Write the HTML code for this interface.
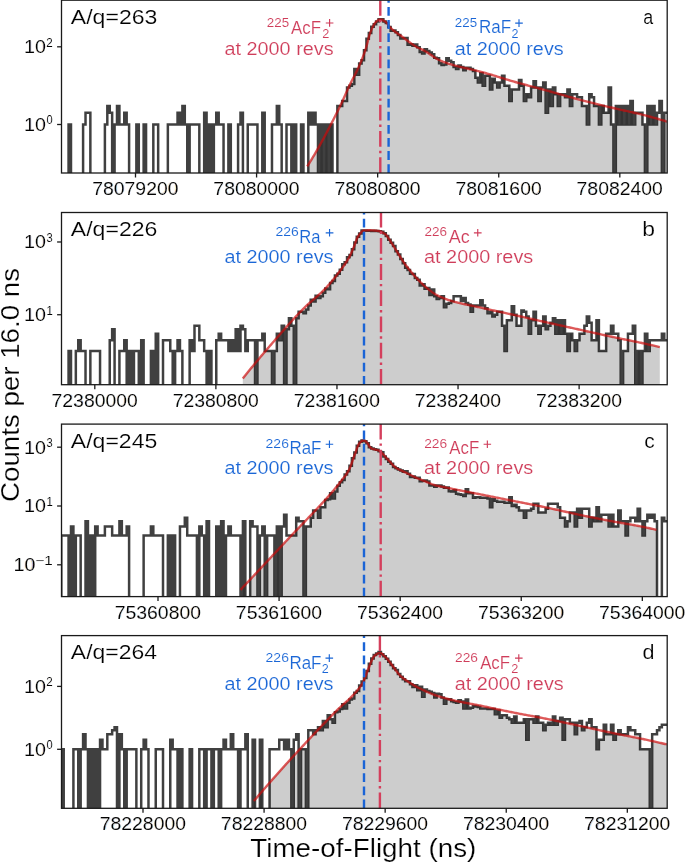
<!DOCTYPE html>
<html><head><meta charset="utf-8"><style>
html,body{margin:0;padding:0;background:#fff;}
svg{display:block;font-family:"Liberation Sans",sans-serif;}
text{font-family:"Liberation Sans",sans-serif;stroke:#fff;}
</style></head><body>
<svg width="685" height="863" viewBox="0 0 685 863">
<rect width="685" height="863" fill="#fff"/>
<clipPath id="clipa"><rect x="61.5" y="0.2" width="605.7" height="172.8"/></clipPath>
<g clip-path="url(#clipa)">
<path d="M307.2,176 L307.2,178 L307.45,178 L307.7,178 L307.95,178 L308.2,178 L308.45,164.45 L308.7,164.05 L308.95,163.66 L309.2,163.26 L309.45,162.86 L309.7,162.46 L309.95,162.06 L310.2,161.66 L310.45,161.26 L310.7,160.85 L310.95,160.44 L311.2,160.04 L311.45,159.63 L311.7,159.22 L311.95,158.81 L312.2,158.39 L312.45,157.98 L312.7,157.56 L312.95,157.15 L313.2,156.73 L313.45,156.31 L313.7,155.89 L313.95,155.47 L314.2,155.04 L314.45,154.62 L314.7,154.2 L314.95,153.77 L315.2,153.34 L315.45,152.91 L315.7,152.48 L315.95,152.05 L316.2,151.62 L316.45,151.19 L316.7,150.75 L316.95,150.32 L317.2,149.88 L317.45,149.44 L317.7,149 L317.95,148.56 L318.2,178 L318.45,178 L318.7,178 L318.95,178 L319.2,178 L319.45,178 L319.7,178 L319.95,178 L320.2,178 L320.45,144.11 L320.7,143.65 L320.95,143.2 L321.2,142.75 L321.45,142.29 L321.7,141.84 L321.95,141.38 L322.2,140.92 L322.45,140.46 L322.7,140.01 L322.95,178 L323.2,178 L323.45,178 L323.7,178 L323.95,178 L324.2,178 L324.45,178 L324.7,178 L324.95,178 L325.2,178 L325.45,134.89 L325.7,134.42 L325.95,133.95 L326.2,133.48 L326.45,133 L326.7,132.53 L326.95,132.05 L327.2,131.58 L327.45,131.1 L327.7,178 L327.95,178 L328.2,178 L328.45,178 L328.7,178 L328.95,178 L329.2,178 L329.45,178 L329.7,178 L329.95,178 L330.2,125.81 L330.45,125.33 L330.7,124.84 L330.95,124.5 L331.2,124.5 L331.45,124.5 L331.7,124.5 L331.95,124.5 L332.2,124.5 L332.45,124.5 L332.7,178 L332.95,178 L333.2,178 L333.45,178 L333.7,178 L333.95,178 L334.2,178 L334.45,178 L334.7,178 L334.95,178 L335.2,178 L335.45,178 L335.7,178 L335.95,178 L336.2,178 L336.45,178 L336.7,178 L336.95,178 L337.2,178 L337.45,111.46 L337.7,110.96 L337.95,110.45 L338.2,109.95 L338.45,109.44 L338.7,108.94 L338.95,108.43 L339.2,107.92 L339.45,107.42 L339.7,106.91 L339.95,106.4 L340.2,105.96 L340.45,105.96 L340.7,105.96 L340.95,105.96 L341.2,105.96 L341.45,105.96 L341.7,105.96 L341.95,105.96 L342.2,105.96 L342.45,101.11 L342.7,101.11 L342.95,101.11 L343.2,101.11 L343.45,101.11 L343.7,101.11 L343.95,101.11 L344.2,101.11 L344.45,101.11 L344.7,101.11 L344.95,101.11 L345.2,101.11 L345.45,101.11 L345.7,101.11 L345.95,101.11 L346.2,101.11 L346.45,101.11 L346.7,101.11 L346.95,101.11 L347.2,90.39 L347.45,89.84 L347.7,89.28 L347.95,88.73 L348.2,88.18 L348.45,87.64 L348.7,87.43 L348.95,87.43 L349.2,87.43 L349.45,87.43 L349.7,85.65 L349.95,85.65 L350.2,85.65 L350.45,85.65 L350.7,85.65 L350.95,85.65 L351.2,85.65 L351.45,85.65 L351.7,85.65 L351.95,84.04 L352.2,84.04 L352.45,84.04 L352.7,84.04 L352.95,84.04 L353.2,84.04 L353.45,84.04 L353.7,84.04 L353.95,84.04 L354.2,84.04 L354.45,75.73 L354.7,75.25 L354.95,74.77 L355.2,74.29 L355.45,73.8 L355.7,73.32 L355.95,72.82 L356.2,72.33 L356.45,71.83 L356.7,71.32 L356.95,74.82 L357.2,74.82 L357.45,74.82 L357.7,74.82 L357.95,74.82 L358.2,74.82 L358.45,74.82 L358.7,74.82 L358.95,74.82 L359.2,65.94 L359.45,65.37 L359.7,64.79 L359.95,64.21 L360.2,63.62 L360.45,63.58 L360.7,63.58 L360.95,63.58 L361.2,63.58 L361.45,63.58 L361.7,60.27 L361.95,60.27 L362.2,60.27 L362.45,60.27 L362.7,60.27 L362.95,60.27 L363.2,60.27 L363.45,60.27 L363.7,60.27 L363.95,60.27 L364.2,53.37 L364.45,52.67 L364.7,51.95 L364.95,51.23 L365.2,50.49 L365.45,50.36 L365.7,50.36 L365.95,50.36 L366.2,50.36 L366.45,46.46 L366.7,45.53 L366.95,44.59 L367.2,43.62 L367.45,42.63 L367.7,41.64 L367.95,40.65 L368.2,39.67 L368.45,38.87 L368.7,38.87 L368.95,36.82 L369.2,35.93 L369.45,35.07 L369.7,34.27 L369.95,33.51 L370.2,33.12 L370.45,33.12 L370.7,33.12 L370.95,33.12 L371.2,33.12 L371.45,29.79 L371.7,29.21 L371.95,28.65 L372.2,28.1 L372.45,27.55 L372.7,27.03 L372.95,26.86 L373.2,26.86 L373.45,26.86 L373.7,25.08 L373.95,24.64 L374.2,24.23 L374.45,24.23 L374.7,24.23 L374.95,24.23 L375.2,24.23 L375.45,24.23 L375.7,24.23 L375.95,24.23 L376.2,21.71 L376.45,21.61 L376.7,21.61 L376.95,21.61 L377.2,21.61 L377.45,21.61 L377.7,21.61 L377.95,21.61 L378.2,21.61 L378.45,21.61 L378.7,19.83 L378.95,19.7 L379.2,19.6 L379.45,19.51 L379.7,19.45 L379.95,19.41 L380.2,19.4 L380.45,19.41 L380.7,19.43 L380.95,19.47 L381.2,19.52 L381.45,19.59 L381.7,19.67 L381.95,19.76 L382.2,19.86 L382.45,19.97 L382.7,20.09 L382.95,20.22 L383.2,20.36 L383.45,21.5 L383.7,21.5 L383.95,21.5 L384.2,21.5 L384.45,21.5 L384.7,21.5 L384.95,21.5 L385.2,21.6 L385.45,21.77 L385.7,21.94 L385.95,22.95 L386.2,22.95 L386.45,22.95 L386.7,22.95 L386.95,23.15 L387.2,23.44 L387.45,23.75 L387.7,24.08 L387.95,24.41 L388.2,24.74 L388.45,27.07 L388.7,27.07 L388.95,27.07 L389.2,27.07 L389.45,27.07 L389.7,27.07 L389.95,27.1 L390.2,27.41 L390.45,27.71 L390.7,30.68 L390.95,30.68 L391.2,30.68 L391.45,30.68 L391.7,30.68 L391.95,30.68 L392.2,30.68 L392.45,30.68 L392.7,30.68 L392.95,30.68 L393.2,30.61 L393.45,30.61 L393.7,30.66 L393.95,30.86 L394.2,31.06 L394.45,31.25 L394.7,31.44 L394.95,31.63 L395.2,31.82 L395.45,32 L395.7,32.24 L395.95,32.37 L396.2,32.55 L396.45,32.73 L396.7,32.9 L396.95,33.08 L397.2,33.25 L397.45,33.43 L397.7,33.6 L397.95,34.94 L398.2,34.94 L398.45,34.94 L398.7,34.94 L398.95,34.94 L399.2,34.94 L399.45,34.94 L399.7,34.97 L399.95,35.14 L400.2,35.31 L400.45,38.45 L400.7,38.45 L400.95,38.45 L401.2,38.45 L401.45,38.45 L401.7,38.45 L401.95,38.45 L402.2,38.45 L402.45,38.45 L402.7,38.45 L402.95,38.25 L403.2,38.25 L403.45,38.25 L403.7,38.25 L403.95,38.25 L404.2,38.25 L404.45,38.37 L404.7,38.56 L404.95,38.75 L405.2,38.94 L405.45,39.12 L405.7,39.31 L405.95,39.5 L406.2,39.69 L406.45,39.88 L406.7,40.07 L406.95,40.26 L407.2,40.45 L407.45,40.64 L407.7,44.74 L407.95,44.74 L408.2,44.74 L408.45,44.74 L408.7,44.74 L408.95,44.74 L409.2,44.74 L409.45,44.74 L409.7,44.74 L409.95,44.74 L410.2,44.15 L410.45,44.15 L410.7,44.15 L410.95,44.15 L411.2,44.15 L411.45,44.15 L411.7,44.15 L411.95,44.15 L412.2,44.15 L412.45,45.66 L412.7,45.66 L412.95,45.66 L413.2,45.66 L413.45,45.66 L413.7,45.66 L413.95,45.66 L414.2,45.66 L414.45,45.66 L414.7,45.77 L414.95,45.93 L415.2,46.08 L415.45,46.23 L415.7,46.38 L415.95,46.53 L416.2,46.67 L416.45,46.82 L416.7,46.96 L416.95,47.09 L417.2,47.23 L417.45,47.36 L417.7,47.49 L417.95,47.62 L418.2,47.75 L418.45,47.87 L418.7,48 L418.95,48.12 L419.2,48.24 L419.45,48.36 L419.7,51.88 L419.95,51.88 L420.2,51.88 L420.45,51.88 L420.7,51.88 L420.95,51.88 L421.2,51.88 L421.45,51.88 L421.7,51.88 L421.95,51.88 L422.2,53.56 L422.45,53.56 L422.7,53.56 L422.95,53.56 L423.2,53.56 L423.45,53.56 L423.7,53.56 L423.95,53.56 L424.2,53.56 L424.45,53.56 L424.7,50.92 L424.95,51.05 L425.2,51.19 L425.45,51.33 L425.7,51.47 L425.95,51.62 L426.2,51.76 L426.45,51.91 L426.7,52.07 L426.95,52.22 L427.2,52.38 L427.45,52.54 L427.7,52.7 L427.95,52.86 L428.2,53.03 L428.45,53.2 L428.7,53.36 L428.95,53.53 L429.2,53.7 L429.45,53.88 L429.7,54.05 L429.95,54.22 L430.2,54.4 L430.45,54.57 L430.7,54.75 L430.95,54.92 L431.2,55.1 L431.45,55.27 L431.7,55.45 L431.95,55.62 L432.2,55.8 L432.45,55.97 L432.7,56.15 L432.95,56.32 L433.2,56.49 L433.45,56.66 L433.7,56.83 L433.95,57 L434.2,57.17 L434.45,57.83 L434.7,57.83 L434.95,57.83 L435.2,57.83 L435.45,57.98 L435.7,58.14 L435.95,58.29 L436.2,58.44 L436.45,58.59 L436.7,58.74 L436.95,58.88 L437.2,59.02 L437.45,59.16 L437.7,59.3 L437.95,59.43 L438.2,59.56 L438.45,59.68 L438.7,59.8 L438.95,59.92 L439.2,63.13 L439.45,63.13 L439.7,63.13 L439.95,63.13 L440.2,63.13 L440.45,63.13 L440.7,63.13 L440.95,63.13 L441.2,63.13 L441.45,63.13 L441.7,65 L441.95,65 L442.2,65 L442.45,65 L442.7,65 L442.95,65 L443.2,65 L443.45,65 L443.7,65 L443.95,64.51 L444.2,64.51 L444.45,64.51 L444.7,64.51 L444.95,64.51 L445.2,64.51 L445.45,64.51 L445.7,64.51 L445.95,64.51 L446.2,64.51 L446.45,62.94 L446.7,63.02 L446.95,63.11 L447.2,63.19 L447.45,63.28 L447.7,63.36 L447.95,63.44 L448.2,63.53 L448.45,63.61 L448.7,63.69 L448.95,63.77 L449.2,63.85 L449.45,63.93 L449.7,64.01 L449.95,64.08 L450.2,64.16 L450.45,64.24 L450.7,64.32 L450.95,64.39 L451.2,64.47 L451.45,64.54 L451.7,64.62 L451.95,64.69 L452.2,64.76 L452.45,64.84 L452.7,64.91 L452.95,64.98 L453.2,65.05 L453.45,65.12 L453.7,67.11 L453.95,67.11 L454.2,67.11 L454.45,67.11 L454.7,67.11 L454.95,67.11 L455.2,67.11 L455.45,67.11 L455.7,67.11 L455.95,67.11 L456.2,68.89 L456.45,68.89 L456.7,68.89 L456.95,68.89 L457.2,68.89 L457.45,68.89 L457.7,68.89 L457.95,68.89 L458.2,68.89 L458.45,66.45 L458.7,66.52 L458.95,66.58 L459.2,66.64 L459.45,66.7 L459.7,66.77 L459.95,66.83 L460.2,66.89 L460.45,66.95 L460.7,67.01 L460.95,67.11 L461.2,67.13 L461.45,67.19 L461.7,67.25 L461.95,67.31 L462.2,67.37 L462.45,67.43 L462.7,67.49 L462.95,67.54 L463.2,67.6 L463.45,70.19 L463.7,70.19 L463.95,70.19 L464.2,70.19 L464.45,70.19 L464.7,70.19 L464.95,70.19 L465.2,70.19 L465.45,70.19 L465.7,70.19 L465.95,68.24 L466.2,68.29 L466.45,68.35 L466.7,68.41 L466.95,68.46 L467.2,68.52 L467.45,68.58 L467.7,68.63 L467.95,68.69 L468.2,68.75 L468.45,68.8 L468.7,68.86 L468.95,68.92 L469.2,68.97 L469.45,69.03 L469.7,69.09 L469.95,69.14 L470.2,69.2 L470.45,69.26 L470.7,69.31 L470.95,69.37 L471.2,69.43 L471.45,69.49 L471.7,69.54 L471.95,69.6 L472.2,69.66 L472.45,69.71 L472.7,69.77 L472.95,69.83 L473.2,70.88 L473.45,70.88 L473.7,70.88 L473.95,70.88 L474.2,70.88 L474.45,70.88 L474.7,70.88 L474.95,70.88 L475.2,70.88 L475.45,77.72 L475.7,77.72 L475.95,77.72 L476.2,77.72 L476.45,77.72 L476.7,77.72 L476.95,77.72 L477.2,77.72 L477.45,77.72 L477.7,77.72 L477.95,82.57 L478.2,82.57 L478.45,82.57 L478.7,82.57 L478.95,82.57 L479.2,82.57 L479.45,82.57 L479.7,82.57 L479.95,82.57 L480.2,82.57 L480.45,73.13 L480.7,73.13 L480.95,73.13 L481.2,73.13 L481.45,73.13 L481.7,73.13 L481.95,73.13 L482.2,73.13 L482.45,73.13 L482.7,85.65 L482.95,85.65 L483.2,85.65 L483.45,85.65 L483.7,85.65 L483.95,85.65 L484.2,85.65 L484.45,85.65 L484.7,85.65 L484.95,85.65 L485.2,75.73 L485.45,75.73 L485.7,75.73 L485.95,75.73 L486.2,75.73 L486.45,75.73 L486.7,75.73 L486.95,75.73 L487.2,75.73 L487.45,75.73 L487.7,75.73 L487.95,75.73 L488.2,75.73 L488.45,75.73 L488.7,75.73 L488.95,75.73 L489.2,75.73 L489.45,75.73 L489.7,75.73 L489.95,89.41 L490.2,89.41 L490.45,89.41 L490.7,89.41 L490.95,89.41 L491.2,89.41 L491.45,89.41 L491.7,89.41 L491.95,89.41 L492.2,89.41 L492.45,78.81 L492.7,78.81 L492.95,78.81 L493.2,78.81 L493.45,78.81 L493.7,78.81 L493.95,78.81 L494.2,78.81 L494.45,78.81 L494.7,78.81 L494.95,82.57 L495.2,82.57 L495.45,82.57 L495.7,82.57 L495.95,82.57 L496.2,82.57 L496.45,82.57 L496.7,82.57 L496.95,82.57 L497.2,87.43 L497.45,87.43 L497.7,87.43 L497.95,87.43 L498.2,87.43 L498.45,87.43 L498.7,87.43 L498.95,87.43 L499.2,87.43 L499.45,87.43 L499.7,82.57 L499.95,82.57 L500.2,82.57 L500.45,82.57 L500.7,82.57 L500.95,82.57 L501.2,82.57 L501.45,82.57 L501.7,82.57 L501.95,82.57 L502.2,78.1 L502.45,78.18 L502.7,78.26 L502.95,78.34 L503.2,78.41 L503.45,78.49 L503.7,78.57 L503.95,78.64 L504.2,78.72 L504.45,78.8 L504.7,85.65 L504.95,85.65 L505.2,85.65 L505.45,85.65 L505.7,85.65 L505.95,85.65 L506.2,85.65 L506.45,85.65 L506.7,85.65 L506.95,85.65 L507.2,85.65 L507.45,85.65 L507.7,85.65 L507.95,85.65 L508.2,85.65 L508.45,85.65 L508.7,85.65 L508.95,85.65 L509.2,85.65 L509.45,101.11 L509.7,101.11 L509.95,101.11 L510.2,101.11 L510.45,101.11 L510.7,101.11 L510.95,101.11 L511.2,101.11 L511.45,101.11 L511.7,101.11 L511.95,89.41 L512.2,89.41 L512.45,89.41 L512.7,89.41 L512.95,89.41 L513.2,89.41 L513.45,89.41 L513.7,89.41 L513.95,89.41 L514.2,89.41 L514.45,89.41 L514.7,89.41 L514.95,89.41 L515.2,89.41 L515.45,89.41 L515.7,89.41 L515.95,89.41 L516.2,89.41 L516.45,89.41 L516.7,89.41 L516.95,89.41 L517.2,89.41 L517.45,89.41 L517.7,89.41 L517.95,89.41 L518.2,89.41 L518.45,89.41 L518.7,89.41 L518.95,89.41 L519.2,83.1 L519.45,83.17 L519.7,83.24 L519.95,83.31 L520.2,83.38 L520.45,83.44 L520.7,83.51 L520.95,83.58 L521.2,83.65 L521.45,85.65 L521.7,85.65 L521.95,85.65 L522.2,85.65 L522.45,85.65 L522.7,85.65 L522.95,85.65 L523.2,85.65 L523.45,85.65 L523.7,85.65 L523.95,101.11 L524.2,101.11 L524.45,101.11 L524.7,101.11 L524.95,101.11 L525.2,101.11 L525.45,101.11 L525.7,101.11 L525.95,101.11 L526.2,101.11 L526.45,94.27 L526.7,94.27 L526.95,94.27 L527.2,94.27 L527.45,94.27 L527.7,94.27 L527.95,94.27 L528.2,94.27 L528.45,94.27 L528.7,97.35 L528.95,97.35 L529.2,97.35 L529.45,97.35 L529.7,97.35 L529.95,97.35 L530.2,97.35 L530.45,97.35 L530.7,97.35 L530.95,97.35 L531.2,87.43 L531.45,87.43 L531.7,87.43 L531.95,87.43 L532.2,87.43 L532.45,87.43 L532.7,87.43 L532.95,87.43 L533.2,87.43 L533.45,87.43 L533.7,87.01 L533.95,87.07 L534.2,87.14 L534.45,87.21 L534.7,87.27 L534.95,87.34 L535.2,87.41 L535.45,87.47 L535.7,87.54 L535.95,87.61 L536.2,87.67 L536.45,87.74 L536.7,87.81 L536.95,87.87 L537.2,87.94 L537.45,88.01 L537.7,88.07 L537.95,88.14 L538.2,88.21 L538.45,101.11 L538.7,101.11 L538.95,101.11 L539.2,101.11 L539.45,101.11 L539.7,101.11 L539.95,101.11 L540.2,101.11 L540.45,101.11 L540.7,101.11 L540.95,88.94 L541.2,89.01 L541.45,89.08 L541.7,89.15 L541.95,89.21 L542.2,89.28 L542.45,89.35 L542.7,89.42 L542.95,89.49 L543.2,89.55 L543.45,89.62 L543.7,89.69 L543.95,89.76 L544.2,89.82 L544.45,89.89 L544.7,89.96 L544.95,90.03 L545.2,90.1 L545.45,90.17 L545.7,112.8 L545.95,112.8 L546.2,112.8 L546.45,112.8 L546.7,112.8 L546.95,112.8 L547.2,112.8 L547.45,112.8 L547.7,112.8 L547.95,112.8 L548.2,90.93 L548.45,91 L548.7,91.06 L548.95,91.13 L549.2,91.2 L549.45,91.27 L549.7,91.34 L549.95,91.41 L550.2,91.48 L550.45,91.55 L550.7,105.96 L550.95,105.96 L551.2,105.96 L551.45,105.96 L551.7,105.96 L551.95,105.96 L552.2,105.96 L552.45,105.96 L552.7,105.96 L552.95,92.26 L553.2,92.33 L553.45,92.4 L553.7,92.47 L553.95,92.54 L554.2,92.61 L554.45,92.68 L554.7,92.75 L554.95,92.83 L555.2,92.9 L555.45,94.27 L555.7,94.27 L555.95,94.27 L556.2,94.27 L556.45,94.27 L556.7,94.27 L556.95,94.27 L557.2,94.27 L557.45,94.27 L557.7,94.27 L557.95,105.96 L558.2,105.96 L558.45,105.96 L558.7,105.96 L558.95,105.96 L559.2,105.96 L559.45,105.96 L559.7,105.96 L559.95,105.96 L560.2,94.32 L560.45,94.39 L560.7,94.46 L560.95,94.53 L561.2,94.61 L561.45,94.68 L561.7,94.75 L561.95,94.82 L562.2,94.89 L562.45,94.96 L562.7,95.03 L562.95,95.1 L563.2,95.17 L563.45,95.25 L563.7,95.32 L563.95,95.39 L564.2,95.46 L564.45,95.53 L564.7,95.6 L564.95,95.67 L565.2,97.35 L565.45,97.35 L565.7,97.35 L565.95,97.35 L566.2,97.35 L566.45,97.35 L566.7,97.35 L566.95,97.35 L567.2,97.35 L567.45,96.38 L567.7,96.45 L567.95,96.52 L568.2,96.59 L568.45,96.66 L568.7,96.73 L568.95,96.8 L569.2,96.87 L569.45,96.94 L569.7,97.01 L569.95,105.96 L570.2,105.96 L570.45,105.96 L570.7,105.96 L570.95,105.96 L571.2,105.96 L571.45,105.96 L571.7,105.96 L571.95,105.96 L572.2,105.96 L572.45,97.77 L572.7,97.84 L572.95,97.91 L573.2,97.97 L573.45,98.04 L573.7,98.11 L573.95,98.18 L574.2,98.25 L574.45,98.32 L574.7,98.38 L574.95,98.45 L575.2,98.52 L575.45,98.59 L575.7,98.65 L575.95,98.72 L576.2,98.79 L576.45,98.86 L576.7,98.92 L576.95,98.99 L577.2,99.06 L577.45,99.12 L577.7,99.19 L577.95,99.25 L578.2,99.32 L578.45,99.39 L578.7,99.45 L578.95,99.52 L579.2,99.58 L579.45,99.65 L579.7,99.72 L579.95,99.78 L580.2,99.85 L580.45,99.91 L580.7,99.98 L580.95,100.04 L581.2,100.11 L581.45,100.17 L581.7,100.24 L581.95,105.96 L582.2,105.96 L582.45,105.96 L582.7,105.96 L582.95,105.96 L583.2,105.96 L583.45,105.96 L583.7,105.96 L583.95,105.96 L584.2,105.96 L584.45,105.96 L584.7,105.96 L584.95,105.96 L585.2,105.96 L585.45,105.96 L585.7,105.96 L585.95,105.96 L586.2,105.96 L586.45,105.96 L586.7,105.96 L586.95,124.5 L587.2,124.5 L587.45,124.5 L587.7,124.5 L587.95,124.5 L588.2,124.5 L588.45,124.5 L588.7,124.5 L588.95,124.5 L589.2,124.5 L589.45,102.22 L589.7,102.28 L589.95,102.35 L590.2,102.41 L590.45,102.47 L590.7,102.54 L590.95,102.6 L591.2,102.66 L591.45,102.72 L591.7,102.79 L591.95,102.85 L592.2,102.91 L592.45,102.97 L592.7,103.04 L592.95,103.1 L593.2,103.16 L593.45,103.22 L593.7,103.29 L593.95,103.35 L594.2,105.96 L594.45,105.96 L594.7,105.96 L594.95,105.96 L595.2,105.96 L595.45,105.96 L595.7,105.96 L595.95,105.96 L596.2,105.96 L596.45,105.96 L596.7,105.96 L596.95,105.96 L597.2,105.96 L597.45,105.96 L597.7,105.96 L597.95,105.96 L598.2,105.96 L598.45,105.96 L598.7,105.96 L598.95,124.5 L599.2,124.5 L599.45,124.5 L599.7,124.5 L599.95,124.5 L600.2,124.5 L600.45,124.5 L600.7,124.5 L600.95,124.5 L601.2,124.5 L601.45,105.96 L601.7,105.96 L601.95,105.96 L602.2,105.96 L602.45,105.96 L602.7,105.96 L602.95,105.96 L603.2,105.96 L603.45,105.96 L603.7,105.96 L603.95,112.8 L604.2,112.8 L604.45,112.8 L604.7,112.8 L604.95,112.8 L605.2,112.8 L605.45,112.8 L605.7,112.8 L605.95,112.8 L606.2,112.8 L606.45,112.8 L606.7,112.8 L606.95,112.8 L607.2,112.8 L607.45,112.8 L607.7,112.8 L607.95,112.8 L608.2,112.8 L608.45,112.8 L608.7,106.94 L608.95,107 L609.2,107.06 L609.45,107.12 L609.7,107.18 L609.95,107.24 L610.2,107.3 L610.45,107.36 L610.7,107.42 L610.95,107.48 L611.2,124.5 L611.45,124.5 L611.7,124.5 L611.95,124.5 L612.2,124.5 L612.45,124.5 L612.7,124.5 L612.95,124.5 L613.2,124.5 L613.45,178 L613.7,178 L613.95,178 L614.2,178 L614.45,178 L614.7,178 L614.95,178 L615.2,178 L615.45,178 L615.7,178 L615.95,108.65 L616.2,108.71 L616.45,108.76 L616.7,108.82 L616.95,108.88 L617.2,108.93 L617.45,108.99 L617.7,109.05 L617.95,109.1 L618.2,109.16 L618.45,124.5 L618.7,124.5 L618.95,124.5 L619.2,124.5 L619.45,124.5 L619.7,124.5 L619.95,124.5 L620.2,124.5 L620.45,124.5 L620.7,109.72 L620.95,109.78 L621.2,109.83 L621.45,109.89 L621.7,109.95 L621.95,110 L622.2,110.06 L622.45,110.11 L622.7,110.17 L622.95,110.22 L623.2,124.5 L623.45,124.5 L623.7,124.5 L623.95,124.5 L624.2,124.5 L624.45,124.5 L624.7,124.5 L624.95,124.5 L625.2,124.5 L625.45,124.5 L625.7,110.83 L625.95,110.89 L626.2,110.95 L626.45,111 L626.7,111.06 L626.95,111.11 L627.2,111.17 L627.45,111.22 L627.7,111.28 L627.95,111.34 L628.2,124.5 L628.45,124.5 L628.7,124.5 L628.95,124.5 L629.2,124.5 L629.45,124.5 L629.7,124.5 L629.95,124.5 L630.2,124.5 L630.45,111.9 L630.7,111.95 L630.95,112.01 L631.2,112.07 L631.45,112.12 L631.7,112.18 L631.95,112.24 L632.2,112.29 L632.45,112.35 L632.7,112.41 L632.95,124.5 L633.2,124.5 L633.45,124.5 L633.7,124.5 L633.95,124.5 L634.2,124.5 L634.45,124.5 L634.7,124.5 L634.95,124.5 L635.2,124.5 L635.45,113.04 L635.7,113.1 L635.95,113.16 L636.2,113.22 L636.45,113.28 L636.7,113.34 L636.95,113.4 L637.2,113.45 L637.45,113.51 L637.7,113.57 L637.95,113.63 L638.2,113.69 L638.45,113.75 L638.7,113.81 L638.95,113.87 L639.2,113.93 L639.45,113.99 L639.7,114.06 L639.95,114.12 L640.2,114.18 L640.45,114.24 L640.7,114.3 L640.95,114.36 L641.2,114.42 L641.45,114.49 L641.7,114.55 L641.95,114.61 L642.2,114.67 L642.45,114.74 L642.7,124.5 L642.95,124.5 L643.2,124.5 L643.45,124.5 L643.7,124.5 L643.95,124.5 L644.2,124.5 L644.45,124.5 L644.7,124.5 L644.95,178 L645.2,178 L645.45,178 L645.7,178 L645.95,178 L646.2,178 L646.45,178 L646.7,178 L646.95,178 L647.2,178 L647.45,116.03 L647.7,116.09 L647.95,116.16 L648.2,116.23 L648.45,116.29 L648.7,116.36 L648.95,116.43 L649.2,116.49 L649.45,116.56 L649.7,116.63 L649.95,124.5 L650.2,124.5 L650.45,124.5 L650.7,124.5 L650.95,124.5 L651.2,124.5 L651.45,124.5 L651.7,124.5 L651.95,124.5 L652.2,117.3 L652.45,117.37 L652.7,117.44 L652.95,117.51 L653.2,117.58 L653.45,117.65 L653.7,117.72 L653.95,117.78 L654.2,117.85 L654.45,117.92 L654.7,124.5 L654.95,124.5 L655.2,124.5 L655.45,124.5 L655.7,124.5 L655.95,124.5 L656.2,124.5 L656.45,124.5 L656.7,124.5 L656.95,124.5 L657.2,118.69 L657.45,118.76 L657.7,118.84 L657.95,118.91 L658.2,118.98 L658.45,119.05 L658.7,119.12 L658.95,119.19 L659.2,119.26 L659.45,119.33 L659.7,119.41 L659.95,119.48 L660.2,119.55 L660.45,119.62 L660.7,119.69 L660.95,119.77 L661.2,119.84 L661.45,119.91 L661.7,119.98 L661.95,178 L662.2,178 L662.45,178 L662.7,178 L662.95,178 L663.2,178 L663.45,178 L663.7,178 L663.95,178 L664.2,178 L664.45,120.79 L664.7,120.86 L664.95,120.93 L665.2,121.01 L665.45,121.08 L665.7,121.15 L665.95,121.23 L666.2,121.3 L666.45,121.38 L666.7,121.45 L666.95,121.53 L667.2,121.6 L667.2,176 Z" fill="#cdcdcd" stroke="none"/>
<path d="M61.3,179 L61.3,179 L63.72,179 L63.72,179 L66.14,179 L66.14,179 L68.56,179 L68.56,124.5 L70.99,124.5 L70.99,179 L73.41,179 L73.41,179 L75.83,179 L75.83,179 L78.25,179 L78.25,179 L80.67,179 L80.67,179 L83.09,179 L83.09,124.5 L85.52,124.5 L85.52,112.8 L87.94,112.8 L87.94,112.8 L90.36,112.8 L90.36,179 L92.78,179 L92.78,179 L95.2,179 L95.2,179 L97.62,179 L97.62,179 L100.05,179 L100.05,179 L102.47,179 L102.47,179 L104.89,179 L104.89,124.5 L107.31,124.5 L107.31,105.96 L109.73,105.96 L109.73,112.8 L112.15,112.8 L112.15,179 L114.58,179 L114.58,124.5 L117,124.5 L117,105.96 L119.42,105.96 L119.42,124.5 L121.84,124.5 L121.84,124.5 L124.26,124.5 L124.26,112.8 L126.68,112.8 L126.68,124.5 L129.1,124.5 L129.1,179 L131.53,179 L131.53,179 L133.95,179 L133.95,179 L136.37,179 L136.37,124.5 L138.79,124.5 L138.79,179 L141.21,179 L141.21,179 L143.63,179 L143.63,124.5 L146.06,124.5 L146.06,179 L148.48,179 L148.48,179 L150.9,179 L150.9,179 L153.32,179 L153.32,124.5 L155.74,124.5 L155.74,124.5 L158.16,124.5 L158.16,179 L160.59,179 L160.59,179 L163.01,179 L163.01,179 L165.43,179 L165.43,179 L167.85,179 L167.85,124.5 L170.27,124.5 L170.27,124.5 L172.69,124.5 L172.69,124.5 L175.12,124.5 L175.12,124.5 L177.54,124.5 L177.54,112.8 L179.96,112.8 L179.96,124.5 L182.38,124.5 L182.38,105.96 L184.8,105.96 L184.8,124.5 L187.22,124.5 L187.22,179 L189.64,179 L189.64,124.5 L192.07,124.5 L192.07,124.5 L194.49,124.5 L194.49,124.5 L196.91,124.5 L196.91,124.5 L199.33,124.5 L199.33,179 L201.75,179 L201.75,179 L204.17,179 L204.17,112.8 L206.6,112.8 L206.6,179 L209.02,179 L209.02,124.5 L211.44,124.5 L211.44,179 L213.86,179 L213.86,124.5 L216.28,124.5 L216.28,112.8 L218.7,112.8 L218.7,124.5 L221.13,124.5 L221.13,124.5 L223.55,124.5 L223.55,179 L225.97,179 L225.97,179 L228.39,179 L228.39,124.5 L230.81,124.5 L230.81,179 L233.23,179 L233.23,179 L235.66,179 L235.66,179 L238.08,179 L238.08,124.5 L240.5,124.5 L240.5,112.8 L242.92,112.8 L242.92,179 L245.34,179 L245.34,179 L247.76,179 L247.76,124.5 L250.18,124.5 L250.18,124.5 L252.61,124.5 L252.61,124.5 L255.03,124.5 L255.03,124.5 L257.45,124.5 L257.45,179 L259.87,179 L259.87,179 L262.29,179 L262.29,112.8 L264.71,112.8 L264.71,179 L267.14,179 L267.14,179 L269.56,179 L269.56,179 L271.98,179 L271.98,124.5 L274.4,124.5 L274.4,124.5 L276.82,124.5 L276.82,105.96 L279.24,105.96 L279.24,124.5 L281.67,124.5 L281.67,179 L284.09,179 L284.09,179 L286.51,179 L286.51,124.5 L288.93,124.5 L288.93,124.5 L291.35,124.5 L291.35,179 L293.77,179 L293.77,124.5 L296.2,124.5 L296.2,179 L298.62,179 L298.62,179 L301.04,179 L301.04,124.5 L303.46,124.5 L303.46,179 L305.88,179 L305.88,179 L308.3,179 L308.3,112.8 L310.72,112.8 L310.72,124.5 L313.15,124.5 L313.15,112.8 L315.57,112.8 L315.57,124.5 L317.99,124.5 L317.99,179 L320.41,179 L320.41,124.5 L322.83,124.5 L322.83,179 L325.25,179 L325.25,124.5 L327.68,124.5 L327.68,179 L330.1,179 L330.1,124.5 L332.52,124.5 L332.52,179 L334.94,179 L334.94,179 L337.36,179 L337.36,105.96 L339.78,105.96 L339.78,105.96 L342.21,105.96 L342.21,101.11 L344.63,101.11 L344.63,101.11 L347.05,101.11 L347.05,87.43 L349.47,87.43 L349.47,85.65 L351.89,85.65 L351.89,84.04 L354.31,84.04 L354.31,68.89 L356.74,68.89 L356.74,74.82 L359.16,74.82 L359.16,63.58 L361.58,63.58 L361.58,60.27 L364,60.27 L364,50.36 L366.42,50.36 L366.42,38.87 L368.84,38.87 L368.84,33.12 L371.26,33.12 L371.26,26.86 L373.69,26.86 L373.69,24.23 L376.11,24.23 L376.11,21.61 L378.53,21.61 L378.53,19.34 L380.95,19.34 L380.95,19.15 L383.37,19.15 L383.37,21.5 L385.79,21.5 L385.79,22.95 L388.22,22.95 L388.22,27.07 L390.64,27.07 L390.64,30.68 L393.06,30.68 L393.06,30.61 L395.48,30.61 L395.48,32.24 L397.9,32.24 L397.9,34.94 L400.32,34.94 L400.32,38.45 L402.75,38.45 L402.75,38.25 L405.17,38.25 L405.17,37.95 L407.59,37.95 L407.59,44.74 L410.01,44.74 L410.01,44.15 L412.43,44.15 L412.43,45.66 L414.85,45.66 L414.85,44.59 L417.28,44.59 L417.28,47.31 L419.7,47.31 L419.7,51.88 L422.12,51.88 L422.12,53.56 L424.54,53.56 L424.54,49.15 L426.96,49.15 L426.96,50.99 L429.38,50.99 L429.38,52.58 L431.8,52.58 L431.8,54.33 L434.23,54.33 L434.23,57.83 L436.65,57.83 L436.65,58.16 L439.07,58.16 L439.07,63.13 L441.49,63.13 L441.49,65 L443.91,65 L443.91,64.51 L446.33,64.51 L446.33,58.16 L448.76,58.16 L448.76,60.65 L451.18,60.65 L451.18,62.26 L453.6,62.26 L453.6,67.11 L456.02,67.11 L456.02,68.89 L458.44,68.89 L458.44,65.51 L460.86,65.51 L460.86,67.11 L463.29,67.11 L463.29,70.19 L465.71,70.19 L465.71,67.69 L468.13,67.69 L468.13,67.69 L470.55,67.69 L470.55,68.89 L472.97,68.89 L472.97,70.88 L475.39,70.88 L475.39,77.72 L477.82,77.72 L477.82,82.57 L480.24,82.57 L480.24,73.13 L482.66,73.13 L482.66,85.65 L485.08,85.65 L485.08,75.73 L487.5,75.73 L487.5,75.73 L489.92,75.73 L489.92,89.41 L492.34,89.41 L492.34,78.81 L494.77,78.81 L494.77,82.57 L497.19,82.57 L497.19,87.43 L499.61,87.43 L499.61,82.57 L502.03,82.57 L502.03,75.73 L504.45,75.73 L504.45,85.65 L506.87,85.65 L506.87,85.65 L509.3,85.65 L509.3,101.11 L511.72,101.11 L511.72,89.41 L514.14,89.41 L514.14,89.41 L516.56,89.41 L516.56,89.41 L518.98,89.41 L518.98,79.97 L521.4,79.97 L521.4,85.65 L523.83,85.65 L523.83,101.11 L526.25,101.11 L526.25,94.27 L528.67,94.27 L528.67,97.35 L531.09,97.35 L531.09,87.43 L533.51,87.43 L533.51,81.22 L535.93,81.22 L535.93,87.43 L538.36,87.43 L538.36,101.11 L540.78,101.11 L540.78,87.43 L543.2,87.43 L543.2,82.57 L545.62,82.57 L545.62,112.8 L548.04,112.8 L548.04,89.41 L550.46,89.41 L550.46,105.96 L552.88,105.96 L552.88,87.43 L555.31,87.43 L555.31,94.27 L557.73,94.27 L557.73,105.96 L560.15,105.96 L560.15,94.27 L562.57,94.27 L562.57,94.27 L564.99,94.27 L564.99,97.35 L567.41,97.35 L567.41,89.41 L569.84,89.41 L569.84,105.96 L572.26,105.96 L572.26,94.27 L574.68,94.27 L574.68,94.27 L577.1,94.27 L577.1,97.35 L579.52,97.35 L579.52,97.35 L581.94,97.35 L581.94,105.96 L584.37,105.96 L584.37,105.96 L586.79,105.96 L586.79,124.5 L589.21,124.5 L589.21,94.27 L591.63,94.27 L591.63,97.35 L594.05,97.35 L594.05,105.96 L596.47,105.96 L596.47,105.96 L598.9,105.96 L598.9,124.5 L601.32,124.5 L601.32,105.96 L603.74,105.96 L603.74,112.8 L606.16,112.8 L606.16,112.8 L608.58,112.8 L608.58,87.43 L611,87.43 L611,124.5 L613.42,124.5 L613.42,179 L615.85,179 L615.85,105.96 L618.27,105.96 L618.27,124.5 L620.69,124.5 L620.69,105.96 L623.11,105.96 L623.11,124.5 L625.53,124.5 L625.53,105.96 L627.95,105.96 L627.95,124.5 L630.38,124.5 L630.38,101.11 L632.8,101.11 L632.8,124.5 L635.22,124.5 L635.22,112.8 L637.64,112.8 L637.64,112.8 L640.06,112.8 L640.06,112.8 L642.48,112.8 L642.48,124.5 L644.91,124.5 L644.91,179 L647.33,179 L647.33,105.96 L649.75,105.96 L649.75,124.5 L652.17,124.5 L652.17,105.96 L654.59,105.96 L654.59,124.5 L657.01,124.5 L657.01,112.8 L659.44,112.8 L659.44,101.11 L661.86,101.11 L661.86,179 L664.28,179 L664.28,112.8 L666.7,112.8 L666.7,112.8 L669.12,112.8 L669.12,179 L671.54,179 L671.54,179" fill="none" stroke="#000" stroke-opacity="0.75" stroke-width="2.5" stroke-linejoin="miter"/>
<path d="M307.2,166.4 L308.2,164.84 L309.2,163.26 L310.2,161.66 L311.2,160.04 L312.2,158.39 L313.2,156.73 L314.2,155.04 L315.2,153.34 L316.2,151.62 L317.2,149.88 L318.2,148.12 L319.2,146.35 L320.2,144.56 L321.2,142.75 L322.2,140.92 L323.2,139.08 L324.2,137.23 L325.2,135.36 L326.2,133.48 L327.2,131.58 L328.2,129.67 L329.2,127.75 L330.2,125.81 L331.2,123.86 L332.2,121.91 L333.2,119.94 L334.2,117.96 L335.2,115.97 L336.2,113.97 L337.2,111.96 L338.2,109.95 L339.2,107.92 L340.2,105.89 L341.2,103.8 L342.2,101.64 L343.2,99.42 L344.2,97.17 L345.2,94.9 L346.2,92.64 L347.2,90.39 L348.2,88.18 L349.2,86.03 L350.2,83.96 L351.2,81.96 L352.2,80.02 L353.2,78.11 L354.2,76.21 L355.2,74.29 L356.2,72.33 L357.2,70.3 L358.2,68.18 L359.2,65.94 L360.2,63.62 L361.2,61.22 L362.2,58.72 L363.2,56.11 L364.2,53.37 L365.2,50.49 L366.2,47.34 L367.2,43.62 L368.2,39.67 L369.2,35.93 L370.2,32.81 L371.2,30.38 L372.2,28.1 L373.2,26.02 L374.2,24.22 L375.2,22.76 L376.2,21.71 L377.2,20.87 L378.2,20.12 L379.2,19.6 L380.2,19.4 L381.2,19.52 L382.2,19.86 L383.2,20.36 L384.2,20.96 L385.2,21.6 L386.2,22.36 L387.2,23.44 L388.2,24.74 L389.2,26.11 L390.2,27.41 L391.2,28.5 L392.2,29.41 L393.2,30.25 L394.2,31.06 L395.2,31.82 L396.2,32.55 L397.2,33.25 L398.2,33.94 L399.2,34.63 L400.2,35.31 L401.2,36 L402.2,36.71 L403.2,37.44 L404.2,38.18 L405.2,38.94 L406.2,39.69 L407.2,40.45 L408.2,41.2 L409.2,41.95 L410.2,42.69 L411.2,43.41 L412.2,44.12 L413.2,44.8 L414.2,45.45 L415.2,46.08 L416.2,46.67 L417.2,47.23 L418.2,47.75 L419.2,48.24 L420.2,48.72 L421.2,49.19 L422.2,49.66 L423.2,50.15 L424.2,50.65 L425.2,51.19 L426.2,51.76 L427.2,52.38 L428.2,53.03 L429.2,53.7 L430.2,54.4 L431.2,55.1 L432.2,55.8 L433.2,56.49 L434.2,57.17 L435.2,57.82 L436.2,58.44 L437.2,59.02 L438.2,59.56 L439.2,60.03 L440.2,60.49 L441.2,60.92 L442.2,61.34 L443.2,61.74 L444.2,62.12 L445.2,62.49 L446.2,62.85 L447.2,63.19 L448.2,63.53 L449.2,63.85 L450.2,64.16 L451.2,64.47 L452.2,64.76 L453.2,65.05 L454.2,65.33 L455.2,65.61 L456.2,65.87 L457.2,66.14 L458.2,66.39 L459.2,66.64 L460.2,66.89 L461.2,67.13 L462.2,67.37 L463.2,67.6 L464.2,67.83 L465.2,68.06 L466.2,68.29 L467.2,68.52 L468.2,68.75 L469.2,68.97 L470.2,69.2 L471.2,69.43 L472.2,69.66 L473.2,69.89 L474.2,70.12 L475.2,70.36 L476.2,70.6 L477.2,70.84 L478.2,71.09 L479.2,71.34 L480.2,71.59 L481.2,71.86 L482.2,72.13 L483.2,72.4 L484.2,72.68 L485.2,72.96 L486.2,73.25 L487.2,73.54 L488.2,73.83 L489.2,74.12 L490.2,74.42 L491.2,74.72 L492.2,75.02 L493.2,75.33 L494.2,75.63 L495.2,75.94 L496.2,76.25 L497.2,76.56 L498.2,76.87 L499.2,77.18 L500.2,77.48 L501.2,77.79 L502.2,78.1 L503.2,78.41 L504.2,78.72 L505.2,79.03 L506.2,79.33 L507.2,79.64 L508.2,79.94 L509.2,80.24 L510.2,80.54 L511.2,80.83 L512.2,81.12 L513.2,81.41 L514.2,81.7 L515.2,81.98 L516.2,82.27 L517.2,82.54 L518.2,82.82 L519.2,83.1 L520.2,83.38 L521.2,83.65 L522.2,83.92 L523.2,84.19 L524.2,84.46 L525.2,84.73 L526.2,85 L527.2,85.27 L528.2,85.54 L529.2,85.81 L530.2,86.07 L531.2,86.34 L532.2,86.61 L533.2,86.87 L534.2,87.14 L535.2,87.41 L536.2,87.67 L537.2,87.94 L538.2,88.21 L539.2,88.47 L540.2,88.74 L541.2,89.01 L542.2,89.28 L543.2,89.55 L544.2,89.82 L545.2,90.1 L546.2,90.37 L547.2,90.65 L548.2,90.93 L549.2,91.2 L550.2,91.48 L551.2,91.76 L552.2,92.05 L553.2,92.33 L554.2,92.61 L555.2,92.9 L556.2,93.18 L557.2,93.47 L558.2,93.75 L559.2,94.04 L560.2,94.32 L561.2,94.61 L562.2,94.89 L563.2,95.17 L564.2,95.46 L565.2,95.74 L566.2,96.02 L567.2,96.31 L568.2,96.59 L569.2,96.87 L570.2,97.15 L571.2,97.42 L572.2,97.7 L573.2,97.97 L574.2,98.25 L575.2,98.52 L576.2,98.79 L577.2,99.06 L578.2,99.32 L579.2,99.58 L580.2,99.85 L581.2,100.11 L582.2,100.37 L583.2,100.63 L584.2,100.88 L585.2,101.14 L586.2,101.4 L587.2,101.65 L588.2,101.9 L589.2,102.16 L590.2,102.41 L591.2,102.66 L592.2,102.91 L593.2,103.16 L594.2,103.41 L595.2,103.66 L596.2,103.9 L597.2,104.15 L598.2,104.4 L599.2,104.64 L600.2,104.89 L601.2,105.13 L602.2,105.37 L603.2,105.62 L604.2,105.86 L605.2,106.1 L606.2,106.34 L607.2,106.58 L608.2,106.82 L609.2,107.06 L610.2,107.3 L611.2,107.54 L612.2,107.78 L613.2,108.01 L614.2,108.25 L615.2,108.48 L616.2,108.71 L617.2,108.93 L618.2,109.16 L619.2,109.39 L620.2,109.61 L621.2,109.83 L622.2,110.06 L623.2,110.28 L624.2,110.5 L625.2,110.72 L626.2,110.95 L627.2,111.17 L628.2,111.39 L629.2,111.62 L630.2,111.84 L631.2,112.07 L632.2,112.29 L633.2,112.52 L634.2,112.75 L635.2,112.98 L636.2,113.22 L637.2,113.45 L638.2,113.69 L639.2,113.93 L640.2,114.18 L641.2,114.42 L642.2,114.67 L643.2,114.93 L644.2,115.18 L645.2,115.44 L646.2,115.7 L647.2,115.96 L648.2,116.23 L649.2,116.49 L650.2,116.76 L651.2,117.03 L652.2,117.3 L653.2,117.58 L654.2,117.85 L655.2,118.13 L656.2,118.41 L657.2,118.69 L658.2,118.98 L659.2,119.26 L660.2,119.55 L661.2,119.84 L662.2,120.13 L663.2,120.42 L664.2,120.71 L665.2,121.01 L666.2,121.3 L667.2,121.6" fill="none" stroke="rgb(205,10,10)" stroke-opacity="0.68" stroke-width="2.4" stroke-linejoin="round"/>
<line x1="380.3" y1="173.0" x2="380.3" y2="0.2" stroke="#d43f5c" stroke-width="2.4" stroke-dasharray="15.8 4 2.4 4"/>
<line x1="388.6" y1="173.0" x2="388.6" y2="0.2" stroke="#1a64d6" stroke-width="2.4" stroke-dasharray="8.8 4.3"/>
</g>
<rect x="61.5" y="0.2" width="605.7" height="172.8" fill="none" stroke="#1a1a1a" stroke-width="1.3"/>
<line x1="135.5" y1="173.0" x2="135.5" y2="177.5" stroke="#1a1a1a" stroke-width="1.3"/>
<text x="135.5" y="194.3" text-anchor="middle" font-size="17.2" textLength="85" lengthAdjust="spacingAndGlyphs">78079200</text>
<line x1="256.58" y1="173.0" x2="256.58" y2="177.5" stroke="#1a1a1a" stroke-width="1.3"/>
<text x="256.58" y="194.3" text-anchor="middle" font-size="17.2" textLength="85" lengthAdjust="spacingAndGlyphs">78080000</text>
<line x1="377.65999999999997" y1="173.0" x2="377.65999999999997" y2="177.5" stroke="#1a1a1a" stroke-width="1.3"/>
<text x="377.65999999999997" y="194.3" text-anchor="middle" font-size="17.2" textLength="85" lengthAdjust="spacingAndGlyphs">78080800</text>
<line x1="498.74" y1="173.0" x2="498.74" y2="177.5" stroke="#1a1a1a" stroke-width="1.3"/>
<text x="498.74" y="194.3" text-anchor="middle" font-size="17.2" textLength="85" lengthAdjust="spacingAndGlyphs">78081600</text>
<line x1="619.8199999999999" y1="173.0" x2="619.8199999999999" y2="177.5" stroke="#1a1a1a" stroke-width="1.3"/>
<text x="619.8199999999999" y="194.3" text-anchor="middle" font-size="17.2" textLength="85" lengthAdjust="spacingAndGlyphs">78082400</text>
<line x1="57.1" y1="46.8" x2="61.5" y2="46.8" stroke="#1a1a1a" stroke-width="1.3"/>
<text x="25.0" y="53.2" font-size="17.2" textLength="20.2" lengthAdjust="spacingAndGlyphs">10</text>
<text x="46.6" y="46.9" font-size="12.4" textLength="5.6" lengthAdjust="spacingAndGlyphs">2</text>
<line x1="57.1" y1="124.5" x2="61.5" y2="124.5" stroke="#1a1a1a" stroke-width="1.3"/>
<text x="25.0" y="130.9" font-size="17.2" textLength="20.2" lengthAdjust="spacingAndGlyphs">10</text>
<text x="46.6" y="124.6" font-size="12.4" textLength="5.6" lengthAdjust="spacingAndGlyphs">0</text>
<clipPath id="clipb"><rect x="61.5" y="212.5" width="605.7" height="172.2"/></clipPath>
<g clip-path="url(#clipb)">
<path d="M242.8,387.7 L242.8,378.4 L243.05,378.09 L243.3,377.78 L243.55,377.47 L243.8,377.16 L244.05,376.85 L244.3,376.55 L244.55,376.24 L244.8,375.93 L245.05,375.62 L245.3,375.31 L245.55,375.01 L245.8,374.7 L246.05,374.39 L246.3,374.08 L246.55,373.78 L246.8,373.47 L247.05,373.16 L247.3,372.86 L247.55,372.55 L247.8,372.24 L248.05,371.94 L248.3,371.63 L248.55,371.33 L248.8,371.02 L249.05,370.72 L249.3,370.41 L249.55,370.11 L249.8,369.8 L250.05,369.5 L250.3,369.19 L250.55,368.89 L250.8,368.59 L251.05,368.28 L251.3,367.98 L251.55,367.68 L251.8,367.37 L252.05,367.07 L252.3,366.77 L252.55,366.46 L252.8,366.16 L253.05,365.86 L253.3,365.56 L253.55,365.26 L253.8,364.95 L254.05,364.65 L254.3,364.35 L254.55,364.05 L254.8,363.75 L255.05,389.7 L255.3,389.7 L255.55,389.7 L255.8,389.7 L256.05,389.7 L256.3,389.7 L256.55,389.7 L256.8,389.7 L257.05,389.7 L257.3,389.7 L257.55,360.45 L257.8,360.15 L258.05,359.85 L258.3,359.56 L258.55,359.26 L258.8,358.96 L259.05,358.66 L259.3,358.36 L259.55,358.07 L259.8,357.77 L260.05,357.47 L260.3,357.18 L260.55,356.88 L260.8,356.58 L261.05,356.29 L261.3,355.99 L261.55,355.69 L261.8,355.4 L262.05,355.1 L262.3,354.81 L262.55,354.51 L262.8,354.22 L263.05,353.92 L263.3,353.63 L263.55,353.33 L263.8,353.04 L264.05,352.74 L264.3,352.45 L264.55,352.16 L264.8,351.86 L265.05,351.57 L265.3,351.28 L265.55,351.1 L265.8,351.1 L266.05,351.1 L266.3,351.1 L266.55,351.1 L266.8,351.1 L267.05,351.1 L267.3,351.1 L267.55,351.1 L267.8,351.1 L268.05,351.1 L268.3,351.1 L268.55,351.1 L268.8,351.1 L269.05,351.1 L269.3,351.1 L269.55,351.1 L269.8,351.1 L270.05,351.1 L270.3,351.1 L270.55,351.1 L270.8,351.1 L271.05,351.1 L271.3,351.1 L271.55,351.1 L271.8,351.1 L272.05,389.7 L272.3,389.7 L272.55,389.7 L272.8,389.7 L273.05,389.7 L273.3,389.7 L273.55,389.7 L273.8,389.7 L274.05,389.7 L274.3,389.7 L274.55,351.1 L274.8,351.1 L275.05,351.1 L275.3,351.1 L275.55,351.1 L275.8,351.1 L276.05,351.1 L276.3,351.1 L276.55,351.1 L276.8,351.1 L277.05,337.69 L277.3,337.4 L277.55,337.12 L277.8,336.83 L278.05,336.54 L278.3,336.26 L278.55,335.97 L278.8,335.68 L279.05,335.4 L279.3,340.15 L279.55,340.15 L279.8,340.15 L280.05,340.15 L280.3,340.15 L280.55,340.15 L280.8,340.15 L281.05,340.15 L281.3,340.15 L281.55,340.15 L281.8,332.25 L282.05,331.96 L282.3,331.68 L282.55,331.39 L282.8,331.1 L283.05,330.82 L283.3,330.53 L283.55,330.25 L283.8,329.96 L284.05,329.68 L284.3,389.7 L284.55,389.7 L284.8,389.7 L285.05,389.7 L285.3,389.7 L285.55,389.7 L285.8,389.7 L286.05,389.7 L286.3,389.7 L286.55,329.2 L286.8,329.2 L287.05,329.2 L287.3,329.2 L287.55,329.2 L287.8,329.2 L288.05,329.2 L288.3,329.2 L288.55,329.2 L288.8,329.2 L289.05,324.03 L289.3,323.75 L289.55,323.47 L289.8,323.19 L290.05,322.91 L290.3,322.63 L290.55,322.36 L290.8,322.08 L291.05,321.8 L291.3,321.52 L291.55,325.67 L291.8,325.67 L292.05,325.67 L292.3,325.67 L292.55,325.67 L292.8,325.67 L293.05,325.67 L293.3,325.67 L293.55,325.67 L293.8,389.7 L294.05,389.7 L294.3,389.7 L294.55,389.7 L294.8,389.7 L295.05,389.7 L295.3,389.7 L295.55,389.7 L295.8,389.7 L296.05,389.7 L296.3,318.25 L296.55,318.25 L296.8,318.25 L297.05,318.25 L297.3,318.25 L297.55,318.25 L297.8,318.25 L298.05,318.25 L298.3,318.25 L298.55,318.25 L298.8,313.42 L299.05,313.16 L299.3,312.9 L299.55,312.64 L299.8,312.38 L300.05,312.12 L300.3,311.86 L300.55,311.84 L300.8,311.84 L301.05,311.84 L301.3,311.84 L301.55,311.84 L301.8,311.84 L302.05,311.84 L302.3,311.84 L302.55,311.84 L302.8,311.84 L303.05,311.84 L303.3,311.84 L303.55,313.22 L303.8,313.22 L304.05,313.22 L304.3,313.22 L304.55,313.22 L304.8,313.22 L305.05,313.22 L305.3,313.22 L305.55,313.22 L305.8,313.22 L306.05,309.41 L306.3,309.41 L306.55,309.41 L306.8,309.41 L307.05,309.41 L307.3,309.41 L307.55,309.41 L307.8,309.41 L308.05,309.41 L308.3,309.41 L308.55,305.44 L308.8,305.44 L309.05,305.44 L309.3,305.44 L309.55,305.44 L309.8,305.44 L310.05,305.44 L310.3,305.44 L310.55,305.44 L310.8,301.83 L311.05,301.61 L311.3,301.39 L311.55,301.17 L311.8,300.95 L312.05,300.74 L312.3,300.52 L312.55,300.3 L312.8,300.09 L313.05,299.87 L313.3,301.57 L313.55,301.57 L313.8,301.57 L314.05,301.57 L314.3,301.57 L314.55,301.57 L314.8,301.57 L315.05,301.57 L315.3,301.57 L315.55,301.57 L315.8,297.5 L316.05,297.28 L316.3,297.06 L316.55,296.84 L316.8,296.63 L317.05,296.41 L317.3,296.19 L317.55,295.97 L317.8,295.86 L318.05,297.91 L318.3,297.91 L318.55,297.91 L318.8,297.91 L319.05,297.91 L319.3,297.91 L319.55,297.91 L319.8,297.91 L320.05,297.91 L320.3,297.91 L320.55,296.35 L320.8,296.35 L321.05,296.35 L321.3,296.35 L321.55,296.35 L321.8,296.35 L322.05,296.35 L322.3,296.35 L322.55,296.35 L322.8,296.35 L323.05,292.83 L323.3,292.83 L323.55,292.83 L323.8,292.83 L324.05,292.83 L324.3,292.83 L324.55,292.83 L324.8,292.83 L325.05,292.83 L325.3,288.62 L325.55,288.38 L325.8,288.38 L326.05,288.38 L326.3,288.38 L326.55,288.38 L326.8,288.38 L327.05,288.38 L327.3,288.38 L327.55,288.38 L327.8,289.3 L328.05,289.3 L328.3,289.3 L328.55,289.3 L328.8,289.3 L329.05,289.3 L329.3,289.3 L329.55,289.3 L329.8,289.3 L330.05,289.3 L330.3,283.1 L330.55,282.89 L330.8,282.89 L331.05,282.89 L331.3,282.89 L331.55,282.89 L331.8,282.89 L332.05,282.89 L332.3,282.89 L332.55,281.1 L332.8,281.1 L333.05,281.1 L333.3,281.1 L333.55,281.1 L333.8,281.1 L334.05,281.1 L334.3,281.1 L334.55,281.1 L334.8,281.1 L335.05,277.35 L335.3,277.04 L335.55,276.72 L335.8,276.4 L336.05,276.09 L336.3,275.77 L336.55,275.47 L336.8,275.47 L337.05,275.47 L337.3,275.47 L337.55,274.15 L337.8,273.84 L338.05,273.84 L338.3,273.84 L338.55,273.84 L338.8,273.84 L339.05,273.84 L339.3,273.84 L339.55,273.84 L339.8,271.17 L340.05,270.84 L340.3,270.5 L340.55,270.16 L340.8,269.83 L341.05,269.78 L341.3,269.78 L341.55,269.78 L341.8,269.78 L342.05,269.78 L342.3,267.79 L342.55,267.45 L342.8,267.11 L343.05,266.76 L343.3,266.42 L343.55,266.07 L343.8,265.72 L344.05,265.36 L344.3,265.01 L344.55,264.65 L344.8,264.28 L345.05,263.92 L345.3,263.55 L345.55,263.17 L345.8,262.79 L346.05,262.41 L346.3,262.31 L346.55,262.31 L346.8,262.31 L347.05,260.83 L347.3,260.43 L347.55,260.01 L347.8,259.6 L348.05,259.17 L348.3,258.74 L348.55,258.3 L348.8,257.86 L349.05,257.41 L349.3,257.14 L349.55,256.47 L349.8,255.98 L350.05,255.48 L350.3,255.02 L350.55,255.02 L350.8,255.02 L351.05,255.02 L351.3,255.02 L351.55,255.02 L351.8,255.02 L352.05,251.13 L352.3,250.55 L352.55,249.97 L352.8,249.38 L353.05,249.37 L353.3,249.37 L353.55,249.37 L353.8,249.37 L354.05,249.37 L354.3,249.37 L354.55,245.07 L354.8,244.37 L355.05,243.64 L355.3,242.91 L355.55,242.54 L355.8,242.54 L356.05,242.54 L356.3,242.54 L356.55,242.54 L356.8,238.84 L357.05,238.3 L357.3,237.81 L357.55,237.36 L357.8,236.92 L358.05,236.72 L358.3,236.72 L358.55,236.72 L358.8,236.72 L359.05,236.72 L359.3,234.65 L359.55,234.33 L359.8,234.01 L360.05,233.71 L360.3,233.42 L360.55,233.42 L360.8,233.42 L361.05,233.42 L361.3,233.42 L361.55,233.42 L361.8,231.61 L362.05,231.34 L362.3,231.09 L362.55,230.88 L362.8,230.71 L363.05,230.58 L363.3,230.51 L363.55,230.49 L363.8,230.47 L364.05,230.61 L364.3,230.61 L364.55,230.61 L364.8,230.61 L365.05,230.61 L365.3,230.61 L365.55,230.61 L365.8,230.61 L366.05,230.61 L366.3,230.61 L366.55,230.68 L366.8,230.68 L367.05,230.68 L367.3,230.68 L367.55,230.68 L367.8,230.68 L368.05,230.68 L368.3,230.68 L368.55,230.68 L368.8,230.68 L369.05,230.66 L369.3,230.66 L369.55,230.66 L369.8,230.66 L370.05,230.66 L370.3,230.66 L370.55,230.66 L370.8,230.66 L371.05,230.66 L371.3,231.1 L371.55,231.1 L371.8,231.1 L372.05,231.1 L372.3,231.1 L372.55,231.1 L372.8,231.1 L373.05,231.1 L373.3,231.1 L373.55,231.1 L373.8,230.66 L374.05,230.66 L374.3,230.66 L374.55,230.66 L374.8,230.66 L375.05,230.66 L375.3,230.66 L375.55,230.66 L375.8,230.66 L376.05,230.66 L376.3,231.09 L376.55,231.09 L376.8,231.09 L377.05,231.09 L377.3,231.09 L377.55,231.09 L377.8,231.09 L378.05,231.09 L378.3,231.09 L378.55,231.33 L378.8,231.33 L379.05,231.33 L379.3,231.33 L379.55,231.33 L379.8,231.33 L380.05,231.33 L380.3,231.33 L380.55,231.4 L380.8,231.5 L381.05,231.74 L381.3,231.74 L381.55,231.83 L381.8,231.96 L382.05,232.09 L382.3,232.23 L382.55,232.37 L382.8,232.52 L383.05,232.67 L383.3,232.83 L383.55,233.25 L383.8,233.25 L384.05,233.33 L384.3,233.5 L384.55,233.68 L384.8,233.86 L385.05,234.04 L385.3,234.23 L385.55,234.45 L385.8,236 L386.05,236 L386.3,236 L386.55,236 L386.8,236 L387.05,236.09 L387.3,236.41 L387.55,236.75 L387.8,237.09 L388.05,237.45 L388.3,239.63 L388.55,239.63 L388.8,239.63 L389.05,239.63 L389.3,239.63 L389.55,239.75 L389.8,240.15 L390.05,240.55 L390.3,240.96 L390.55,241.37 L390.8,242.69 L391.05,242.69 L391.3,242.69 L391.55,242.98 L391.8,243.37 L392.05,243.76 L392.3,244.15 L392.55,244.53 L392.8,244.9 L393.05,245.28 L393.3,245.94 L393.55,246.04 L393.8,246.43 L394.05,246.83 L394.3,247.22 L394.55,247.62 L394.8,248.02 L395.05,248.42 L395.3,248.83 L395.55,251.25 L395.8,251.25 L396.05,251.25 L396.3,251.25 L396.55,251.25 L396.8,251.29 L397.05,251.71 L397.3,252.12 L397.55,252.54 L397.8,252.95 L398.05,254.62 L398.3,254.62 L398.55,254.62 L398.8,254.62 L399.05,255.02 L399.3,255.43 L399.55,255.83 L399.8,256.24 L400.05,256.64 L400.3,257.05 L400.55,258.97 L400.8,258.97 L401.05,258.97 L401.3,258.97 L401.55,259.01 L401.8,259.4 L402.05,259.78 L402.3,260.15 L402.55,260.53 L402.8,263.13 L403.05,263.13 L403.3,263.13 L403.55,263.13 L403.8,263.13 L404.05,263.13 L404.3,263.13 L404.55,263.49 L404.8,263.85 L405.05,264.2 L405.3,267.64 L405.55,267.64 L405.8,267.64 L406.05,267.64 L406.3,267.64 L406.55,267.64 L406.8,267.64 L407.05,267.64 L407.3,267.64 L407.55,267.64 L407.8,270.06 L408.05,270.06 L408.3,270.06 L408.55,270.06 L408.8,270.06 L409.05,270.06 L409.3,270.06 L409.55,270.06 L409.8,270.34 L410.05,273.84 L410.3,273.84 L410.55,273.84 L410.8,273.84 L411.05,273.84 L411.3,273.84 L411.55,273.84 L411.8,273.84 L412.05,273.84 L412.3,273.84 L412.55,274.08 L412.8,274.08 L413.05,274.18 L413.3,274.46 L413.55,274.75 L413.8,275.03 L414.05,275.31 L414.3,275.59 L414.55,275.86 L414.8,276.14 L415.05,278.04 L415.3,278.04 L415.55,278.04 L415.8,278.04 L416.05,278.04 L416.3,278.04 L416.55,278.05 L416.8,278.32 L417.05,278.59 L417.3,279.67 L417.55,279.67 L417.8,279.67 L418.05,279.67 L418.3,279.92 L418.55,280.18 L418.8,280.44 L419.05,280.7 L419.3,280.96 L419.55,281.22 L419.8,285.4 L420.05,285.4 L420.3,285.4 L420.55,285.4 L420.8,285.4 L421.05,285.4 L421.3,285.4 L421.55,285.4 L421.8,285.4 L422.05,285.4 L422.3,284.21 L422.55,284.21 L422.8,284.41 L423.05,284.65 L423.3,284.88 L423.55,285.11 L423.8,285.33 L424.05,285.56 L424.3,285.78 L424.55,288.68 L424.8,288.68 L425.05,288.68 L425.3,288.68 L425.55,288.68 L425.8,288.68 L426.05,288.68 L426.3,288.68 L426.55,288.68 L426.8,288.68 L427.05,288.13 L427.3,288.34 L427.55,288.55 L427.8,288.76 L428.05,288.96 L428.3,289.17 L428.55,289.38 L428.8,289.58 L429.05,289.78 L429.3,289.98 L429.55,294.93 L429.8,294.93 L430.05,294.93 L430.3,294.93 L430.55,294.93 L430.8,294.93 L431.05,294.93 L431.3,294.93 L431.55,294.93 L431.8,294.93 L432.05,292.09 L432.3,292.27 L432.55,292.45 L432.8,292.62 L433.05,292.79 L433.3,292.97 L433.55,293.13 L433.8,293.3 L434.05,293.46 L434.3,296.35 L434.55,296.35 L434.8,296.35 L435.05,296.35 L435.3,296.35 L435.55,296.35 L435.8,296.35 L436.05,296.35 L436.3,296.35 L436.55,296.35 L436.8,299.03 L437.05,299.03 L437.3,299.03 L437.55,299.03 L437.8,299.03 L438.05,299.03 L438.3,299.03 L438.55,299.03 L438.8,299.03 L439.05,299.03 L439.3,297.91 L439.55,297.91 L439.8,297.91 L440.05,297.91 L440.3,297.91 L440.55,297.91 L440.8,297.91 L441.05,297.91 L441.3,297.91 L441.55,297.36 L441.8,297.47 L442.05,297.58 L442.3,297.69 L442.55,297.79 L442.8,297.9 L443.05,298 L443.3,298.11 L443.55,298.21 L443.8,298.31 L444.05,307.3 L444.3,307.3 L444.55,307.3 L444.8,307.3 L445.05,307.3 L445.3,307.3 L445.55,307.3 L445.8,307.3 L446.05,307.3 L446.3,307.3 L446.55,303.78 L446.8,303.78 L447.05,303.78 L447.3,303.78 L447.55,303.78 L447.8,303.78 L448.05,303.78 L448.3,303.78 L448.55,303.78 L448.8,303 L449.05,303 L449.3,303 L449.55,303 L449.8,303 L450.05,303 L450.3,303 L450.55,303 L450.8,303 L451.05,303 L451.3,300.89 L451.55,300.97 L451.8,301.04 L452.05,301.11 L452.3,301.19 L452.55,301.26 L452.8,301.33 L453.05,301.4 L453.3,301.47 L453.55,301.54 L453.8,301.61 L454.05,301.68 L454.3,301.75 L454.55,301.82 L454.8,301.88 L455.05,301.95 L455.3,302.02 L455.55,302.08 L455.8,302.15 L456.05,302.21 L456.3,302.28 L456.55,302.34 L456.8,302.41 L457.05,302.47 L457.3,302.53 L457.55,302.6 L457.8,302.66 L458.05,302.72 L458.3,302.78 L458.55,302.84 L458.8,302.9 L459.05,302.97 L459.3,303.03 L459.55,303.09 L459.8,303.14 L460.05,303.2 L460.3,303.26 L460.55,303.32 L460.8,303.38 L461.05,303.44 L461.3,303.5 L461.55,303.55 L461.8,303.61 L462.05,303.67 L462.3,303.72 L462.55,303.78 L462.8,303.84 L463.05,303.89 L463.3,303.95 L463.55,304 L463.8,304.06 L464.05,304.11 L464.3,304.17 L464.55,304.22 L464.8,304.28 L465.05,304.33 L465.3,304.38 L465.55,304.44 L465.8,304.49 L466.05,304.54 L466.3,304.6 L466.55,304.65 L466.8,304.7 L467.05,304.76 L467.3,304.81 L467.55,304.86 L467.8,304.91 L468.05,304.97 L468.3,305.02 L468.55,305.07 L468.8,305.12 L469.05,305.17 L469.3,305.23 L469.55,305.28 L469.8,305.33 L470.05,305.38 L470.3,305.43 L470.55,305.48 L470.8,311.84 L471.05,311.84 L471.3,311.84 L471.55,311.84 L471.8,311.84 L472.05,311.84 L472.3,311.84 L472.55,311.84 L472.8,311.84 L473.05,306 L473.3,306.05 L473.55,306.1 L473.8,306.15 L474.05,306.2 L474.3,306.25 L474.55,306.3 L474.8,306.36 L475.05,306.41 L475.3,306.46 L475.55,306.51 L475.8,306.56 L476.05,306.62 L476.3,306.67 L476.55,306.72 L476.8,306.77 L477.05,306.83 L477.3,306.88 L477.55,306.93 L477.8,306.98 L478.05,307.04 L478.3,307.09 L478.55,307.14 L478.8,307.2 L479.05,307.25 L479.3,307.3 L479.55,307.36 L479.8,307.41 L480.05,307.47 L480.3,307.52 L480.55,307.58 L480.8,307.63 L481.05,307.69 L481.3,307.74 L481.55,307.8 L481.8,307.85 L482.05,307.91 L482.3,307.97 L482.55,308.02 L482.8,308.08 L483.05,308.14 L483.3,308.19 L483.55,308.25 L483.8,308.31 L484.05,308.36 L484.3,308.42 L484.55,308.47 L484.8,308.53 L485.05,308.58 L485.3,308.64 L485.55,308.7 L485.8,308.75 L486.05,308.81 L486.3,308.86 L486.55,308.92 L486.8,308.97 L487.05,309.03 L487.3,309.09 L487.55,313.22 L487.8,313.22 L488.05,313.22 L488.3,313.22 L488.55,313.22 L488.8,313.22 L489.05,313.22 L489.3,313.22 L489.55,313.22 L489.8,313.22 L490.05,311.84 L490.3,311.84 L490.55,311.84 L490.8,311.84 L491.05,311.84 L491.3,311.84 L491.55,311.84 L491.8,311.84 L492.05,311.84 L492.3,311.84 L492.55,316.39 L492.8,316.39 L493.05,316.39 L493.3,316.39 L493.55,316.39 L493.8,316.39 L494.05,316.39 L494.3,316.39 L494.55,316.39 L494.8,314.73 L495.05,314.73 L495.3,314.73 L495.55,314.73 L495.8,314.73 L496.05,314.73 L496.3,314.73 L496.55,314.73 L496.8,314.73 L497.05,314.73 L497.3,311.84 L497.55,311.84 L497.8,311.84 L498.05,311.84 L498.3,311.84 L498.55,311.84 L498.8,311.84 L499.05,311.84 L499.3,311.84 L499.55,311.84 L499.8,311.84 L500.05,311.88 L500.3,311.94 L500.55,311.99 L500.8,312.05 L501.05,312.1 L501.3,312.16 L501.55,312.21 L501.8,312.27 L502.05,325.67 L502.3,325.67 L502.55,325.67 L502.8,325.67 L503.05,325.67 L503.3,325.67 L503.55,325.67 L503.8,325.67 L504.05,325.67 L504.3,325.67 L504.55,351.1 L504.8,351.1 L505.05,351.1 L505.3,351.1 L505.55,351.1 L505.8,351.1 L506.05,351.1 L506.3,351.1 L506.55,351.1 L506.8,351.1 L507.05,320.36 L507.3,320.36 L507.55,320.36 L507.8,320.36 L508.05,320.36 L508.3,320.36 L508.55,320.36 L508.8,320.36 L509.05,320.36 L509.3,320.36 L509.55,320.36 L509.8,320.36 L510.05,320.36 L510.3,320.36 L510.55,320.36 L510.8,320.36 L511.05,320.36 L511.3,320.36 L511.55,320.36 L511.8,314.46 L512.05,314.52 L512.3,314.58 L512.55,314.63 L512.8,314.69 L513.05,314.74 L513.3,314.8 L513.55,314.85 L513.8,314.91 L514.05,314.97 L514.3,315.02 L514.55,315.08 L514.8,315.13 L515.05,315.19 L515.3,315.25 L515.55,315.3 L515.8,315.36 L516.05,315.42 L516.3,315.47 L516.55,315.53 L516.8,325.67 L517.05,325.67 L517.3,325.67 L517.55,325.67 L517.8,325.67 L518.05,325.67 L518.3,325.67 L518.55,325.67 L518.8,325.67 L519.05,325.67 L519.3,325.67 L519.55,325.67 L519.8,325.67 L520.05,325.67 L520.3,325.67 L520.55,325.67 L520.8,325.67 L521.05,325.67 L521.3,325.67 L521.55,316.66 L521.8,316.72 L522.05,316.77 L522.3,316.83 L522.55,316.89 L522.8,316.95 L523.05,317 L523.3,317.06 L523.55,317.12 L523.8,317.17 L524.05,317.23 L524.3,317.29 L524.55,317.34 L524.8,317.4 L525.05,317.46 L525.3,317.52 L525.55,317.57 L525.8,317.63 L526.05,317.69 L526.3,317.75 L526.55,317.8 L526.8,317.86 L527.05,317.92 L527.3,317.97 L527.55,318.03 L527.8,318.09 L528.05,318.15 L528.3,318.2 L528.55,318.26 L528.8,333.74 L529.05,333.74 L529.3,333.74 L529.55,333.74 L529.8,333.74 L530.05,333.74 L530.3,333.74 L530.55,333.74 L530.8,333.74 L531.05,333.74 L531.3,320.36 L531.55,320.36 L531.8,320.36 L532.05,320.36 L532.3,320.36 L532.55,320.36 L532.8,320.36 L533.05,320.36 L533.3,320.36 L533.55,319.41 L533.8,319.46 L534.05,319.52 L534.3,319.58 L534.55,319.63 L534.8,319.69 L535.05,319.75 L535.3,319.81 L535.55,319.86 L535.8,319.92 L536.05,325.67 L536.3,325.67 L536.55,325.67 L536.8,325.67 L537.05,325.67 L537.3,325.67 L537.55,325.67 L537.8,325.67 L538.05,325.67 L538.3,325.67 L538.55,333.74 L538.8,333.74 L539.05,333.74 L539.3,333.74 L539.55,333.74 L539.8,333.74 L540.05,333.74 L540.3,333.74 L540.55,333.74 L540.8,325.67 L541.05,325.67 L541.3,325.67 L541.55,325.67 L541.8,325.67 L542.05,325.67 L542.3,325.67 L542.55,325.67 L542.8,325.67 L543.05,325.67 L543.3,321.63 L543.55,321.68 L543.8,321.74 L544.05,321.79 L544.3,321.85 L544.55,321.91 L544.8,321.96 L545.05,322.02 L545.3,322.08 L545.55,322.13 L545.8,329.2 L546.05,329.2 L546.3,329.2 L546.55,329.2 L546.8,329.2 L547.05,329.2 L547.3,329.2 L547.55,329.2 L547.8,329.2 L548.05,325.67 L548.3,325.67 L548.55,325.67 L548.8,325.67 L549.05,325.67 L549.3,325.67 L549.55,325.67 L549.8,325.67 L550.05,325.67 L550.3,325.67 L550.55,323.25 L550.8,323.3 L551.05,323.36 L551.3,323.41 L551.55,323.47 L551.8,323.53 L552.05,323.58 L552.3,323.64 L552.55,323.69 L552.8,323.75 L553.05,323.8 L553.3,323.86 L553.55,323.91 L553.8,323.97 L554.05,324.02 L554.3,324.08 L554.55,324.13 L554.8,324.19 L555.05,324.24 L555.3,324.3 L555.55,333.74 L555.8,333.74 L556.05,333.74 L556.3,333.74 L556.55,333.74 L556.8,333.74 L557.05,333.74 L557.3,333.74 L557.55,333.74 L557.8,324.85 L558.05,324.91 L558.3,324.96 L558.55,325.02 L558.8,325.07 L559.05,325.13 L559.3,325.18 L559.55,325.24 L559.8,325.29 L560.05,325.35 L560.3,333.74 L560.55,333.74 L560.8,333.74 L561.05,333.74 L561.3,333.74 L561.55,333.74 L561.8,333.74 L562.05,333.74 L562.3,333.74 L562.55,333.74 L562.8,325.95 L563.05,326.01 L563.3,326.06 L563.55,326.11 L563.8,326.17 L564.05,326.22 L564.3,326.28 L564.55,326.33 L564.8,326.39 L565.05,333.74 L565.3,333.74 L565.55,333.74 L565.8,333.74 L566.05,333.74 L566.3,333.74 L566.55,333.74 L566.8,333.74 L567.05,333.74 L567.3,333.74 L567.55,351.1 L567.8,351.1 L568.05,351.1 L568.3,351.1 L568.55,351.1 L568.8,351.1 L569.05,351.1 L569.3,351.1 L569.55,351.1 L569.8,351.1 L570.05,333.74 L570.3,333.74 L570.55,333.74 L570.8,333.74 L571.05,333.74 L571.3,333.74 L571.55,333.74 L571.8,333.74 L572.05,333.74 L572.3,340.15 L572.55,340.15 L572.8,340.15 L573.05,340.15 L573.3,340.15 L573.55,340.15 L573.8,340.15 L574.05,340.15 L574.3,340.15 L574.55,340.15 L574.8,351.1 L575.05,351.1 L575.3,351.1 L575.55,351.1 L575.8,351.1 L576.05,351.1 L576.3,351.1 L576.55,351.1 L576.8,351.1 L577.05,351.1 L577.3,340.15 L577.55,340.15 L577.8,340.15 L578.05,340.15 L578.3,340.15 L578.55,340.15 L578.8,340.15 L579.05,340.15 L579.3,340.15 L579.55,333.74 L579.8,333.74 L580.05,333.74 L580.3,333.74 L580.55,333.74 L580.8,333.74 L581.05,333.74 L581.3,333.74 L581.55,333.74 L581.8,333.74 L582.05,333.74 L582.3,333.74 L582.55,333.74 L582.8,333.74 L583.05,333.74 L583.3,333.74 L583.55,333.74 L583.8,333.74 L584.05,333.74 L584.3,333.74 L584.55,330.74 L584.8,330.8 L585.05,330.85 L585.3,330.91 L585.55,330.97 L585.8,331.02 L586.05,331.08 L586.3,331.13 L586.55,331.19 L586.8,331.24 L587.05,331.3 L587.3,331.36 L587.55,331.41 L587.8,331.47 L588.05,331.52 L588.3,331.58 L588.55,331.64 L588.8,331.69 L589.05,331.75 L589.3,331.8 L589.55,331.86 L589.8,331.91 L590.05,331.97 L590.3,332.03 L590.55,332.08 L590.8,332.14 L591.05,332.19 L591.3,332.25 L591.55,332.31 L591.8,340.15 L592.05,340.15 L592.3,340.15 L592.55,340.15 L592.8,340.15 L593.05,340.15 L593.3,340.15 L593.55,340.15 L593.8,340.15 L594.05,340.15 L594.3,340.15 L594.55,340.15 L594.8,340.15 L595.05,340.15 L595.3,340.15 L595.55,340.15 L595.8,340.15 L596.05,340.15 L596.3,340.15 L596.55,333.42 L596.8,333.48 L597.05,333.53 L597.3,333.59 L597.55,333.64 L597.8,333.7 L598.05,333.75 L598.3,333.81 L598.55,333.86 L598.8,333.92 L599.05,351.1 L599.3,351.1 L599.55,351.1 L599.8,351.1 L600.05,351.1 L600.3,351.1 L600.55,351.1 L600.8,351.1 L601.05,351.1 L601.3,351.1 L601.55,351.1 L601.8,351.1 L602.05,351.1 L602.3,351.1 L602.55,351.1 L602.8,351.1 L603.05,351.1 L603.3,351.1 L603.55,351.1 L603.8,351.1 L604.05,351.1 L604.3,351.1 L604.55,351.1 L604.8,351.1 L605.05,351.1 L605.3,351.1 L605.55,351.1 L605.8,351.1 L606.05,351.1 L606.3,335.57 L606.55,335.62 L606.8,335.68 L607.05,335.73 L607.3,335.79 L607.55,335.84 L607.8,335.9 L608.05,335.95 L608.3,336 L608.55,336.06 L608.8,336.11 L609.05,336.17 L609.3,336.22 L609.55,336.27 L609.8,336.33 L610.05,336.38 L610.3,336.44 L610.55,336.49 L610.8,336.54 L611.05,336.6 L611.3,336.65 L611.55,336.7 L611.8,336.76 L612.05,336.81 L612.3,336.86 L612.55,336.92 L612.8,336.97 L613.05,337.02 L613.3,337.08 L613.55,337.13 L613.8,337.18 L614.05,337.23 L614.3,337.29 L614.55,337.34 L614.8,337.39 L615.05,337.44 L615.3,337.5 L615.55,337.55 L615.8,337.6 L616.05,337.65 L616.3,337.71 L616.55,337.76 L616.8,337.81 L617.05,337.86 L617.3,337.91 L617.55,337.97 L617.8,338.02 L618.05,338.07 L618.3,340.15 L618.55,340.15 L618.8,340.15 L619.05,340.15 L619.3,340.15 L619.55,340.15 L619.8,340.15 L620.05,340.15 L620.3,340.15 L620.55,340.15 L620.8,389.7 L621.05,389.7 L621.3,389.7 L621.55,389.7 L621.8,389.7 L622.05,389.7 L622.3,389.7 L622.55,389.7 L622.8,389.7 L623.05,389.7 L623.3,351.1 L623.55,351.1 L623.8,351.1 L624.05,351.1 L624.3,351.1 L624.55,351.1 L624.8,351.1 L625.05,351.1 L625.3,351.1 L625.55,351.1 L625.8,351.1 L626.05,351.1 L626.3,351.1 L626.55,351.1 L626.8,351.1 L627.05,351.1 L627.3,351.1 L627.55,351.1 L627.8,351.1 L628.05,340.13 L628.3,340.18 L628.55,340.23 L628.8,340.28 L629.05,340.33 L629.3,340.38 L629.55,340.43 L629.8,340.49 L630.05,340.54 L630.3,340.59 L630.55,340.64 L630.8,340.69 L631.05,340.74 L631.3,340.79 L631.55,340.85 L631.8,340.9 L632.05,340.95 L632.3,341 L632.55,341.05 L632.8,341.1 L633.05,341.16 L633.3,341.21 L633.55,341.26 L633.8,341.31 L634.05,341.36 L634.3,341.42 L634.55,341.47 L634.8,341.52 L635.05,341.57 L635.3,389.7 L635.55,389.7 L635.8,389.7 L636.05,389.7 L636.3,389.7 L636.55,389.7 L636.8,389.7 L637.05,389.7 L637.3,389.7 L637.55,389.7 L637.8,351.1 L638.05,351.1 L638.3,351.1 L638.55,351.1 L638.8,351.1 L639.05,351.1 L639.3,351.1 L639.55,351.1 L639.8,351.1 L640.05,351.1 L640.3,389.7 L640.55,389.7 L640.8,389.7 L641.05,389.7 L641.3,389.7 L641.55,389.7 L641.8,389.7 L642.05,389.7 L642.3,389.7 L642.55,351.1 L642.8,351.1 L643.05,351.1 L643.3,351.1 L643.55,351.1 L643.8,351.1 L644.05,351.1 L644.3,351.1 L644.55,351.1 L644.8,351.1 L645.05,343.71 L645.3,343.77 L645.55,343.82 L645.8,343.88 L646.05,343.94 L646.3,343.99 L646.55,344.05 L646.8,344.1 L647.05,344.16 L647.3,344.21 L647.55,351.1 L647.8,351.1 L648.05,351.1 L648.3,351.1 L648.55,351.1 L648.8,351.1 L649.05,351.1 L649.3,351.1 L649.55,351.1 L649.8,344.77 L650.05,344.83 L650.3,344.88 L650.55,344.94 L650.8,345 L651.05,345.05 L651.3,345.11 L651.55,345.17 L651.8,345.22 L652.05,345.28 L652.3,345.34 L652.55,345.39 L652.8,345.45 L653.05,345.51 L653.3,345.56 L653.55,345.62 L653.8,345.68 L654.05,345.73 L654.3,345.79 L654.55,345.85 L654.8,345.9 L655.05,345.96 L655.3,346.02 L655.55,346.08 L655.8,346.13 L656.05,346.19 L656.3,346.25 L656.55,346.3 L656.8,346.36 L657.05,346.42 L657.3,346.48 L657.55,346.53 L657.8,346.59 L658.05,346.65 L658.3,346.71 L658.55,346.77 L658.8,346.82 L659.05,346.88 L659.3,346.94 L659.55,347 L659.8,347.05 L659.8,387.7 Z" fill="#cdcdcd" stroke="none"/>
<path d="M61.3,390.7 L61.3,390.7 L63.72,390.7 L63.72,390.7 L66.14,390.7 L66.14,390.7 L68.56,390.7 L68.56,351.1 L70.99,351.1 L70.99,390.7 L73.41,390.7 L73.41,390.7 L75.83,390.7 L75.83,351.1 L78.25,351.1 L78.25,340.15 L80.67,340.15 L80.67,351.1 L83.09,351.1 L83.09,351.1 L85.52,351.1 L85.52,390.7 L87.94,390.7 L87.94,390.7 L90.36,390.7 L90.36,351.1 L92.78,351.1 L92.78,351.1 L95.2,351.1 L95.2,351.1 L97.62,351.1 L97.62,351.1 L100.05,351.1 L100.05,390.7 L102.47,390.7 L102.47,390.7 L104.89,390.7 L104.89,390.7 L107.31,390.7 L107.31,390.7 L109.73,390.7 L109.73,340.15 L112.15,340.15 L112.15,329.2 L114.58,329.2 L114.58,390.7 L117,390.7 L117,390.7 L119.42,390.7 L119.42,351.1 L121.84,351.1 L121.84,351.1 L124.26,351.1 L124.26,340.15 L126.68,340.15 L126.68,390.7 L129.1,390.7 L129.1,351.1 L131.53,351.1 L131.53,390.7 L133.95,390.7 L133.95,351.1 L136.37,351.1 L136.37,351.1 L138.79,351.1 L138.79,390.7 L141.21,390.7 L141.21,340.15 L143.63,340.15 L143.63,390.7 L146.06,390.7 L146.06,390.7 L148.48,390.7 L148.48,390.7 L150.9,390.7 L150.9,351.1 L153.32,351.1 L153.32,390.7 L155.74,390.7 L155.74,333.74 L158.16,333.74 L158.16,390.7 L160.59,390.7 L160.59,390.7 L163.01,390.7 L163.01,340.15 L165.43,340.15 L165.43,340.15 L167.85,340.15 L167.85,340.15 L170.27,340.15 L170.27,351.1 L172.69,351.1 L172.69,390.7 L175.12,390.7 L175.12,351.1 L177.54,351.1 L177.54,340.15 L179.96,340.15 L179.96,351.1 L182.38,351.1 L182.38,390.7 L184.8,390.7 L184.8,390.7 L187.22,390.7 L187.22,390.7 L189.64,390.7 L189.64,340.15 L192.07,340.15 L192.07,351.1 L194.49,351.1 L194.49,325.67 L196.91,325.67 L196.91,325.67 L199.33,325.67 L199.33,340.15 L201.75,340.15 L201.75,340.15 L204.17,340.15 L204.17,351.1 L206.6,351.1 L206.6,390.7 L209.02,390.7 L209.02,351.1 L211.44,351.1 L211.44,390.7 L213.86,390.7 L213.86,390.7 L216.28,390.7 L216.28,340.15 L218.7,340.15 L218.7,333.74 L221.13,333.74 L221.13,340.15 L223.55,340.15 L223.55,340.15 L225.97,340.15 L225.97,340.15 L228.39,340.15 L228.39,351.1 L230.81,351.1 L230.81,340.15 L233.23,340.15 L233.23,351.1 L235.66,351.1 L235.66,329.2 L238.08,329.2 L238.08,351.1 L240.5,351.1 L240.5,325.67 L242.92,325.67 L242.92,329.2 L245.34,329.2 L245.34,351.1 L247.76,351.1 L247.76,340.15 L250.18,340.15 L250.18,340.15 L252.61,340.15 L252.61,340.15 L255.03,340.15 L255.03,390.7 L257.45,390.7 L257.45,340.15 L259.87,340.15 L259.87,340.15 L262.29,340.15 L262.29,333.74 L264.71,333.74 L264.71,351.1 L267.14,351.1 L267.14,351.1 L269.56,351.1 L269.56,351.1 L271.98,351.1 L271.98,390.7 L274.4,390.7 L274.4,351.1 L276.82,351.1 L276.82,333.74 L279.24,333.74 L279.24,340.15 L281.67,340.15 L281.67,325.67 L284.09,325.67 L284.09,390.7 L286.51,390.7 L286.51,329.2 L288.93,329.2 L288.93,318.25 L291.35,318.25 L291.35,325.67 L293.77,325.67 L293.77,390.7 L296.2,390.7 L296.2,318.25 L298.62,318.25 L298.62,311.84 L301.04,311.84 L301.04,311.84 L303.46,311.84 L303.46,313.22 L305.88,313.22 L305.88,309.41 L308.3,309.41 L308.3,305.44 L310.72,305.44 L310.72,299.63 L313.15,299.63 L313.15,301.57 L315.57,301.57 L315.57,295.86 L317.99,295.86 L317.99,297.91 L320.41,297.91 L320.41,296.35 L322.83,296.35 L322.83,292.83 L325.25,292.83 L325.25,288.38 L327.68,288.38 L327.68,289.3 L330.1,289.3 L330.1,282.89 L332.52,282.89 L332.52,281.1 L334.94,281.1 L334.94,275.47 L337.36,275.47 L337.36,273.84 L339.78,273.84 L339.78,269.78 L342.21,269.78 L342.21,264.32 L344.63,264.32 L344.63,262.31 L347.05,262.31 L347.05,257.14 L349.47,257.14 L349.47,255.02 L351.89,255.02 L351.89,249.37 L354.31,249.37 L354.31,242.54 L356.74,242.54 L356.74,236.72 L359.16,236.72 L359.16,233.42 L361.58,233.42 L361.58,230.47 L364,230.47 L364,230.61 L366.42,230.61 L366.42,230.68 L368.84,230.68 L368.84,230.66 L371.26,230.66 L371.26,231.1 L373.69,231.1 L373.69,230.66 L376.11,230.66 L376.11,231.09 L378.53,231.09 L378.53,231.33 L380.95,231.33 L380.95,231.74 L383.37,231.74 L383.37,233.25 L385.79,233.25 L385.79,236 L388.22,236 L388.22,239.63 L390.64,239.63 L390.64,242.69 L393.06,242.69 L393.06,245.94 L395.48,245.94 L395.48,251.25 L397.9,251.25 L397.9,254.62 L400.32,254.62 L400.32,258.97 L402.75,258.97 L402.75,263.13 L405.17,263.13 L405.17,267.64 L407.59,267.64 L407.59,270.06 L410.01,270.06 L410.01,273.84 L412.43,273.84 L412.43,274.08 L414.85,274.08 L414.85,278.04 L417.28,278.04 L417.28,279.67 L419.7,279.67 L419.7,285.4 L422.12,285.4 L422.12,284.21 L424.54,284.21 L424.54,288.68 L426.96,288.68 L426.96,288.08 L429.38,288.08 L429.38,294.93 L431.8,294.93 L431.8,289.62 L434.23,289.62 L434.23,296.35 L436.65,296.35 L436.65,299.03 L439.07,299.03 L439.07,297.91 L441.49,297.91 L441.49,296.35 L443.91,296.35 L443.91,307.3 L446.33,307.3 L446.33,303.78 L448.76,303.78 L448.76,303 L451.18,303 L451.18,300.89 L453.6,300.89 L453.6,296.35 L456.02,296.35 L456.02,296.35 L458.44,296.35 L458.44,296.35 L460.86,296.35 L460.86,300.89 L463.29,300.89 L463.29,297.91 L465.71,297.91 L465.71,303 L468.13,303 L468.13,304.59 L470.55,304.59 L470.55,311.84 L472.97,311.84 L472.97,305.44 L475.39,305.44 L475.39,305.44 L477.82,305.44 L477.82,305.44 L480.24,305.44 L480.24,300.25 L482.66,300.25 L482.66,305.44 L485.08,305.44 L485.08,308.32 L487.5,308.32 L487.5,313.22 L489.92,313.22 L489.92,311.84 L492.34,311.84 L492.34,316.39 L494.77,316.39 L494.77,314.73 L497.19,314.73 L497.19,311.84 L499.61,311.84 L499.61,311.84 L502.03,311.84 L502.03,325.67 L504.45,325.67 L504.45,351.1 L506.87,351.1 L506.87,320.36 L509.3,320.36 L509.3,320.36 L511.72,320.36 L511.72,306.34 L514.14,306.34 L514.14,314.73 L516.56,314.73 L516.56,325.67 L518.98,325.67 L518.98,325.67 L521.4,325.67 L521.4,310.58 L523.83,310.58 L523.83,311.84 L526.25,311.84 L526.25,316.39 L528.67,316.39 L528.67,333.74 L531.09,333.74 L531.09,320.36 L533.51,320.36 L533.51,311.84 L535.93,311.84 L535.93,325.67 L538.36,325.67 L538.36,333.74 L540.78,333.74 L540.78,325.67 L543.2,325.67 L543.2,316.39 L545.62,316.39 L545.62,329.2 L548.04,329.2 L548.04,325.67 L550.46,325.67 L550.46,322.79 L552.88,322.79 L552.88,318.25 L555.31,318.25 L555.31,333.74 L557.73,333.74 L557.73,320.36 L560.15,320.36 L560.15,333.74 L562.57,333.74 L562.57,320.36 L564.99,320.36 L564.99,333.74 L567.41,333.74 L567.41,351.1 L569.84,351.1 L569.84,333.74 L572.26,333.74 L572.26,340.15 L574.68,340.15 L574.68,351.1 L577.1,351.1 L577.1,340.15 L579.52,340.15 L579.52,333.74 L581.94,333.74 L581.94,333.74 L584.37,333.74 L584.37,325.67 L586.79,325.67 L586.79,316.39 L589.21,316.39 L589.21,322.79 L591.63,322.79 L591.63,340.15 L594.05,340.15 L594.05,340.15 L596.47,340.15 L596.47,320.36 L598.9,320.36 L598.9,351.1 L601.32,351.1 L601.32,351.1 L603.74,351.1 L603.74,351.1 L606.16,351.1 L606.16,333.74 L608.58,333.74 L608.58,333.74 L611,333.74 L611,325.67 L613.42,325.67 L613.42,333.74 L615.85,333.74 L615.85,333.74 L618.27,333.74 L618.27,340.15 L620.69,340.15 L620.69,390.7 L623.11,390.7 L623.11,351.1 L625.53,351.1 L625.53,351.1 L627.95,351.1 L627.95,333.74 L630.38,333.74 L630.38,333.74 L632.8,333.74 L632.8,325.67 L635.22,325.67 L635.22,390.7 L637.64,390.7 L637.64,351.1 L640.06,351.1 L640.06,390.7 L642.48,390.7 L642.48,351.1 L644.91,351.1 L644.91,333.74 L647.33,333.74 L647.33,351.1 L649.75,351.1 L649.75,340.15 L652.17,340.15 L652.17,340.15 L654.59,340.15 L654.59,340.15 L657.01,340.15 L657.01,340.15 L659.44,340.15 L659.44,340.15 L661.86,340.15 L661.86,333.74 L664.28,333.74 L664.28,340.15 L666.7,340.15 L666.7,340.15 L669.12,340.15 L669.12,351.1 L671.54,351.1 L671.54,390.7" fill="none" stroke="#000" stroke-opacity="0.75" stroke-width="2.5" stroke-linejoin="miter"/>
<path d="M242.8,378.4 L243.8,377.16 L244.8,375.93 L245.8,374.7 L246.8,373.47 L247.8,372.24 L248.8,371.02 L249.8,369.8 L250.8,368.59 L251.8,367.37 L252.8,366.16 L253.8,364.95 L254.8,363.75 L255.8,362.55 L256.8,361.35 L257.8,360.15 L258.8,358.96 L259.8,357.77 L260.8,356.58 L261.8,355.4 L262.8,354.22 L263.8,353.04 L264.8,351.86 L265.8,350.69 L266.8,349.52 L267.8,348.35 L268.8,347.19 L269.8,346.03 L270.8,344.87 L271.8,343.72 L272.8,342.57 L273.8,341.42 L274.8,340.27 L275.8,339.13 L276.8,337.98 L277.8,336.83 L278.8,335.68 L279.8,334.54 L280.8,333.39 L281.8,332.25 L282.8,331.1 L283.8,329.96 L284.8,328.83 L285.8,327.69 L286.8,326.56 L287.8,325.43 L288.8,324.31 L289.8,323.19 L290.8,322.08 L291.8,320.97 L292.8,319.87 L293.8,318.78 L294.8,317.69 L295.8,316.61 L296.8,315.54 L297.8,314.48 L298.8,313.42 L299.8,312.38 L300.8,311.34 L301.8,310.32 L302.8,309.3 L303.8,308.3 L304.8,307.32 L305.8,306.36 L306.8,305.42 L307.8,304.5 L308.8,303.59 L309.8,302.7 L310.8,301.83 L311.8,300.95 L312.8,300.09 L313.8,299.23 L314.8,298.36 L315.8,297.5 L316.8,296.63 L317.8,295.75 L318.8,294.86 L319.8,293.95 L320.8,293.03 L321.8,292.09 L322.8,291.13 L323.8,290.15 L324.8,289.14 L325.8,288.09 L326.8,287.03 L327.8,285.93 L328.8,284.82 L329.8,283.68 L330.8,282.52 L331.8,281.34 L332.8,280.13 L333.8,278.91 L334.8,277.67 L335.8,276.4 L336.8,275.12 L337.8,273.82 L338.8,272.51 L339.8,271.17 L340.8,269.83 L341.8,268.47 L342.8,267.11 L343.8,265.72 L344.8,264.28 L345.8,262.79 L346.8,261.24 L347.8,259.6 L348.8,257.86 L349.8,255.98 L350.8,253.92 L351.8,251.71 L352.8,249.38 L353.8,246.98 L354.8,244.37 L355.8,241.46 L356.8,238.84 L357.8,236.92 L358.8,235.35 L359.8,234.01 L360.8,232.82 L361.8,231.61 L362.8,230.71 L363.8,230.47 L364.8,230.42 L365.8,230.38 L366.8,230.34 L367.8,230.32 L368.8,230.31 L369.8,230.3 L370.8,230.31 L371.8,230.33 L372.8,230.38 L373.8,230.44 L374.8,230.52 L375.8,230.61 L376.8,230.72 L377.8,230.84 L378.8,230.97 L379.8,231.16 L380.8,231.5 L381.8,231.96 L382.8,232.52 L383.8,233.16 L384.8,233.86 L385.8,234.68 L386.8,235.78 L387.8,237.09 L388.8,238.57 L389.8,240.15 L390.8,241.77 L391.8,243.37 L392.8,244.9 L393.8,246.43 L394.8,248.02 L395.8,249.64 L396.8,251.29 L397.8,252.95 L398.8,254.6 L399.8,256.24 L400.8,257.84 L401.8,259.4 L402.8,260.91 L403.8,262.4 L404.8,263.85 L405.8,265.23 L406.8,266.55 L407.8,267.85 L408.8,269.11 L409.8,270.34 L410.8,271.55 L411.8,272.73 L412.8,273.89 L413.8,275.03 L414.8,276.14 L415.8,277.24 L416.8,278.32 L417.8,279.39 L418.8,280.44 L419.8,281.47 L420.8,282.48 L421.8,283.46 L422.8,284.41 L423.8,285.33 L424.8,286.21 L425.8,287.07 L426.8,287.92 L427.8,288.76 L428.8,289.58 L429.8,290.38 L430.8,291.16 L431.8,291.91 L432.8,292.62 L433.8,293.3 L434.8,293.93 L435.8,294.52 L436.8,295.07 L437.8,295.59 L438.8,296.09 L439.8,296.57 L440.8,297.03 L441.8,297.47 L442.8,297.9 L443.8,298.31 L444.8,298.7 L445.8,299.08 L446.8,299.44 L447.8,299.79 L448.8,300.12 L449.8,300.44 L450.8,300.74 L451.8,301.04 L452.8,301.33 L453.8,301.61 L454.8,301.88 L455.8,302.15 L456.8,302.41 L457.8,302.66 L458.8,302.9 L459.8,303.14 L460.8,303.38 L461.8,303.61 L462.8,303.84 L463.8,304.06 L464.8,304.28 L465.8,304.49 L466.8,304.7 L467.8,304.91 L468.8,305.12 L469.8,305.33 L470.8,305.53 L471.8,305.74 L472.8,305.94 L473.8,306.15 L474.8,306.36 L475.8,306.56 L476.8,306.77 L477.8,306.98 L478.8,307.2 L479.8,307.41 L480.8,307.63 L481.8,307.85 L482.8,308.08 L483.8,308.31 L484.8,308.53 L485.8,308.75 L486.8,308.97 L487.8,309.2 L488.8,309.42 L489.8,309.64 L490.8,309.86 L491.8,310.08 L492.8,310.3 L493.8,310.52 L494.8,310.74 L495.8,310.96 L496.8,311.17 L497.8,311.39 L498.8,311.61 L499.8,311.83 L500.8,312.05 L501.8,312.27 L502.8,312.48 L503.8,312.7 L504.8,312.92 L505.8,313.14 L506.8,313.36 L507.8,313.58 L508.8,313.8 L509.8,314.02 L510.8,314.24 L511.8,314.46 L512.8,314.69 L513.8,314.91 L514.8,315.13 L515.8,315.36 L516.8,315.58 L517.8,315.81 L518.8,316.04 L519.8,316.26 L520.8,316.49 L521.8,316.72 L522.8,316.95 L523.8,317.17 L524.8,317.4 L525.8,317.63 L526.8,317.86 L527.8,318.09 L528.8,318.32 L529.8,318.55 L530.8,318.78 L531.8,319.01 L532.8,319.23 L533.8,319.46 L534.8,319.69 L535.8,319.92 L536.8,320.15 L537.8,320.38 L538.8,320.61 L539.8,320.83 L540.8,321.06 L541.8,321.29 L542.8,321.51 L543.8,321.74 L544.8,321.96 L545.8,322.19 L546.8,322.41 L547.8,322.64 L548.8,322.86 L549.8,323.08 L550.8,323.3 L551.8,323.53 L552.8,323.75 L553.8,323.97 L554.8,324.19 L555.8,324.41 L556.8,324.63 L557.8,324.85 L558.8,325.07 L559.8,325.29 L560.8,325.51 L561.8,325.73 L562.8,325.95 L563.8,326.17 L564.8,326.39 L565.8,326.61 L566.8,326.83 L567.8,327.05 L568.8,327.27 L569.8,327.49 L570.8,327.71 L571.8,327.92 L572.8,328.14 L573.8,328.36 L574.8,328.58 L575.8,328.8 L576.8,329.02 L577.8,329.25 L578.8,329.47 L579.8,329.69 L580.8,329.91 L581.8,330.13 L582.8,330.35 L583.8,330.58 L584.8,330.8 L585.8,331.02 L586.8,331.24 L587.8,331.47 L588.8,331.69 L589.8,331.91 L590.8,332.14 L591.8,332.36 L592.8,332.58 L593.8,332.81 L594.8,333.03 L595.8,333.25 L596.8,333.48 L597.8,333.7 L598.8,333.92 L599.8,334.14 L600.8,334.36 L601.8,334.58 L602.8,334.8 L603.8,335.02 L604.8,335.24 L605.8,335.46 L606.8,335.68 L607.8,335.9 L608.8,336.11 L609.8,336.33 L610.8,336.54 L611.8,336.76 L612.8,336.97 L613.8,337.18 L614.8,337.39 L615.8,337.6 L616.8,337.81 L617.8,338.02 L618.8,338.23 L619.8,338.43 L620.8,338.64 L621.8,338.84 L622.8,339.05 L623.8,339.25 L624.8,339.46 L625.8,339.66 L626.8,339.87 L627.8,340.07 L628.8,340.28 L629.8,340.49 L630.8,340.69 L631.8,340.9 L632.8,341.1 L633.8,341.31 L634.8,341.52 L635.8,341.73 L636.8,341.94 L637.8,342.15 L638.8,342.36 L639.8,342.57 L640.8,342.79 L641.8,343 L642.8,343.22 L643.8,343.44 L644.8,343.66 L645.8,343.88 L646.8,344.1 L647.8,344.32 L648.8,344.55 L649.8,344.77 L650.8,345 L651.8,345.22 L652.8,345.45 L653.8,345.68 L654.8,345.9 L655.8,346.13 L656.8,346.36 L657.8,346.59 L658.8,346.82 L659.8,347.05" fill="none" stroke="rgb(205,10,10)" stroke-opacity="0.68" stroke-width="2.4" stroke-linejoin="round"/>
<line x1="381.0" y1="384.7" x2="381.0" y2="212.5" stroke="#d43f5c" stroke-width="2.4" stroke-dasharray="15.8 4 2.4 4"/>
<line x1="364.0" y1="384.7" x2="364.0" y2="212.5" stroke="#1a64d6" stroke-width="2.4" stroke-dasharray="8.8 4.3"/>
</g>
<rect x="61.5" y="212.5" width="605.7" height="172.2" fill="none" stroke="#1a1a1a" stroke-width="1.3"/>
<line x1="94.8" y1="384.7" x2="94.8" y2="389.2" stroke="#1a1a1a" stroke-width="1.3"/>
<text x="94.8" y="406" text-anchor="middle" font-size="17.2" textLength="85" lengthAdjust="spacingAndGlyphs">72380000</text>
<line x1="215.88" y1="384.7" x2="215.88" y2="389.2" stroke="#1a1a1a" stroke-width="1.3"/>
<text x="215.88" y="406" text-anchor="middle" font-size="17.2" textLength="85" lengthAdjust="spacingAndGlyphs">72380800</text>
<line x1="336.96" y1="384.7" x2="336.96" y2="389.2" stroke="#1a1a1a" stroke-width="1.3"/>
<text x="336.96" y="406" text-anchor="middle" font-size="17.2" textLength="85" lengthAdjust="spacingAndGlyphs">72381600</text>
<line x1="458.04" y1="384.7" x2="458.04" y2="389.2" stroke="#1a1a1a" stroke-width="1.3"/>
<text x="458.04" y="406" text-anchor="middle" font-size="17.2" textLength="85" lengthAdjust="spacingAndGlyphs">72382400</text>
<line x1="579.12" y1="384.7" x2="579.12" y2="389.2" stroke="#1a1a1a" stroke-width="1.3"/>
<text x="579.12" y="406" text-anchor="middle" font-size="17.2" textLength="85" lengthAdjust="spacingAndGlyphs">72383200</text>
<line x1="57.1" y1="241.98" x2="61.5" y2="241.98" stroke="#1a1a1a" stroke-width="1.3"/>
<text x="25.0" y="248.38" font-size="17.2" textLength="20.2" lengthAdjust="spacingAndGlyphs">10</text>
<text x="46.6" y="242.08" font-size="12.4" textLength="5.6" lengthAdjust="spacingAndGlyphs">3</text>
<line x1="57.1" y1="314.73" x2="61.5" y2="314.73" stroke="#1a1a1a" stroke-width="1.3"/>
<text x="25.0" y="321.12" font-size="17.2" textLength="20.2" lengthAdjust="spacingAndGlyphs">10</text>
<text x="46.6" y="314.83" font-size="12.4" textLength="5.6" lengthAdjust="spacingAndGlyphs">1</text>
<clipPath id="clipc"><rect x="61.5" y="424.1" width="605.7" height="172.5"/></clipPath>
<g clip-path="url(#clipc)">
<path d="M240.5,599.6 L240.5,601.6 L240.75,601.6 L241,601.6 L241.25,601.6 L241.5,601.6 L241.75,601.6 L242,601.6 L242.25,601.6 L242.5,601.6 L242.75,601.6 L243,587.22 L243.25,586.95 L243.5,586.68 L243.75,586.42 L244,586.15 L244.25,585.88 L244.5,585.61 L244.75,585.34 L245,585.08 L245.25,584.81 L245.5,601.6 L245.75,601.6 L246,601.6 L246.25,601.6 L246.5,601.6 L246.75,601.6 L247,601.6 L247.25,601.6 L247.5,601.6 L247.75,601.6 L248,601.6 L248.25,601.6 L248.5,601.6 L248.75,601.6 L249,601.6 L249.25,601.6 L249.5,601.6 L249.75,601.6 L250,601.6 L250.25,579.45 L250.5,579.19 L250.75,578.92 L251,578.65 L251.25,578.38 L251.5,578.12 L251.75,577.85 L252,577.58 L252.25,577.31 L252.5,577.05 L252.75,576.78 L253,576.51 L253.25,576.24 L253.5,575.97 L253.75,575.71 L254,575.44 L254.25,575.17 L254.5,574.9 L254.75,574.64 L255,574.37 L255.25,574.1 L255.5,573.83 L255.75,573.57 L256,573.3 L256.25,573.03 L256.5,572.76 L256.75,572.5 L257,572.23 L257.25,571.96 L257.5,601.6 L257.75,601.6 L258,601.6 L258.25,601.6 L258.5,601.6 L258.75,601.6 L259,601.6 L259.25,601.6 L259.5,601.6 L259.75,601.6 L260,569.02 L260.25,568.75 L260.5,568.49 L260.75,568.22 L261,567.95 L261.25,567.68 L261.5,567.42 L261.75,567.15 L262,566.88 L262.25,566.62 L262.5,566.35 L262.75,566.08 L263,565.81 L263.25,565.55 L263.5,565.28 L263.75,565.01 L264,564.74 L264.25,564.48 L264.5,564.21 L264.75,601.6 L265,601.6 L265.25,601.6 L265.5,601.6 L265.75,601.6 L266,601.6 L266.25,601.6 L266.5,601.6 L266.75,601.6 L267,601.6 L267.25,561.27 L267.5,561 L267.75,560.74 L268,560.47 L268.25,560.2 L268.5,559.94 L268.75,559.67 L269,559.4 L269.25,559.14 L269.5,558.87 L269.75,558.6 L270,558.33 L270.25,558.07 L270.5,557.8 L270.75,557.53 L271,557.27 L271.25,557 L271.5,556.73 L271.75,556.47 L272,556.2 L272.25,555.93 L272.5,555.66 L272.75,555.4 L273,555.13 L273.25,554.86 L273.5,554.6 L273.75,554.33 L274,554.06 L274.25,553.8 L274.5,601.6 L274.75,601.6 L275,601.6 L275.25,601.6 L275.5,601.6 L275.75,601.6 L276,601.6 L276.25,601.6 L276.5,601.6 L276.75,601.6 L277,550.86 L277.25,550.59 L277.5,550.33 L277.75,550.06 L278,549.79 L278.25,549.53 L278.5,549.26 L278.75,548.99 L279,548.73 L279.25,601.6 L279.5,601.6 L279.75,601.6 L280,601.6 L280.25,601.6 L280.5,601.6 L280.75,601.6 L281,601.6 L281.25,601.6 L281.5,601.6 L281.75,545.79 L282,545.53 L282.25,545.26 L282.5,544.99 L282.75,544.73 L283,544.46 L283.25,544.19 L283.5,543.93 L283.75,543.66 L284,543.4 L284.25,543.13 L284.5,542.86 L284.75,542.6 L285,542.33 L285.25,542.06 L285.5,541.8 L285.75,541.53 L286,541.26 L286.25,541 L286.5,540.73 L286.75,540.46 L287,540.2 L287.25,539.93 L287.5,539.66 L287.75,539.4 L288,539.13 L288.25,538.86 L288.5,538.6 L288.75,538.33 L289,538.07 L289.25,537.8 L289.5,537.53 L289.75,537.27 L290,537 L290.25,536.73 L290.5,536.47 L290.75,536.2 L291,535.94 L291.25,535.67 L291.5,535.41 L291.75,535.4 L292,535.4 L292.25,535.4 L292.5,535.4 L292.75,535.4 L293,535.4 L293.25,535.4 L293.5,535.4 L293.75,535.4 L294,535.4 L294.25,535.4 L294.5,535.4 L294.75,535.4 L295,535.4 L295.25,535.4 L295.5,535.4 L295.75,535.4 L296,535.4 L296.25,530.41 L296.5,530.15 L296.75,529.89 L297,529.63 L297.25,529.37 L297.5,529.11 L297.75,528.85 L298,528.59 L298.25,528.33 L298.5,528.07 L298.75,527.81 L299,527.55 L299.25,527.29 L299.5,527.03 L299.75,526.77 L300,526.51 L300.25,526.25 L300.5,525.99 L300.75,525.73 L301,525.47 L301.25,525.21 L301.5,524.95 L301.75,524.69 L302,524.43 L302.25,524.17 L302.5,523.91 L302.75,523.65 L303,523.39 L303.25,523.14 L303.5,601.6 L303.75,601.6 L304,601.6 L304.25,601.6 L304.5,601.6 L304.75,601.6 L305,601.6 L305.25,601.6 L305.5,601.6 L305.75,601.6 L306,526.55 L306.25,526.55 L306.5,526.55 L306.75,526.55 L307,526.55 L307.25,526.55 L307.5,526.55 L307.75,526.55 L308,526.55 L308.25,526.55 L308.5,526.55 L308.75,526.55 L309,526.55 L309.25,526.55 L309.5,526.55 L309.75,526.55 L310,526.55 L310.25,526.55 L310.5,526.55 L310.75,517.7 L311,517.7 L311.25,517.7 L311.5,517.7 L311.75,517.7 L312,517.7 L312.25,517.7 L312.5,517.7 L312.75,517.7 L313,517.7 L313.25,512.73 L313.5,512.47 L313.75,512.21 L314,511.94 L314.25,511.68 L314.5,511.42 L314.75,511.15 L315,510.89 L315.25,510.62 L315.5,510.55 L315.75,510.55 L316,510.55 L316.25,510.55 L316.5,510.55 L316.75,510.55 L317,510.55 L317.25,510.55 L317.5,510.55 L317.75,510.55 L318,517.7 L318.25,517.7 L318.5,517.7 L318.75,517.7 L319,517.7 L319.25,517.7 L319.5,517.7 L319.75,517.7 L320,517.7 L320.25,517.7 L320.5,507.35 L320.75,507.35 L321,507.35 L321.25,507.35 L321.5,507.35 L321.75,507.35 L322,507.35 L322.25,507.35 L322.5,507.35 L322.75,507.35 L323,507.35 L323.25,507.35 L323.5,507.35 L323.75,507.35 L324,507.35 L324.25,507.35 L324.5,507.35 L324.75,507.35 L325,507.35 L325.25,507.35 L325.5,500 L325.75,500 L326,500 L326.25,500 L326.5,500 L326.75,500 L327,500 L327.25,500 L327.5,500 L327.75,499.22 L328,499.22 L328.25,499.22 L328.5,499.22 L328.75,499.22 L329,499.22 L329.25,499.22 L329.5,499.22 L329.75,499.22 L330,499.22 L330.25,494.21 L330.5,493.93 L330.75,493.64 L331,493.36 L331.25,493.32 L331.5,493.32 L331.75,493.32 L332,493.32 L332.25,493.32 L332.5,493.32 L332.75,498.49 L333,498.49 L333.25,498.49 L333.5,498.49 L333.75,498.49 L334,498.49 L334.25,498.49 L334.5,498.49 L334.75,498.49 L335,491.55 L335.25,491.55 L335.5,491.55 L335.75,491.55 L336,491.55 L336.25,491.55 L336.5,491.55 L336.75,491.55 L337,491.55 L337.25,491.55 L337.5,485.71 L337.75,485.71 L338,485.71 L338.25,485.71 L338.5,485.71 L338.75,485.71 L339,485.71 L339.25,485.71 L339.5,485.71 L339.75,485.71 L340,482.46 L340.25,482.3 L340.5,482.3 L340.75,482.3 L341,482.3 L341.25,482.3 L341.5,482.3 L341.75,482.3 L342,482.3 L342.25,480.1 L342.5,480.1 L342.75,480.1 L343,480.1 L343.25,480.1 L343.5,480.1 L343.75,480.1 L344,480.1 L344.25,480.1 L344.5,480.1 L344.75,476.49 L345,476.15 L345.25,475.81 L345.5,475.46 L345.75,475.1 L346,474.74 L346.25,474.38 L346.5,474.38 L346.75,474.38 L347,474.38 L347.25,472.84 L347.5,472.43 L347.75,472.02 L348,471.59 L348.25,471.34 L348.5,471.34 L348.75,471.34 L349,471.34 L349.25,471.34 L349.5,468.79 L349.75,468.24 L350,467.66 L350.25,467.05 L350.5,466.42 L350.75,465.8 L351,465.8 L351.25,465.8 L351.5,465.8 L351.75,465.8 L352,462.28 L352.25,461.56 L352.5,460.83 L352.75,460.1 L353,459.38 L353.25,458.66 L353.5,458.19 L353.75,458.19 L354,458.19 L354.25,458.19 L354.5,455.21 L354.75,454.57 L355,453.92 L355.25,453.25 L355.5,452.55 L355.75,452.41 L356,452.41 L356.25,452.41 L356.5,452.41 L356.75,448.98 L357,448.29 L357.25,447.61 L357.5,446.96 L357.75,446.33 L358,445.74 L358.25,445.73 L358.5,445.73 L358.75,445.73 L359,445.73 L359.25,443.47 L359.5,443.19 L359.75,442.92 L360,442.66 L360.25,442.4 L360.5,442.15 L360.75,441.91 L361,441.83 L361.25,441.83 L361.5,441.83 L361.75,441.07 L362,440.9 L362.25,440.76 L362.5,440.63 L362.75,440.53 L363,440.46 L363.25,440.42 L363.5,440.41 L363.75,440.42 L364,440.47 L364.25,441.35 L364.5,441.35 L364.75,441.35 L365,441.35 L365.25,441.35 L365.5,441.35 L365.75,441.43 L366,441.62 L366.25,441.81 L366.5,443.14 L366.75,443.14 L367,443.14 L367.25,443.14 L367.5,443.16 L367.75,443.55 L368,443.96 L368.25,444.39 L368.5,444.83 L368.75,445.27 L369,447.35 L369.25,447.35 L369.5,447.35 L369.75,447.35 L370,447.35 L370.25,447.53 L370.5,447.78 L370.75,447.97 L371,448.11 L371.25,448.25 L371.5,448.57 L371.75,448.57 L372,448.6 L372.25,448.7 L372.5,448.79 L372.75,448.88 L373,448.97 L373.25,449.05 L373.5,449.12 L373.75,449.28 L374,449.28 L374.25,449.32 L374.5,449.38 L374.75,449.44 L375,449.5 L375.25,449.56 L375.5,449.62 L375.75,449.68 L376,449.74 L376.25,449.81 L376.5,449.86 L376.75,449.92 L377,449.99 L377.25,450.06 L377.5,450.14 L377.75,450.22 L378,450.3 L378.25,450.39 L378.5,450.49 L378.75,451.31 L379,451.31 L379.25,451.31 L379.5,451.31 L379.75,451.31 L380,451.31 L380.25,451.43 L380.5,451.61 L380.75,451.81 L381,452.28 L381.25,452.28 L381.5,452.48 L381.75,452.73 L382,452.98 L382.25,453.24 L382.5,453.51 L382.75,453.79 L383,454.07 L383.25,454.35 L383.5,456.6 L383.75,456.6 L384,456.6 L384.25,456.6 L384.5,456.6 L384.75,456.6 L385,456.6 L385.25,456.69 L385.5,456.98 L385.75,457.27 L386,459.12 L386.25,459.12 L386.5,459.12 L386.75,459.12 L387,459.12 L387.25,459.12 L387.5,459.12 L387.75,459.38 L388,459.64 L388.25,461.87 L388.5,461.87 L388.75,461.87 L389,461.87 L389.25,461.87 L389.5,461.87 L389.75,461.87 L390,461.87 L390.25,462.12 L390.5,462.4 L390.75,463.87 L391,463.87 L391.25,463.87 L391.5,463.87 L391.75,463.87 L392,464.04 L392.25,464.3 L392.5,464.56 L392.75,464.82 L393,465.08 L393.25,467.07 L393.5,467.07 L393.75,467.07 L394,467.07 L394.25,467.07 L394.5,467.07 L394.75,467.07 L395,467.07 L395.25,467.15 L395.5,468.27 L395.75,468.27 L396,468.27 L396.25,468.27 L396.5,468.27 L396.75,468.27 L397,468.38 L397.25,468.54 L397.5,468.69 L397.75,468.83 L398,469.53 L398.25,469.53 L398.5,469.53 L398.75,469.53 L399,469.53 L399.25,469.64 L399.5,469.77 L399.75,469.89 L400,470.01 L400.25,470.13 L400.5,470.52 L400.75,470.52 L401,470.52 L401.25,470.59 L401.5,470.71 L401.75,470.82 L402,470.93 L402.25,471.04 L402.5,471.15 L402.75,471.77 L403,471.77 L403.25,471.77 L403.5,471.77 L403.75,471.77 L404,471.81 L404.25,471.92 L404.5,472.04 L404.75,472.15 L405,472.27 L405.25,472.39 L405.5,472.5 L405.75,472.63 L406,472.75 L406.25,472.87 L406.5,473 L406.75,473.12 L407,473.25 L407.25,473.38 L407.5,473.5 L407.75,473.65 L408,473.76 L408.25,473.89 L408.5,474.01 L408.75,474.14 L409,474.27 L409.25,474.4 L409.5,474.53 L409.75,474.65 L410,474.78 L410.25,477.12 L410.5,477.12 L410.75,477.12 L411,477.12 L411.25,477.12 L411.5,477.12 L411.75,477.12 L412,477.12 L412.25,477.12 L412.5,476.6 L412.75,476.6 L413,476.6 L413.25,476.6 L413.5,476.6 L413.75,476.64 L414,476.76 L414.25,476.88 L414.5,476.99 L414.75,477.11 L415,477.66 L415.25,477.66 L415.5,477.66 L415.75,477.66 L416,477.66 L416.25,477.77 L416.5,477.88 L416.75,477.98 L417,478.09 L417.25,478.19 L417.5,478.29 L417.75,478.4 L418,478.5 L418.25,478.6 L418.5,478.7 L418.75,478.8 L419,478.9 L419.25,479 L419.5,479.1 L419.75,481.15 L420,481.15 L420.25,481.15 L420.5,481.15 L420.75,481.15 L421,481.15 L421.25,481.15 L421.5,481.15 L421.75,481.15 L422,481.15 L422.25,480.79 L422.5,480.79 L422.75,480.79 L423,480.79 L423.25,480.79 L423.5,480.79 L423.75,480.79 L424,480.84 L424.25,480.94 L424.5,481.04 L424.75,481.14 L425,481.24 L425.25,481.34 L425.5,481.44 L425.75,481.55 L426,481.65 L426.25,481.76 L426.5,481.87 L426.75,481.97 L427,482.08 L427.25,482.19 L427.5,482.3 L427.75,482.41 L428,482.52 L428.25,482.63 L428.5,482.74 L428.75,482.84 L429,482.95 L429.25,483.06 L429.5,485.45 L429.75,485.45 L430,485.45 L430.25,485.45 L430.5,485.45 L430.75,485.45 L431,485.45 L431.25,485.45 L431.5,485.45 L431.75,485.45 L432,485.45 L432.25,485.45 L432.5,485.45 L432.75,485.45 L433,485.45 L433.25,485.45 L433.5,485.45 L433.75,485.45 L434,485.45 L434.25,486.8 L434.5,486.8 L434.75,486.8 L435,486.8 L435.25,486.8 L435.5,486.8 L435.75,486.8 L436,486.8 L436.25,486.8 L436.5,486.8 L436.75,485.63 L437,485.69 L437.25,485.75 L437.5,485.81 L437.75,485.87 L438,485.92 L438.25,485.98 L438.5,486.04 L438.75,486.09 L439,486.15 L439.25,486.2 L439.5,486.26 L439.75,486.31 L440,486.36 L440.25,486.42 L440.5,486.47 L440.75,486.52 L441,486.57 L441.25,486.62 L441.5,486.67 L441.75,486.72 L442,486.77 L442.25,486.82 L442.5,486.87 L442.75,486.92 L443,486.97 L443.25,487.02 L443.5,487.06 L443.75,487.11 L444,487.68 L444.25,487.68 L444.5,487.68 L444.75,487.68 L445,487.68 L445.25,487.68 L445.5,487.68 L445.75,487.68 L446,487.68 L446.25,487.68 L446.5,487.65 L446.75,487.7 L447,487.76 L447.25,487.81 L447.5,487.86 L447.75,487.91 L448,487.96 L448.25,488.01 L448.5,488.07 L448.75,488.12 L449,491.15 L449.25,491.15 L449.5,491.15 L449.75,491.15 L450,491.15 L450.25,491.15 L450.5,491.15 L450.75,491.15 L451,491.15 L451.25,491.55 L451.5,491.55 L451.75,491.55 L452,491.55 L452.25,491.55 L452.5,491.55 L452.75,491.55 L453,491.55 L453.25,491.55 L453.5,491.55 L453.75,490.37 L454,490.37 L454.25,490.37 L454.5,490.37 L454.75,490.37 L455,490.37 L455.25,490.37 L455.5,490.37 L455.75,490.37 L456,490.37 L456.25,493.8 L456.5,493.8 L456.75,493.8 L457,493.8 L457.25,493.8 L457.5,493.8 L457.75,493.8 L458,493.8 L458.25,493.8 L458.5,494.3 L458.75,494.3 L459,494.3 L459.25,494.3 L459.5,494.3 L459.75,494.3 L460,494.3 L460.25,494.3 L460.5,494.3 L460.75,494.3 L461,494.82 L461.25,494.82 L461.5,494.82 L461.75,494.82 L462,494.82 L462.25,494.82 L462.5,494.82 L462.75,494.82 L463,494.82 L463.25,494.82 L463.5,495.93 L463.75,495.93 L464,495.93 L464.25,495.93 L464.5,495.93 L464.75,495.93 L465,495.93 L465.25,495.93 L465.5,495.93 L465.75,491.51 L466,491.56 L466.25,491.61 L466.5,491.66 L466.75,491.7 L467,491.75 L467.25,491.8 L467.5,491.85 L467.75,491.9 L468,491.95 L468.25,493.32 L468.5,493.32 L468.75,493.32 L469,493.32 L469.25,493.32 L469.5,493.32 L469.75,493.32 L470,493.32 L470.25,493.32 L470.5,493.32 L470.75,493.32 L471,493.32 L471.25,493.32 L471.5,493.32 L471.75,493.32 L472,493.32 L472.25,493.32 L472.5,493.32 L472.75,493.32 L473,497.8 L473.25,497.8 L473.5,497.8 L473.75,497.8 L474,497.8 L474.25,497.8 L474.5,497.8 L474.75,497.8 L475,497.8 L475.25,497.8 L475.5,497.15 L475.75,497.15 L476,497.15 L476.25,497.15 L476.5,497.15 L476.75,497.15 L477,497.15 L477.25,497.15 L477.5,497.15 L477.75,497.15 L478,497.15 L478.25,497.15 L478.5,497.15 L478.75,497.15 L479,497.15 L479.25,497.15 L479.5,497.15 L479.75,497.15 L480,497.15 L480.25,497.8 L480.5,497.8 L480.75,497.8 L481,497.8 L481.25,497.8 L481.5,497.8 L481.75,497.8 L482,497.8 L482.25,497.8 L482.5,497.8 L482.75,497.8 L483,497.8 L483.25,497.8 L483.5,497.8 L483.75,497.8 L484,497.8 L484.25,497.8 L484.5,497.8 L484.75,497.8 L485,497.8 L485.25,497.8 L485.5,497.8 L485.75,497.8 L486,497.8 L486.25,497.8 L486.5,497.8 L486.75,497.8 L487,497.8 L487.25,497.8 L487.5,497.8 L487.75,498.49 L488,498.49 L488.25,498.49 L488.5,498.49 L488.75,498.49 L489,498.49 L489.25,498.49 L489.5,498.49 L489.75,498.49 L490,507.35 L490.25,507.35 L490.5,507.35 L490.75,507.35 L491,507.35 L491.25,507.35 L491.5,507.35 L491.75,507.35 L492,507.35 L492.25,507.35 L492.5,499.22 L492.75,499.22 L493,499.22 L493.25,499.22 L493.5,499.22 L493.75,499.22 L494,499.22 L494.25,499.22 L494.5,499.22 L494.75,499.22 L495,500.82 L495.25,500.82 L495.5,500.82 L495.75,500.82 L496,500.82 L496.25,500.82 L496.5,500.82 L496.75,500.82 L497,500.82 L497.25,501.7 L497.5,501.7 L497.75,501.7 L498,501.7 L498.25,501.7 L498.5,501.7 L498.75,501.7 L499,501.7 L499.25,501.7 L499.5,501.7 L499.75,501.7 L500,501.7 L500.25,501.7 L500.5,501.7 L500.75,501.7 L501,501.7 L501.25,501.7 L501.5,501.7 L501.75,501.7 L502,501.7 L502.25,501.7 L502.5,501.7 L502.75,501.7 L503,501.7 L503.25,501.7 L503.5,501.7 L503.75,501.7 L504,501.7 L504.25,501.7 L504.5,502.65 L504.75,502.65 L505,502.65 L505.25,502.65 L505.5,502.65 L505.75,502.65 L506,502.65 L506.25,502.65 L506.5,502.65 L506.75,502.65 L507,502.65 L507.25,502.65 L507.5,502.65 L507.75,502.65 L508,502.65 L508.25,502.65 L508.5,502.65 L508.75,502.65 L509,502.65 L509.25,502.65 L509.5,500.16 L509.75,500.21 L510,500.26 L510.25,500.31 L510.5,500.36 L510.75,500.41 L511,500.46 L511.25,500.51 L511.5,500.56 L511.75,506 L512,506 L512.25,506 L512.5,506 L512.75,506 L513,506 L513.25,506 L513.5,506 L513.75,506 L514,506 L514.25,504.78 L514.5,504.78 L514.75,504.78 L515,504.78 L515.25,504.78 L515.5,504.78 L515.75,504.78 L516,504.78 L516.25,504.78 L516.5,504.78 L516.75,507.35 L517,507.35 L517.25,507.35 L517.5,507.35 L517.75,507.35 L518,507.35 L518.25,507.35 L518.5,507.35 L518.75,507.35 L519,510.55 L519.25,510.55 L519.5,510.55 L519.75,510.55 L520,510.55 L520.25,510.55 L520.5,510.55 L520.75,510.55 L521,510.55 L521.25,510.55 L521.5,510.55 L521.75,510.55 L522,510.55 L522.25,510.55 L522.5,510.55 L522.75,510.55 L523,510.55 L523.25,510.55 L523.5,510.55 L523.75,510.55 L524,517.7 L524.25,517.7 L524.5,517.7 L524.75,517.7 L525,517.7 L525.25,517.7 L525.5,517.7 L525.75,517.7 L526,517.7 L526.25,510.55 L526.5,510.55 L526.75,510.55 L527,510.55 L527.25,510.55 L527.5,510.55 L527.75,510.55 L528,510.55 L528.25,510.55 L528.5,510.55 L528.75,510.55 L529,510.55 L529.25,510.55 L529.5,510.55 L529.75,510.55 L530,510.55 L530.25,510.55 L530.5,510.55 L530.75,510.55 L531,510.55 L531.25,508.85 L531.5,508.85 L531.75,508.85 L532,508.85 L532.25,508.85 L532.5,508.85 L532.75,508.85 L533,508.85 L533.25,508.85 L533.5,508.85 L533.75,504.95 L534,505 L534.25,505.05 L534.5,505.1 L534.75,505.15 L535,505.2 L535.25,505.25 L535.5,505.3 L535.75,505.35 L536,505.4 L536.25,505.45 L536.5,505.5 L536.75,505.55 L537,505.6 L537.25,505.65 L537.5,505.7 L537.75,505.75 L538,505.8 L538.25,505.85 L538.5,512.52 L538.75,512.52 L539,512.52 L539.25,512.52 L539.5,512.52 L539.75,512.52 L540,512.52 L540.25,512.52 L540.5,512.52 L540.75,512.52 L541,512.52 L541.25,512.52 L541.5,512.52 L541.75,512.52 L542,512.52 L542.25,512.52 L542.5,512.52 L542.75,512.52 L543,512.52 L543.25,512.52 L543.5,512.52 L543.75,512.52 L544,512.52 L544.25,512.52 L544.5,512.52 L544.75,512.52 L545,512.52 L545.25,512.52 L545.5,512.52 L545.75,508.85 L546,508.85 L546.25,508.85 L546.5,508.85 L546.75,508.85 L547,508.85 L547.25,508.85 L547.5,508.85 L547.75,508.85 L548,508.85 L548.25,507.91 L548.5,507.97 L548.75,508.02 L549,508.07 L549.25,508.13 L549.5,508.18 L549.75,508.23 L550,508.29 L550.25,508.34 L550.5,508.4 L550.75,508.45 L551,508.5 L551.25,508.56 L551.5,508.61 L551.75,508.67 L552,508.72 L552.25,508.78 L552.5,508.83 L552.75,508.89 L553,508.94 L553.25,509 L553.5,509.05 L553.75,509.11 L554,509.16 L554.25,509.22 L554.5,509.27 L554.75,509.33 L555,509.39 L555.25,509.44 L555.5,509.5 L555.75,509.55 L556,509.61 L556.25,509.66 L556.5,509.72 L556.75,509.78 L557,509.83 L557.25,509.89 L557.5,509.94 L557.75,510 L558,510.06 L558.25,510.11 L558.5,510.17 L558.75,510.23 L559,510.28 L559.25,510.34 L559.5,510.39 L559.75,510.45 L560,510.51 L560.25,517.7 L560.5,517.7 L560.75,517.7 L561,517.7 L561.25,517.7 L561.5,517.7 L561.75,517.7 L562,517.7 L562.25,517.7 L562.5,517.7 L562.75,517.7 L563,517.7 L563.25,517.7 L563.5,517.7 L563.75,517.7 L564,517.7 L564.25,517.7 L564.5,517.7 L564.75,517.7 L565,526.55 L565.25,526.55 L565.5,526.55 L565.75,526.55 L566,526.55 L566.25,526.55 L566.5,526.55 L566.75,526.55 L567,526.55 L567.25,526.55 L567.5,521.37 L567.75,521.37 L568,521.37 L568.25,521.37 L568.5,521.37 L568.75,521.37 L569,521.37 L569.25,521.37 L569.5,521.37 L569.75,521.37 L570,512.76 L570.25,512.81 L570.5,512.87 L570.75,512.93 L571,512.98 L571.25,513.04 L571.5,513.09 L571.75,513.15 L572,513.2 L572.25,513.26 L572.5,513.31 L572.75,513.37 L573,513.42 L573.25,513.48 L573.5,513.53 L573.75,513.58 L574,513.64 L574.25,513.69 L574.5,513.75 L574.75,526.55 L575,526.55 L575.25,526.55 L575.5,526.55 L575.75,526.55 L576,526.55 L576.25,526.55 L576.5,526.55 L576.75,526.55 L577,526.55 L577.25,514.34 L577.5,514.39 L577.75,514.44 L578,514.5 L578.25,514.55 L578.5,514.6 L578.75,514.65 L579,514.7 L579.25,514.76 L579.5,514.81 L579.75,517.7 L580,517.7 L580.25,517.7 L580.5,517.7 L580.75,517.7 L581,517.7 L581.25,517.7 L581.5,517.7 L581.75,517.7 L582,515.33 L582.25,515.38 L582.5,515.43 L582.75,515.48 L583,515.54 L583.25,515.59 L583.5,515.64 L583.75,515.69 L584,515.74 L584.25,515.79 L584.5,515.84 L584.75,515.9 L585,515.95 L585.25,516 L585.5,516.05 L585.75,516.1 L586,516.15 L586.25,516.2 L586.5,516.25 L586.75,516.31 L587,516.36 L587.25,516.41 L587.5,516.46 L587.75,516.51 L588,516.56 L588.25,516.61 L588.5,516.66 L588.75,516.71 L589,516.76 L589.25,526.55 L589.5,526.55 L589.75,526.55 L590,526.55 L590.25,526.55 L590.5,526.55 L590.75,526.55 L591,526.55 L591.25,526.55 L591.5,526.55 L591.75,517.7 L592,517.7 L592.25,517.7 L592.5,517.7 L592.75,517.7 L593,517.7 L593.25,517.7 L593.5,517.7 L593.75,517.72 L594,517.77 L594.25,521.37 L594.5,521.37 L594.75,521.37 L595,521.37 L595.25,521.37 L595.5,521.37 L595.75,521.37 L596,521.37 L596.25,521.37 L596.5,518.27 L596.75,518.32 L597,518.37 L597.25,518.42 L597.5,518.46 L597.75,518.51 L598,518.56 L598.25,518.61 L598.5,518.66 L598.75,518.71 L599,521.37 L599.25,521.37 L599.5,521.37 L599.75,521.37 L600,521.37 L600.25,521.37 L600.5,521.37 L600.75,521.37 L601,521.37 L601.25,521.37 L601.5,519.25 L601.75,519.3 L602,519.35 L602.25,519.4 L602.5,519.44 L602.75,519.49 L603,519.54 L603.25,519.59 L603.5,519.64 L603.75,519.69 L604,519.74 L604.25,519.78 L604.5,519.83 L604.75,519.88 L605,519.93 L605.25,519.98 L605.5,520.03 L605.75,520.07 L606,520.12 L606.25,520.17 L606.5,520.22 L606.75,520.27 L607,520.31 L607.25,520.36 L607.5,520.41 L607.75,520.46 L608,520.51 L608.25,520.55 L608.5,520.6 L608.75,526.55 L609,526.55 L609.25,526.55 L609.5,526.55 L609.75,526.55 L610,526.55 L610.25,526.55 L610.5,526.55 L610.75,526.55 L611,526.55 L611.25,521.12 L611.5,521.17 L611.75,521.22 L612,521.26 L612.25,521.31 L612.5,521.36 L612.75,521.4 L613,521.45 L613.25,521.49 L613.5,526.55 L613.75,526.55 L614,526.55 L614.25,526.55 L614.5,526.55 L614.75,526.55 L615,526.55 L615.25,526.55 L615.5,526.55 L615.75,526.55 L616,526.55 L616.25,526.55 L616.5,526.55 L616.75,526.55 L617,526.55 L617.25,526.55 L617.5,526.55 L617.75,526.55 L618,526.55 L618.25,526.55 L618.5,522.44 L618.75,522.48 L619,522.52 L619.25,522.57 L619.5,522.61 L619.75,522.65 L620,522.7 L620.25,522.74 L620.5,522.78 L620.75,522.83 L621,522.87 L621.25,522.91 L621.5,522.96 L621.75,523 L622,523.04 L622.25,523.09 L622.5,523.13 L622.75,523.17 L623,523.22 L623.25,523.26 L623.5,523.3 L623.75,523.35 L624,523.39 L624.25,523.43 L624.5,523.48 L624.75,523.52 L625,523.56 L625.25,523.61 L625.5,523.65 L625.75,535.4 L626,535.4 L626.25,535.4 L626.5,535.4 L626.75,535.4 L627,535.4 L627.25,535.4 L627.5,535.4 L627.75,535.4 L628,524.08 L628.25,524.12 L628.5,524.17 L628.75,524.21 L629,524.26 L629.25,524.3 L629.5,524.34 L629.75,524.39 L630,524.43 L630.25,524.47 L630.5,524.52 L630.75,524.56 L631,524.61 L631.25,524.65 L631.5,524.69 L631.75,524.74 L632,524.78 L632.25,524.83 L632.5,524.87 L632.75,524.92 L633,524.96 L633.25,525.01 L633.5,525.05 L633.75,525.1 L634,525.14 L634.25,525.19 L634.5,525.23 L634.75,525.28 L635,525.32 L635.25,525.37 L635.5,525.41 L635.75,525.46 L636,525.51 L636.25,525.55 L636.5,525.6 L636.75,525.65 L637,525.69 L637.25,525.74 L637.5,525.79 L637.75,525.83 L638,525.88 L638.25,525.93 L638.5,525.98 L638.75,526.02 L639,526.07 L639.25,526.12 L639.5,526.17 L639.75,526.22 L640,526.26 L640.25,526.31 L640.5,526.36 L640.75,526.41 L641,526.46 L641.25,526.51 L641.5,526.56 L641.75,526.61 L642,526.66 L642.25,526.71 L642.5,535.4 L642.75,535.4 L643,535.4 L643.25,535.4 L643.5,535.4 L643.75,535.4 L644,535.4 L644.25,535.4 L644.5,535.4 L644.75,535.4 L645,527.28 L645.25,527.33 L645.5,527.38 L645.75,527.44 L646,527.49 L646.25,527.54 L646.5,527.6 L646.75,527.65 L647,527.71 L647.25,527.76 L647.5,527.82 L647.75,527.87 L648,527.93 L648.25,527.98 L648.5,528.04 L648.75,528.09 L649,528.15 L649.25,528.2 L649.5,528.26 L649.75,528.32 L650,528.37 L650.25,528.43 L650.5,528.49 L650.75,528.54 L651,528.6 L651.25,528.66 L651.5,528.71 L651.75,528.77 L652,528.83 L652.25,528.89 L652.5,528.94 L652.75,529 L653,529.06 L653.25,529.12 L653.5,529.18 L653.75,529.23 L654,529.29 L654.25,529.35 L654.5,529.41 L654.75,529.47 L655,529.53 L655.25,529.59 L655.5,529.65 L655.75,529.7 L656,529.76 L656.25,529.82 L656.5,529.88 L656.75,529.94 L657,530 L657,599.6 Z" fill="#cdcdcd" stroke="none"/>
<path d="M61.3,602.6 L61.3,535.4 L63.72,535.4 L63.72,535.4 L66.14,535.4 L66.14,535.4 L68.56,535.4 L68.56,602.6 L70.99,602.6 L70.99,526.55 L73.41,526.55 L73.41,602.6 L75.83,602.6 L75.83,535.4 L78.25,535.4 L78.25,535.4 L80.67,535.4 L80.67,602.6 L83.09,602.6 L83.09,602.6 L85.52,602.6 L85.52,521.37 L87.94,521.37 L87.94,602.6 L90.36,602.6 L90.36,535.4 L92.78,535.4 L92.78,602.6 L95.2,602.6 L95.2,526.55 L97.62,526.55 L97.62,535.4 L100.05,535.4 L100.05,535.4 L102.47,535.4 L102.47,535.4 L104.89,535.4 L104.89,526.55 L107.31,526.55 L107.31,526.55 L109.73,526.55 L109.73,526.55 L112.15,526.55 L112.15,535.4 L114.58,535.4 L114.58,535.4 L117,535.4 L117,535.4 L119.42,535.4 L119.42,521.37 L121.84,521.37 L121.84,535.4 L124.26,535.4 L124.26,535.4 L126.68,535.4 L126.68,526.55 L129.1,526.55 L129.1,602.6 L131.53,602.6 L131.53,602.6 L133.95,602.6 L133.95,602.6 L136.37,602.6 L136.37,602.6 L138.79,602.6 L138.79,602.6 L141.21,602.6 L141.21,602.6 L143.63,602.6 L143.63,535.4 L146.06,535.4 L146.06,535.4 L148.48,535.4 L148.48,535.4 L150.9,535.4 L150.9,526.55 L153.32,526.55 L153.32,535.4 L155.74,535.4 L155.74,535.4 L158.16,535.4 L158.16,535.4 L160.59,535.4 L160.59,535.4 L163.01,535.4 L163.01,602.6 L165.43,602.6 L165.43,602.6 L167.85,602.6 L167.85,535.4 L170.27,535.4 L170.27,602.6 L172.69,602.6 L172.69,535.4 L175.12,535.4 L175.12,602.6 L177.54,602.6 L177.54,602.6 L179.96,602.6 L179.96,526.55 L182.38,526.55 L182.38,526.55 L184.8,526.55 L184.8,517.7 L187.22,517.7 L187.22,535.4 L189.64,535.4 L189.64,535.4 L192.07,535.4 L192.07,535.4 L194.49,535.4 L194.49,535.4 L196.91,535.4 L196.91,602.6 L199.33,602.6 L199.33,526.55 L201.75,526.55 L201.75,535.4 L204.17,535.4 L204.17,602.6 L206.6,602.6 L206.6,521.37 L209.02,521.37 L209.02,602.6 L211.44,602.6 L211.44,602.6 L213.86,602.6 L213.86,602.6 L216.28,602.6 L216.28,526.55 L218.7,526.55 L218.7,602.6 L221.13,602.6 L221.13,521.37 L223.55,521.37 L223.55,602.6 L225.97,602.6 L225.97,535.4 L228.39,535.4 L228.39,526.55 L230.81,526.55 L230.81,535.4 L233.23,535.4 L233.23,535.4 L235.66,535.4 L235.66,535.4 L238.08,535.4 L238.08,535.4 L240.5,535.4 L240.5,602.6 L242.92,602.6 L242.92,521.37 L245.34,521.37 L245.34,602.6 L247.76,602.6 L247.76,602.6 L250.18,602.6 L250.18,521.37 L252.61,521.37 L252.61,526.55 L255.03,526.55 L255.03,526.55 L257.45,526.55 L257.45,602.6 L259.87,602.6 L259.87,535.4 L262.29,535.4 L262.29,526.55 L264.71,526.55 L264.71,602.6 L267.14,602.6 L267.14,535.4 L269.56,535.4 L269.56,535.4 L271.98,535.4 L271.98,535.4 L274.4,535.4 L274.4,602.6 L276.82,602.6 L276.82,526.55 L279.24,526.55 L279.24,602.6 L281.67,602.6 L281.67,526.55 L284.09,526.55 L284.09,514.85 L286.51,514.85 L286.51,535.4 L288.93,535.4 L288.93,535.4 L291.35,535.4 L291.35,535.4 L293.77,535.4 L293.77,535.4 L296.2,535.4 L296.2,517.7 L298.62,517.7 L298.62,521.37 L301.04,521.37 L301.04,521.37 L303.46,521.37 L303.46,602.6 L305.88,602.6 L305.88,526.55 L308.3,526.55 L308.3,526.55 L310.72,526.55 L310.72,517.7 L313.15,517.7 L313.15,510.55 L315.57,510.55 L315.57,510.55 L317.99,510.55 L317.99,517.7 L320.41,517.7 L320.41,507.35 L322.83,507.35 L322.83,507.35 L325.25,507.35 L325.25,500 L327.68,500 L327.68,499.22 L330.1,499.22 L330.1,493.32 L332.52,493.32 L332.52,498.49 L334.94,498.49 L334.94,491.55 L337.36,491.55 L337.36,485.71 L339.78,485.71 L339.78,482.3 L342.21,482.3 L342.21,480.1 L344.63,480.1 L344.63,474.38 L347.05,474.38 L347.05,471.34 L349.47,471.34 L349.47,465.8 L351.89,465.8 L351.89,458.19 L354.31,458.19 L354.31,452.41 L356.74,452.41 L356.74,445.73 L359.16,445.73 L359.16,441.83 L361.58,441.83 L361.58,440.41 L364,440.41 L364,441.35 L366.42,441.35 L366.42,443.14 L368.84,443.14 L368.84,447.35 L371.26,447.35 L371.26,448.57 L373.69,448.57 L373.69,449.28 L376.11,449.28 L376.11,449.81 L378.53,449.81 L378.53,451.31 L380.95,451.31 L380.95,452.28 L383.37,452.28 L383.37,456.6 L385.79,456.6 L385.79,459.12 L388.22,459.12 L388.22,461.87 L390.64,461.87 L390.64,463.87 L393.06,463.87 L393.06,467.07 L395.48,467.07 L395.48,468.27 L397.9,468.27 L397.9,469.53 L400.32,469.53 L400.32,470.52 L402.75,470.52 L402.75,471.77 L405.17,471.77 L405.17,471.25 L407.59,471.25 L407.59,473.65 L410.01,473.65 L410.01,477.12 L412.43,477.12 L412.43,476.6 L414.85,476.6 L414.85,477.66 L417.28,477.66 L417.28,477.8 L419.7,477.8 L419.7,481.15 L422.12,481.15 L422.12,480.79 L424.54,480.79 L424.54,480.62 L426.96,480.62 L426.96,481.52 L429.38,481.52 L429.38,485.45 L431.8,485.45 L431.8,485.45 L434.23,485.45 L434.23,486.8 L436.65,486.8 L436.65,485.45 L439.07,485.45 L439.07,485.45 L441.49,485.45 L441.49,486.51 L443.91,486.51 L443.91,487.68 L446.33,487.68 L446.33,487.38 L448.76,487.38 L448.76,491.15 L451.18,491.15 L451.18,491.55 L453.6,491.55 L453.6,490.37 L456.02,490.37 L456.02,493.8 L458.44,493.8 L458.44,494.3 L460.86,494.3 L460.86,494.82 L463.29,494.82 L463.29,495.93 L465.71,495.93 L465.71,489.29 L468.13,489.29 L468.13,493.32 L470.55,493.32 L470.55,493.32 L472.97,493.32 L472.97,497.8 L475.39,497.8 L475.39,497.15 L477.82,497.15 L477.82,497.15 L480.24,497.15 L480.24,497.8 L482.66,497.8 L482.66,497.8 L485.08,497.8 L485.08,497.8 L487.5,497.8 L487.5,498.49 L489.92,498.49 L489.92,507.35 L492.34,507.35 L492.34,499.22 L494.77,499.22 L494.77,500.82 L497.19,500.82 L497.19,501.7 L499.61,501.7 L499.61,501.7 L502.03,501.7 L502.03,501.7 L504.45,501.7 L504.45,502.65 L506.87,502.65 L506.87,502.65 L509.3,502.65 L509.3,497.15 L511.72,497.15 L511.72,506 L514.14,506 L514.14,504.78 L516.56,504.78 L516.56,507.35 L518.98,507.35 L518.98,510.55 L521.4,510.55 L521.4,510.55 L523.83,510.55 L523.83,517.7 L526.25,517.7 L526.25,510.55 L528.67,510.55 L528.67,510.55 L531.09,510.55 L531.09,508.85 L533.51,508.85 L533.51,503.67 L535.93,503.67 L535.93,503.67 L538.36,503.67 L538.36,512.52 L540.78,512.52 L540.78,512.52 L543.2,512.52 L543.2,512.52 L545.62,512.52 L545.62,508.85 L548.04,508.85 L548.04,503.67 L550.46,503.67 L550.46,503.67 L552.88,503.67 L552.88,503.67 L555.31,503.67 L555.31,503.67 L557.73,503.67 L557.73,507.35 L560.15,507.35 L560.15,517.7 L562.57,517.7 L562.57,517.7 L564.99,517.7 L564.99,526.55 L567.41,526.55 L567.41,521.37 L569.84,521.37 L569.84,512.52 L572.26,512.52 L572.26,512.52 L574.68,512.52 L574.68,526.55 L577.1,526.55 L577.1,508.85 L579.52,508.85 L579.52,517.7 L581.94,517.7 L581.94,508.85 L584.37,508.85 L584.37,508.85 L586.79,508.85 L586.79,508.85 L589.21,508.85 L589.21,526.55 L591.63,526.55 L591.63,517.7 L594.05,517.7 L594.05,521.37 L596.47,521.37 L596.47,507.35 L598.9,507.35 L598.9,521.37 L601.32,521.37 L601.32,514.85 L603.74,514.85 L603.74,514.85 L606.16,514.85 L606.16,514.85 L608.58,514.85 L608.58,526.55 L611,526.55 L611,514.85 L613.42,514.85 L613.42,526.55 L615.85,526.55 L615.85,526.55 L618.27,526.55 L618.27,510.55 L620.69,510.55 L620.69,521.37 L623.11,521.37 L623.11,521.37 L625.53,521.37 L625.53,535.4 L627.95,535.4 L627.95,521.37 L630.38,521.37 L630.38,517.7 L632.8,517.7 L632.8,517.7 L635.22,517.7 L635.22,521.37 L637.64,521.37 L637.64,508.85 L640.06,508.85 L640.06,521.37 L642.48,521.37 L642.48,535.4 L644.91,535.4 L644.91,521.37 L647.33,521.37 L647.33,514.85 L649.75,514.85 L649.75,517.7 L652.17,517.7 L652.17,514.85 L654.59,514.85 L654.59,521.37 L657.01,521.37 L657.01,602.6 L659.44,602.6 L659.44,602.6 L661.86,602.6 L661.86,517.7 L664.28,517.7 L664.28,521.37 L666.7,521.37 L666.7,521.37 L669.12,521.37 L669.12,526.55 L671.54,526.55 L671.54,602.6" fill="none" stroke="#000" stroke-opacity="0.75" stroke-width="2.5" stroke-linejoin="miter"/>
<path d="M240.5,589.9 L241.5,588.83 L242.5,587.76 L243.5,586.68 L244.5,585.61 L245.5,584.54 L246.5,583.47 L247.5,582.4 L248.5,581.33 L249.5,580.26 L250.5,579.19 L251.5,578.12 L252.5,577.05 L253.5,575.97 L254.5,574.9 L255.5,573.83 L256.5,572.76 L257.5,571.69 L258.5,570.63 L259.5,569.56 L260.5,568.49 L261.5,567.42 L262.5,566.35 L263.5,565.28 L264.5,564.21 L265.5,563.14 L266.5,562.07 L267.5,561 L268.5,559.94 L269.5,558.87 L270.5,557.8 L271.5,556.73 L272.5,555.66 L273.5,554.6 L274.5,553.53 L275.5,552.46 L276.5,551.4 L277.5,550.33 L278.5,549.26 L279.5,548.19 L280.5,547.13 L281.5,546.06 L282.5,544.99 L283.5,543.93 L284.5,542.86 L285.5,541.8 L286.5,540.73 L287.5,539.66 L288.5,538.6 L289.5,537.53 L290.5,536.47 L291.5,535.41 L292.5,534.35 L293.5,533.29 L294.5,532.24 L295.5,531.2 L296.5,530.15 L297.5,529.11 L298.5,528.07 L299.5,527.03 L300.5,525.99 L301.5,524.95 L302.5,523.91 L303.5,522.88 L304.5,521.84 L305.5,520.8 L306.5,519.77 L307.5,518.73 L308.5,517.69 L309.5,516.65 L310.5,515.61 L311.5,514.56 L312.5,513.52 L313.5,512.47 L314.5,511.42 L315.5,510.36 L316.5,509.3 L317.5,508.24 L318.5,507.17 L319.5,506.1 L320.5,505.02 L321.5,503.94 L322.5,502.86 L323.5,501.76 L324.5,500.66 L325.5,499.56 L326.5,498.45 L327.5,497.33 L328.5,496.2 L329.5,495.07 L330.5,493.93 L331.5,492.78 L332.5,491.62 L333.5,490.46 L334.5,489.28 L335.5,488.08 L336.5,486.87 L337.5,485.63 L338.5,484.38 L339.5,483.1 L340.5,481.83 L341.5,480.59 L342.5,479.36 L343.5,478.11 L344.5,476.82 L345.5,475.46 L346.5,474 L347.5,472.43 L348.5,470.72 L349.5,468.79 L350.5,466.42 L351.5,463.71 L352.5,460.83 L353.5,457.94 L354.5,455.21 L355.5,452.55 L356.5,449.69 L357.5,446.96 L358.5,444.68 L359.5,443.19 L360.5,442.15 L361.5,441.26 L362.5,440.63 L363.5,440.4 L364.5,440.65 L365.5,441.25 L366.5,442 L367.5,443.16 L368.5,444.83 L369.5,446.52 L370.5,447.78 L371.5,448.37 L372.5,448.79 L373.5,449.12 L374.5,449.38 L375.5,449.62 L376.5,449.86 L377.5,450.14 L378.5,450.49 L379.5,450.95 L380.5,451.61 L381.5,452.48 L382.5,453.51 L383.5,454.64 L384.5,455.81 L385.5,456.98 L386.5,458.09 L387.5,459.12 L388.5,460.18 L389.5,461.28 L390.5,462.4 L391.5,463.5 L392.5,464.56 L393.5,465.58 L394.5,466.51 L395.5,467.35 L396.5,468.07 L397.5,468.69 L398.5,469.25 L399.5,469.77 L400.5,470.25 L401.5,470.71 L402.5,471.15 L403.5,471.59 L404.5,472.04 L405.5,472.5 L406.5,473 L407.5,473.5 L408.5,474.01 L409.5,474.53 L410.5,475.04 L411.5,475.54 L412.5,476.04 L413.5,476.52 L414.5,476.99 L415.5,477.44 L416.5,477.88 L417.5,478.29 L418.5,478.7 L419.5,479.1 L420.5,479.49 L421.5,479.87 L422.5,480.26 L423.5,480.65 L424.5,481.04 L425.5,481.44 L426.5,481.87 L427.5,482.3 L428.5,482.74 L429.5,483.17 L430.5,483.59 L431.5,484 L432.5,484.38 L433.5,484.72 L434.5,485.03 L435.5,485.3 L436.5,485.56 L437.5,485.81 L438.5,486.04 L439.5,486.26 L440.5,486.47 L441.5,486.67 L442.5,486.87 L443.5,487.06 L444.5,487.26 L445.5,487.46 L446.5,487.65 L447.5,487.86 L448.5,488.07 L449.5,488.27 L450.5,488.48 L451.5,488.68 L452.5,488.89 L453.5,489.09 L454.5,489.29 L455.5,489.49 L456.5,489.69 L457.5,489.89 L458.5,490.09 L459.5,490.29 L460.5,490.48 L461.5,490.68 L462.5,490.88 L463.5,491.07 L464.5,491.27 L465.5,491.46 L466.5,491.66 L467.5,491.85 L468.5,492.04 L469.5,492.24 L470.5,492.43 L471.5,492.63 L472.5,492.82 L473.5,493.01 L474.5,493.21 L475.5,493.4 L476.5,493.6 L477.5,493.79 L478.5,493.99 L479.5,494.19 L480.5,494.38 L481.5,494.58 L482.5,494.78 L483.5,494.98 L484.5,495.18 L485.5,495.38 L486.5,495.57 L487.5,495.77 L488.5,495.97 L489.5,496.17 L490.5,496.37 L491.5,496.57 L492.5,496.77 L493.5,496.97 L494.5,497.17 L495.5,497.37 L496.5,497.57 L497.5,497.77 L498.5,497.97 L499.5,498.17 L500.5,498.37 L501.5,498.57 L502.5,498.76 L503.5,498.96 L504.5,499.16 L505.5,499.36 L506.5,499.56 L507.5,499.76 L508.5,499.96 L509.5,500.16 L510.5,500.36 L511.5,500.56 L512.5,500.76 L513.5,500.96 L514.5,501.16 L515.5,501.36 L516.5,501.56 L517.5,501.75 L518.5,501.95 L519.5,502.15 L520.5,502.35 L521.5,502.54 L522.5,502.74 L523.5,502.94 L524.5,503.13 L525.5,503.33 L526.5,503.52 L527.5,503.72 L528.5,503.92 L529.5,504.11 L530.5,504.31 L531.5,504.51 L532.5,504.7 L533.5,504.9 L534.5,505.1 L535.5,505.3 L536.5,505.5 L537.5,505.7 L538.5,505.9 L539.5,506.1 L540.5,506.3 L541.5,506.51 L542.5,506.71 L543.5,506.92 L544.5,507.13 L545.5,507.33 L546.5,507.54 L547.5,507.75 L548.5,507.97 L549.5,508.18 L550.5,508.4 L551.5,508.61 L552.5,508.83 L553.5,509.05 L554.5,509.27 L555.5,509.5 L556.5,509.72 L557.5,509.94 L558.5,510.17 L559.5,510.39 L560.5,510.62 L561.5,510.85 L562.5,511.07 L563.5,511.3 L564.5,511.52 L565.5,511.75 L566.5,511.98 L567.5,512.2 L568.5,512.42 L569.5,512.65 L570.5,512.87 L571.5,513.09 L572.5,513.31 L573.5,513.53 L574.5,513.75 L575.5,513.96 L576.5,514.18 L577.5,514.39 L578.5,514.6 L579.5,514.81 L580.5,515.02 L581.5,515.23 L582.5,515.43 L583.5,515.64 L584.5,515.84 L585.5,516.05 L586.5,516.25 L587.5,516.46 L588.5,516.66 L589.5,516.87 L590.5,517.07 L591.5,517.27 L592.5,517.47 L593.5,517.67 L594.5,517.87 L595.5,518.07 L596.5,518.27 L597.5,518.46 L598.5,518.66 L599.5,518.86 L600.5,519.05 L601.5,519.25 L602.5,519.44 L603.5,519.64 L604.5,519.83 L605.5,520.03 L606.5,520.22 L607.5,520.41 L608.5,520.6 L609.5,520.79 L610.5,520.98 L611.5,521.17 L612.5,521.36 L613.5,521.54 L614.5,521.72 L615.5,521.9 L616.5,522.08 L617.5,522.26 L618.5,522.44 L619.5,522.61 L620.5,522.78 L621.5,522.96 L622.5,523.13 L623.5,523.3 L624.5,523.48 L625.5,523.65 L626.5,523.82 L627.5,523.99 L628.5,524.17 L629.5,524.34 L630.5,524.52 L631.5,524.69 L632.5,524.87 L633.5,525.05 L634.5,525.23 L635.5,525.41 L636.5,525.6 L637.5,525.79 L638.5,525.98 L639.5,526.17 L640.5,526.36 L641.5,526.56 L642.5,526.76 L643.5,526.96 L644.5,527.17 L645.5,527.38 L646.5,527.6 L647.5,527.82 L648.5,528.04 L649.5,528.26 L650.5,528.49 L651.5,528.71 L652.5,528.94 L653.5,529.18 L654.5,529.41 L655.5,529.65 L656.5,529.88" fill="none" stroke="rgb(205,10,10)" stroke-opacity="0.68" stroke-width="2.4" stroke-linejoin="round"/>
<line x1="380.7" y1="596.6" x2="380.7" y2="424.1" stroke="#d43f5c" stroke-width="2.4" stroke-dasharray="15.8 4 2.4 4"/>
<line x1="364.0" y1="596.6" x2="364.0" y2="424.1" stroke="#1a64d6" stroke-width="2.4" stroke-dasharray="8.8 4.3"/>
</g>
<rect x="61.5" y="424.1" width="605.7" height="172.5" fill="none" stroke="#1a1a1a" stroke-width="1.3"/>
<line x1="158.0" y1="596.6" x2="158.0" y2="601.1" stroke="#1a1a1a" stroke-width="1.3"/>
<text x="158.0" y="617.9" text-anchor="middle" font-size="17.2" textLength="85" lengthAdjust="spacingAndGlyphs">75360800</text>
<line x1="279.08" y1="596.6" x2="279.08" y2="601.1" stroke="#1a1a1a" stroke-width="1.3"/>
<text x="279.08" y="617.9" text-anchor="middle" font-size="17.2" textLength="85" lengthAdjust="spacingAndGlyphs">75361600</text>
<line x1="400.15999999999997" y1="596.6" x2="400.15999999999997" y2="601.1" stroke="#1a1a1a" stroke-width="1.3"/>
<text x="400.15999999999997" y="617.9" text-anchor="middle" font-size="17.2" textLength="85" lengthAdjust="spacingAndGlyphs">75362400</text>
<line x1="521.24" y1="596.6" x2="521.24" y2="601.1" stroke="#1a1a1a" stroke-width="1.3"/>
<text x="521.24" y="617.9" text-anchor="middle" font-size="17.2" textLength="85" lengthAdjust="spacingAndGlyphs">75363200</text>
<line x1="642.3199999999999" y1="596.6" x2="642.3199999999999" y2="601.1" stroke="#1a1a1a" stroke-width="1.3"/>
<text x="642.3199999999999" y="617.9" text-anchor="middle" font-size="17.2" textLength="85" lengthAdjust="spacingAndGlyphs">75364000</text>
<line x1="57.1" y1="447.2" x2="61.5" y2="447.2" stroke="#1a1a1a" stroke-width="1.3"/>
<text x="25.0" y="453.6" font-size="17.2" textLength="20.2" lengthAdjust="spacingAndGlyphs">10</text>
<text x="46.6" y="447.3" font-size="12.4" textLength="5.6" lengthAdjust="spacingAndGlyphs">3</text>
<line x1="57.1" y1="506" x2="61.5" y2="506" stroke="#1a1a1a" stroke-width="1.3"/>
<text x="25.0" y="512.4" font-size="17.2" textLength="20.2" lengthAdjust="spacingAndGlyphs">10</text>
<text x="46.6" y="506.1" font-size="12.4" textLength="5.6" lengthAdjust="spacingAndGlyphs">1</text>
<line x1="57.1" y1="564.8" x2="61.5" y2="564.8" stroke="#1a1a1a" stroke-width="1.3"/>
<text x="14.4" y="571.2" font-size="17.2" textLength="19.5" lengthAdjust="spacingAndGlyphs">10</text>
<text x="34.8" y="564.9" font-size="12.4" textLength="17" lengthAdjust="spacingAndGlyphs">−1</text>
<clipPath id="clipd"><rect x="61.5" y="635.6" width="605.7" height="172.69999999999993"/></clipPath>
<g clip-path="url(#clipd)">
<path d="M253.9,811.3 L253.9,801 L254.15,800.71 L254.4,800.41 L254.65,800.12 L254.9,799.82 L255.15,813.3 L255.4,813.3 L255.65,813.3 L255.9,813.3 L256.15,813.3 L256.4,813.3 L256.65,813.3 L256.9,813.3 L257.15,813.3 L257.4,813.3 L257.65,813.3 L257.9,813.3 L258.15,813.3 L258.4,813.3 L258.65,813.3 L258.9,813.3 L259.15,813.3 L259.4,813.3 L259.65,813.3 L259.9,793.97 L260.15,793.68 L260.4,793.39 L260.65,793.1 L260.9,792.81 L261.15,792.52 L261.4,792.23 L261.65,791.94 L261.9,791.65 L262.15,791.36 L262.4,813.3 L262.65,813.3 L262.9,813.3 L263.15,813.3 L263.4,813.3 L263.65,813.3 L263.9,813.3 L264.15,813.3 L264.4,813.3 L264.65,813.3 L264.9,813.3 L265.15,813.3 L265.4,813.3 L265.65,813.3 L265.9,813.3 L266.15,813.3 L266.4,813.3 L266.65,813.3 L266.9,813.3 L267.15,813.3 L267.4,813.3 L267.65,813.3 L267.9,813.3 L268.15,813.3 L268.4,813.3 L268.65,813.3 L268.9,813.3 L269.15,813.3 L269.4,813.3 L269.65,782.72 L269.9,782.43 L270.15,782.15 L270.4,781.86 L270.65,781.57 L270.9,781.29 L271.15,781 L271.4,780.72 L271.65,780.43 L271.9,780.15 L272.15,779.86 L272.4,779.58 L272.65,779.3 L272.9,779.01 L273.15,778.73 L273.4,778.44 L273.65,778.16 L273.9,777.88 L274.15,777.59 L274.4,777.31 L274.65,777.03 L274.9,776.74 L275.15,776.46 L275.4,776.18 L275.65,775.9 L275.9,775.61 L276.15,775.33 L276.4,775.05 L276.65,774.77 L276.9,774.48 L277.15,774.2 L277.4,773.92 L277.65,773.64 L277.9,773.36 L278.15,773.08 L278.4,772.8 L278.65,772.51 L278.9,772.23 L279.15,771.95 L279.4,771.67 L279.65,771.39 L279.9,771.11 L280.15,770.83 L280.4,770.55 L280.65,770.27 L280.9,769.99 L281.15,769.71 L281.4,769.43 L281.65,769.15 L281.9,768.88 L282.15,768.6 L282.4,768.32 L282.65,768.04 L282.9,767.76 L283.15,767.48 L283.4,767.2 L283.65,766.92 L283.9,766.65 L284.15,766.37 L284.4,766.09 L284.65,765.81 L284.9,765.53 L285.15,765.26 L285.4,764.98 L285.65,764.7 L285.9,764.43 L286.15,764.15 L286.4,763.87 L286.65,763.59 L286.9,763.32 L287.15,763.04 L287.4,762.76 L287.65,762.49 L287.9,762.21 L288.15,761.94 L288.4,761.66 L288.65,761.38 L288.9,761.11 L289.15,760.83 L289.4,760.56 L289.65,760.28 L289.9,760.01 L290.15,759.73 L290.4,759.46 L290.65,759.18 L290.9,758.91 L291.15,758.63 L291.4,813.3 L291.65,813.3 L291.9,813.3 L292.15,813.3 L292.4,813.3 L292.65,813.3 L292.9,813.3 L293.15,813.3 L293.4,813.3 L293.65,813.3 L293.9,755.62 L294.15,755.35 L294.4,755.08 L294.65,754.81 L294.9,754.53 L295.15,754.26 L295.4,753.99 L295.65,753.72 L295.9,753.44 L296.15,753.17 L296.4,752.9 L296.65,752.63 L296.9,752.36 L297.15,752.09 L297.4,751.82 L297.65,751.54 L297.9,751.27 L298.15,751 L298.4,750.73 L298.65,813.3 L298.9,813.3 L299.15,813.3 L299.4,813.3 L299.65,813.3 L299.9,813.3 L300.15,813.3 L300.4,813.3 L300.65,813.3 L300.9,813.3 L301.15,749.3 L301.4,749.3 L301.65,749.3 L301.9,749.3 L302.15,749.3 L302.4,749.3 L302.65,749.3 L302.9,749.3 L303.15,749.3 L303.4,749.3 L303.65,749.3 L303.9,749.3 L304.15,749.3 L304.4,749.3 L304.65,749.3 L304.9,749.3 L305.15,749.3 L305.4,749.3 L305.65,749.3 L305.9,813.3 L306.15,813.3 L306.4,813.3 L306.65,813.3 L306.9,813.3 L307.15,813.3 L307.4,813.3 L307.65,813.3 L307.9,813.3 L308.15,813.3 L308.4,740.02 L308.65,739.75 L308.9,739.49 L309.15,739.22 L309.4,738.95 L309.65,738.69 L309.9,738.42 L310.15,738.16 L310.4,737.89 L310.65,737.62 L310.9,737.36 L311.15,737.09 L311.4,736.83 L311.65,736.56 L311.9,736.3 L312.15,736.03 L312.4,735.76 L312.65,735.5 L312.9,735.23 L313.15,734.97 L313.4,734.7 L313.65,734.44 L313.9,734.29 L314.15,734.29 L314.4,734.29 L314.65,734.29 L314.9,734.29 L315.15,734.29 L315.4,734.29 L315.65,732.31 L315.9,732.05 L316.15,731.78 L316.4,731.52 L316.65,731.25 L316.9,730.99 L317.15,730.72 L317.4,730.46 L317.65,730.37 L317.9,730.37 L318.15,729.67 L318.4,729.4 L318.65,729.14 L318.9,728.88 L319.15,728.61 L319.4,728.35 L319.65,728.09 L319.9,727.82 L320.15,727.56 L320.4,727.32 L320.65,730.37 L320.9,730.37 L321.15,730.37 L321.4,730.37 L321.65,730.37 L321.9,730.37 L322.15,730.37 L322.4,730.37 L322.65,730.37 L322.9,724.68 L323.15,724.41 L323.4,724.15 L323.65,723.89 L323.9,723.63 L324.15,723.37 L324.4,723.11 L324.65,722.85 L324.9,722.59 L325.15,722.33 L325.4,727.32 L325.65,727.32 L325.9,727.32 L326.15,727.32 L326.4,727.32 L326.65,727.32 L326.9,727.32 L327.15,727.32 L327.4,727.32 L327.65,727.32 L327.9,719.49 L328.15,719.23 L328.4,718.98 L328.65,718.72 L328.9,718.46 L329.15,718.21 L329.4,717.95 L329.65,717.7 L329.9,717.44 L330.15,719.29 L330.4,719.29 L330.65,719.29 L330.9,719.29 L331.15,719.29 L331.4,719.29 L331.65,719.29 L331.9,719.29 L332.15,719.29 L332.4,719.29 L332.65,722.72 L332.9,722.72 L333.15,722.72 L333.4,722.72 L333.65,722.72 L333.9,722.72 L334.15,722.72 L334.4,722.72 L334.65,722.72 L334.9,722.72 L335.15,712.31 L335.4,712.31 L335.65,712.31 L335.9,712.31 L336.15,712.31 L336.4,712.31 L336.65,712.31 L336.9,712.31 L337.15,712.31 L337.4,711.43 L337.65,711.43 L337.9,711.43 L338.15,711.43 L338.4,711.43 L338.65,711.43 L338.9,711.43 L339.15,711.43 L339.4,711.43 L339.65,711.43 L339.9,709.08 L340.15,709.08 L340.4,709.08 L340.65,709.08 L340.9,709.08 L341.15,709.08 L341.4,709.08 L341.65,709.08 L341.9,709.08 L342.15,709.08 L342.4,705.18 L342.65,704.96 L342.9,704.73 L343.15,704.51 L343.4,704.29 L343.65,704.28 L343.9,704.28 L344.15,704.28 L344.4,704.28 L344.65,708.38 L344.9,708.38 L345.15,708.38 L345.4,708.38 L345.65,708.38 L345.9,708.38 L346.15,708.38 L346.4,708.38 L346.65,708.38 L346.9,708.38 L347.15,702.84 L347.4,702.84 L347.65,702.84 L347.9,702.84 L348.15,702.84 L348.4,702.84 L348.65,702.84 L348.9,702.84 L349.15,702.84 L349.4,702.84 L349.65,699.62 L349.9,699.62 L350.15,699.62 L350.4,699.62 L350.65,699.62 L350.9,699.62 L351.15,699.62 L351.4,699.62 L351.65,699.62 L351.9,698.58 L352.15,698.58 L352.4,698.58 L352.65,698.58 L352.9,698.58 L353.15,698.58 L353.4,698.58 L353.65,698.58 L353.9,698.58 L354.15,698.58 L354.4,693.75 L354.65,693.48 L354.9,693.21 L355.15,692.94 L355.4,692.71 L355.65,692.71 L355.9,692.71 L356.15,692.71 L356.4,692.71 L356.65,692.71 L356.9,690.98 L357.15,690.89 L357.4,690.89 L357.65,690.89 L357.9,690.89 L358.15,690.89 L358.4,690.89 L358.65,690.89 L358.9,690.89 L359.15,690.89 L359.4,687.87 L359.65,687.53 L359.9,687.19 L360.15,686.84 L360.4,686.48 L360.65,686.12 L360.9,685.75 L361.15,685.48 L361.4,685.48 L361.65,684.6 L361.9,684.2 L362.15,683.79 L362.4,683.38 L362.65,682.96 L362.9,682.52 L363.15,682.06 L363.4,681.56 L363.65,681.42 L363.9,681.42 L364.15,679.9 L364.4,679.29 L364.65,678.67 L364.9,678.03 L365.15,677.92 L365.4,677.92 L365.65,677.92 L365.9,677.92 L366.15,677.92 L366.4,677.92 L366.65,673.28 L366.9,672.59 L367.15,671.92 L367.4,671.25 L367.65,671.04 L367.9,671.04 L368.15,671.04 L368.4,671.04 L368.65,671.04 L368.9,667.55 L369.15,666.93 L369.4,666.29 L369.65,665.65 L369.9,665 L370.15,664.35 L370.4,663.7 L370.65,663.67 L370.9,663.67 L371.15,663.67 L371.4,661.16 L371.65,660.56 L371.9,659.97 L372.15,659.41 L372.4,658.88 L372.65,658.38 L372.9,658.38 L373.15,658.38 L373.4,658.38 L373.65,658.38 L373.9,656.4 L374.15,656.15 L374.4,655.92 L374.65,655.7 L374.9,655.49 L375.15,655.27 L375.4,655.09 L375.65,655.09 L375.9,655.09 L376.15,654.48 L376.4,654.3 L376.65,654.12 L376.9,653.96 L377.15,653.8 L377.4,653.66 L377.65,653.62 L377.9,653.62 L378.15,653.62 L378.4,653.62 L378.65,653.1 L378.9,653.03 L379.15,652.98 L379.4,652.93 L379.65,652.91 L379.9,652.9 L380.15,652.91 L380.4,652.96 L380.65,653.03 L380.9,653.12 L381.15,654.23 L381.4,654.23 L381.65,654.23 L381.9,654.23 L382.15,654.23 L382.4,654.23 L382.65,654.31 L382.9,654.53 L383.15,654.77 L383.4,656.22 L383.65,656.22 L383.9,656.22 L384.15,656.22 L384.4,656.22 L384.65,656.27 L384.9,656.52 L385.15,656.77 L385.4,657.01 L385.65,657.24 L385.9,658.63 L386.15,658.63 L386.4,658.63 L386.65,658.63 L386.9,658.63 L387.15,658.83 L387.4,659.13 L387.65,659.43 L387.9,659.74 L388.15,660.05 L388.4,661.79 L388.65,661.79 L388.9,661.79 L389.15,661.79 L389.4,661.79 L389.65,662.01 L389.9,662.35 L390.15,662.69 L390.4,663.02 L390.65,665.09 L390.9,665.09 L391.15,665.09 L391.4,665.09 L391.65,665.09 L391.9,665.09 L392.15,665.38 L392.4,665.71 L392.65,666.03 L392.9,666.35 L393.15,668.24 L393.4,668.24 L393.65,668.24 L393.9,668.24 L394.15,668.24 L394.4,668.28 L394.65,668.62 L394.9,668.95 L395.15,669.29 L395.4,669.63 L395.65,669.97 L395.9,670.3 L396.15,670.64 L396.4,670.98 L396.65,671.31 L396.9,671.65 L397.15,671.98 L397.4,672.31 L397.65,672.63 L397.9,672.95 L398.15,673.88 L398.4,673.88 L398.65,673.88 L398.9,674.18 L399.15,674.47 L399.4,674.75 L399.65,675.03 L399.9,675.3 L400.15,675.56 L400.4,676.8 L400.65,676.8 L400.9,676.8 L401.15,676.8 L401.4,676.8 L401.65,676.96 L401.9,677.17 L402.15,677.39 L402.4,677.59 L402.65,677.8 L402.9,679.23 L403.15,679.23 L403.4,679.23 L403.65,679.23 L403.9,679.23 L404.15,679.23 L404.4,679.23 L404.65,679.32 L404.9,679.5 L405.15,679.68 L405.4,681.23 L405.65,681.23 L405.9,681.23 L406.15,681.23 L406.4,681.23 L406.65,681.23 L406.9,681.23 L407.15,681.23 L407.4,681.23 L407.65,681.37 L407.9,681.54 L408.15,681.7 L408.4,681.87 L408.65,682.03 L408.9,682.19 L409.15,682.36 L409.4,682.52 L409.65,682.68 L409.9,682.84 L410.15,684.37 L410.4,684.37 L410.65,684.37 L410.9,684.37 L411.15,684.37 L411.4,684.37 L411.65,684.37 L411.9,684.37 L412.15,684.37 L412.4,684.38 L412.65,686.96 L412.9,686.96 L413.15,686.96 L413.4,686.96 L413.65,686.96 L413.9,686.96 L414.15,686.96 L414.4,686.96 L414.65,686.96 L414.9,685.84 L415.15,685.98 L415.4,686.12 L415.65,686.26 L415.9,686.4 L416.15,686.54 L416.4,686.68 L416.65,686.81 L416.9,686.95 L417.15,687.08 L417.4,690.33 L417.65,690.33 L417.9,690.33 L418.15,690.33 L418.4,690.33 L418.65,690.33 L418.9,690.33 L419.15,690.33 L419.4,690.33 L419.65,690.33 L419.9,688.5 L420.15,688.62 L420.4,688.75 L420.65,688.87 L420.9,688.99 L421.15,689.12 L421.4,689.24 L421.65,689.36 L421.9,689.48 L422.15,696.71 L422.4,696.71 L422.65,696.71 L422.9,696.71 L423.15,696.71 L423.4,696.71 L423.65,696.71 L423.9,696.71 L424.15,696.71 L424.4,696.71 L424.65,690.78 L424.9,690.9 L425.15,691.01 L425.4,691.13 L425.65,691.24 L425.9,691.36 L426.15,691.47 L426.4,691.58 L426.65,691.69 L426.9,691.8 L427.15,691.91 L427.4,692.02 L427.65,692.13 L427.9,692.24 L428.15,692.35 L428.4,692.45 L428.65,692.56 L428.9,692.67 L429.15,692.77 L429.4,692.88 L429.65,692.98 L429.9,693.08 L430.15,693.19 L430.4,693.29 L430.65,693.39 L430.9,693.49 L431.15,693.59 L431.4,693.69 L431.65,693.79 L431.9,693.88 L432.15,693.98 L432.4,694.08 L432.65,694.17 L432.9,694.27 L433.15,694.36 L433.4,694.46 L433.65,694.55 L433.9,694.64 L434.15,694.73 L434.4,697.61 L434.65,697.61 L434.9,697.61 L435.15,697.61 L435.4,697.61 L435.65,697.61 L435.9,697.61 L436.15,697.61 L436.4,697.61 L436.65,695.61 L436.9,695.69 L437.15,695.78 L437.4,695.86 L437.65,695.94 L437.9,696.03 L438.15,696.11 L438.4,696.19 L438.65,696.27 L438.9,696.35 L439.15,696.43 L439.4,696.51 L439.65,696.59 L439.9,696.67 L440.15,696.75 L440.4,696.83 L440.65,696.91 L440.9,696.98 L441.15,697.06 L441.4,697.14 L441.65,697.61 L441.9,697.61 L442.15,697.61 L442.4,697.61 L442.65,697.61 L442.9,697.61 L443.15,697.66 L443.4,697.73 L443.65,697.8 L443.9,697.87 L444.15,703.79 L444.4,703.79 L444.65,703.79 L444.9,703.79 L445.15,703.79 L445.4,703.79 L445.65,703.79 L445.9,703.79 L446.15,703.79 L446.4,699.26 L446.65,699.26 L446.9,699.26 L447.15,699.26 L447.4,699.26 L447.65,699.26 L447.9,699.26 L448.15,699.26 L448.4,699.26 L448.65,699.26 L448.9,699.26 L449.15,699.29 L449.4,699.35 L449.65,699.41 L449.9,699.48 L450.15,699.54 L450.4,699.6 L450.65,699.66 L450.9,699.72 L451.15,699.78 L451.4,701.13 L451.65,701.13 L451.9,701.13 L452.15,701.13 L452.4,701.13 L452.65,701.13 L452.9,701.13 L453.15,701.13 L453.4,701.13 L453.65,701.96 L453.9,701.96 L454.15,701.96 L454.4,701.96 L454.65,701.96 L454.9,701.96 L455.15,701.96 L455.4,701.96 L455.65,701.96 L455.9,701.96 L456.15,702.84 L456.4,702.84 L456.65,702.84 L456.9,702.84 L457.15,702.84 L457.4,702.84 L457.65,702.84 L457.9,702.84 L458.15,702.84 L458.4,702.84 L458.65,701.45 L458.9,701.5 L459.15,701.55 L459.4,701.61 L459.65,701.66 L459.9,701.71 L460.15,701.76 L460.4,701.81 L460.65,701.86 L460.9,701.91 L461.15,701.96 L461.4,702.01 L461.65,702.06 L461.9,702.11 L462.15,702.16 L462.4,702.21 L462.65,702.26 L462.9,702.31 L463.15,702.36 L463.4,708.38 L463.65,708.38 L463.9,708.38 L464.15,708.38 L464.4,708.38 L464.65,708.38 L464.9,708.38 L465.15,708.38 L465.4,708.38 L465.65,708.38 L465.9,702.89 L466.15,702.93 L466.4,702.98 L466.65,703.03 L466.9,703.08 L467.15,703.12 L467.4,703.17 L467.65,703.22 L467.9,703.27 L468.15,708.38 L468.4,708.38 L468.65,708.38 L468.9,708.38 L469.15,708.38 L469.4,708.38 L469.65,708.38 L469.9,708.38 L470.15,708.38 L470.4,708.38 L470.65,707.72 L470.9,707.72 L471.15,707.72 L471.4,707.72 L471.65,707.72 L471.9,707.72 L472.15,707.72 L472.4,707.72 L472.65,707.72 L472.9,707.72 L473.15,705.89 L473.4,705.89 L473.65,705.89 L473.9,705.89 L474.15,705.89 L474.4,705.89 L474.65,705.89 L474.9,705.89 L475.15,705.89 L475.4,706.47 L475.65,706.47 L475.9,706.47 L476.15,706.47 L476.4,706.47 L476.65,706.47 L476.9,706.47 L477.15,706.47 L477.4,706.47 L477.65,706.47 L477.9,707.08 L478.15,707.08 L478.4,707.08 L478.65,707.08 L478.9,707.08 L479.15,707.08 L479.4,707.08 L479.65,707.08 L479.9,707.08 L480.15,707.08 L480.4,708.38 L480.65,708.38 L480.9,708.38 L481.15,708.38 L481.4,708.38 L481.65,708.38 L481.9,708.38 L482.15,708.38 L482.4,708.38 L482.65,708.38 L482.9,708.38 L483.15,708.38 L483.4,708.38 L483.65,708.38 L483.9,708.38 L484.15,708.38 L484.4,708.38 L484.65,708.38 L484.9,708.38 L485.15,708.38 L485.4,708.38 L485.65,708.38 L485.9,708.38 L486.15,708.38 L486.4,708.38 L486.65,708.38 L486.9,708.38 L487.15,708.38 L487.4,708.38 L487.65,709.08 L487.9,709.08 L488.15,709.08 L488.4,709.08 L488.65,709.08 L488.9,709.08 L489.15,709.08 L489.4,709.08 L489.65,709.08 L489.9,709.08 L490.15,709.08 L490.4,709.08 L490.65,709.08 L490.9,709.08 L491.15,709.08 L491.4,709.08 L491.65,709.08 L491.9,709.08 L492.15,709.08 L492.4,709.08 L492.65,709.08 L492.9,709.08 L493.15,709.08 L493.4,709.08 L493.65,709.08 L493.9,709.08 L494.15,709.08 L494.4,709.08 L494.65,709.08 L494.9,714.27 L495.15,714.27 L495.4,714.27 L495.65,714.27 L495.9,714.27 L496.15,714.27 L496.4,714.27 L496.65,714.27 L496.9,714.27 L497.15,714.27 L497.4,710.6 L497.65,710.6 L497.9,710.6 L498.15,710.6 L498.4,710.6 L498.65,710.6 L498.9,710.6 L499.15,710.6 L499.4,710.6 L499.65,717.85 L499.9,717.85 L500.15,717.85 L500.4,717.85 L500.65,717.85 L500.9,717.85 L501.15,717.85 L501.4,717.85 L501.65,717.85 L501.9,717.85 L502.15,715.36 L502.4,715.36 L502.65,715.36 L502.9,715.36 L503.15,715.36 L503.4,715.36 L503.65,715.36 L503.9,715.36 L504.15,715.36 L504.4,715.36 L504.65,715.36 L504.9,715.36 L505.15,715.36 L505.4,715.36 L505.65,715.36 L505.9,715.36 L506.15,715.36 L506.4,715.36 L506.65,715.36 L506.9,717.85 L507.15,717.85 L507.4,717.85 L507.65,717.85 L507.9,717.85 L508.15,717.85 L508.4,717.85 L508.65,717.85 L508.9,717.85 L509.15,717.85 L509.4,719.29 L509.65,719.29 L509.9,719.29 L510.15,719.29 L510.4,719.29 L510.65,719.29 L510.9,719.29 L511.15,719.29 L511.4,719.29 L511.65,719.29 L511.9,722.72 L512.15,722.72 L512.4,722.72 L512.65,722.72 L512.9,722.72 L513.15,722.72 L513.4,722.72 L513.65,722.72 L513.9,722.72 L514.15,716.55 L514.4,716.55 L514.65,716.55 L514.9,716.55 L515.15,716.55 L515.4,716.55 L515.65,716.55 L515.9,716.55 L516.15,716.55 L516.4,716.55 L516.65,722.72 L516.9,722.72 L517.15,722.72 L517.4,722.72 L517.65,722.72 L517.9,722.72 L518.15,722.72 L518.4,722.72 L518.65,722.72 L518.9,722.72 L519.15,722.72 L519.4,722.72 L519.65,722.72 L519.9,722.72 L520.15,722.72 L520.4,722.72 L520.65,722.72 L520.9,722.72 L521.15,722.72 L521.4,722.72 L521.65,722.72 L521.9,722.72 L522.15,722.72 L522.4,722.72 L522.65,722.72 L522.9,722.72 L523.15,722.72 L523.4,722.72 L523.65,722.72 L523.9,719.29 L524.15,719.29 L524.4,719.29 L524.65,719.29 L524.9,719.29 L525.15,719.29 L525.4,719.29 L525.65,719.29 L525.9,719.29 L526.15,719.29 L526.4,739.83 L526.65,739.83 L526.9,739.83 L527.15,739.83 L527.4,739.83 L527.65,739.83 L527.9,739.83 L528.15,739.83 L528.4,739.83 L528.65,739.83 L528.9,719.29 L529.15,719.29 L529.4,719.29 L529.65,719.29 L529.9,719.29 L530.15,719.29 L530.4,719.29 L530.65,719.29 L530.9,719.29 L531.15,719.29 L531.4,719.29 L531.65,719.29 L531.9,719.29 L532.15,719.29 L532.4,719.29 L532.65,719.29 L532.9,719.29 L533.15,719.29 L533.4,719.29 L533.65,722.72 L533.9,722.72 L534.15,722.72 L534.4,722.72 L534.65,722.72 L534.9,722.72 L535.15,722.72 L535.4,722.72 L535.65,722.72 L535.9,722.72 L536.15,716.84 L536.4,716.89 L536.65,716.94 L536.9,716.98 L537.15,717.03 L537.4,717.08 L537.65,717.13 L537.9,717.17 L538.15,717.22 L538.4,722.72 L538.65,722.72 L538.9,722.72 L539.15,722.72 L539.4,722.72 L539.65,722.72 L539.9,722.72 L540.15,722.72 L540.4,722.72 L540.65,722.72 L540.9,722.72 L541.15,722.72 L541.4,722.72 L541.65,722.72 L541.9,722.72 L542.15,722.72 L542.4,722.72 L542.65,722.72 L542.9,722.72 L543.15,722.72 L543.4,730.37 L543.65,730.37 L543.9,730.37 L544.15,730.37 L544.4,730.37 L544.65,730.37 L544.9,730.37 L545.15,730.37 L545.4,730.37 L545.65,724.83 L545.9,724.83 L546.15,724.83 L546.4,724.83 L546.65,724.83 L546.9,724.83 L547.15,724.83 L547.4,724.83 L547.65,724.83 L547.9,724.83 L548.15,722.72 L548.4,722.72 L548.65,722.72 L548.9,722.72 L549.15,722.72 L549.4,722.72 L549.65,722.72 L549.9,722.72 L550.15,722.72 L550.4,722.72 L550.65,724.83 L550.9,724.83 L551.15,724.83 L551.4,724.83 L551.65,724.83 L551.9,724.83 L552.15,724.83 L552.4,724.83 L552.65,724.83 L552.9,720.14 L553.15,720.2 L553.4,720.25 L553.65,720.3 L553.9,720.35 L554.15,720.4 L554.4,720.45 L554.65,720.51 L554.9,720.56 L555.15,720.61 L555.4,724.83 L555.65,724.83 L555.9,724.83 L556.15,724.83 L556.4,724.83 L556.65,724.83 L556.9,724.83 L557.15,724.83 L557.4,724.83 L557.65,724.83 L557.9,721.19 L558.15,721.24 L558.4,721.29 L558.65,721.35 L558.9,721.4 L559.15,721.45 L559.4,721.5 L559.65,721.56 L559.9,721.61 L560.15,721.66 L560.4,721.72 L560.65,721.77 L560.9,721.82 L561.15,721.88 L561.4,721.93 L561.65,721.98 L561.9,722.04 L562.15,722.09 L562.4,722.14 L562.65,739.83 L562.9,739.83 L563.15,739.83 L563.4,739.83 L563.65,739.83 L563.9,739.83 L564.15,739.83 L564.4,739.83 L564.65,739.83 L564.9,739.83 L565.15,722.73 L565.4,722.78 L565.65,722.84 L565.9,722.89 L566.15,722.94 L566.4,723 L566.65,723.05 L566.9,723.1 L567.15,723.16 L567.4,723.21 L567.65,723.27 L567.9,723.32 L568.15,723.37 L568.4,723.43 L568.65,723.48 L568.9,723.53 L569.15,723.59 L569.4,723.64 L569.65,723.7 L569.9,723.75 L570.15,723.8 L570.4,723.86 L570.65,723.91 L570.9,723.96 L571.15,724.02 L571.4,724.07 L571.65,724.13 L571.9,724.18 L572.15,724.23 L572.4,724.29 L572.65,724.34 L572.9,724.4 L573.15,724.45 L573.4,724.5 L573.65,724.56 L573.9,724.61 L574.15,724.66 L574.4,724.72 L574.65,724.77 L574.9,734.29 L575.15,734.29 L575.4,734.29 L575.65,734.29 L575.9,734.29 L576.15,734.29 L576.4,734.29 L576.65,734.29 L576.9,734.29 L577.15,725.31 L577.4,725.36 L577.65,725.42 L577.9,725.47 L578.15,725.52 L578.4,725.58 L578.65,725.63 L578.9,725.69 L579.15,725.74 L579.4,725.79 L579.65,725.85 L579.9,725.9 L580.15,725.96 L580.4,726.01 L580.65,726.06 L580.9,726.12 L581.15,726.17 L581.4,726.23 L581.65,726.28 L581.9,726.34 L582.15,730.37 L582.4,730.37 L582.65,730.37 L582.9,730.37 L583.15,730.37 L583.4,730.37 L583.65,730.37 L583.9,730.37 L584.15,730.37 L584.4,727.32 L584.65,727.32 L584.9,727.32 L585.15,727.32 L585.4,727.32 L585.65,727.32 L585.9,727.32 L586.15,727.32 L586.4,727.32 L586.65,727.38 L586.9,727.43 L587.15,727.49 L587.4,727.54 L587.65,727.6 L587.9,727.65 L588.15,727.71 L588.4,727.76 L588.65,727.82 L588.9,727.87 L589.15,727.93 L589.4,727.98 L589.65,728.04 L589.9,728.09 L590.15,728.15 L590.4,728.21 L590.65,728.26 L590.9,728.32 L591.15,728.37 L591.4,728.43 L591.65,728.48 L591.9,728.54 L592.15,728.59 L592.4,728.65 L592.65,728.7 L592.9,728.76 L593.15,728.82 L593.4,728.87 L593.65,728.93 L593.9,728.98 L594.15,729.04 L594.4,729.09 L594.65,729.15 L594.9,729.2 L595.15,729.26 L595.4,729.31 L595.65,729.37 L595.9,729.42 L596.15,729.48 L596.4,729.53 L596.65,749.3 L596.9,749.3 L597.15,749.3 L597.4,749.3 L597.65,749.3 L597.9,749.3 L598.15,749.3 L598.4,749.3 L598.65,749.3 L598.9,739.83 L599.15,739.83 L599.4,739.83 L599.65,739.83 L599.9,739.83 L600.15,739.83 L600.4,739.83 L600.65,739.83 L600.9,739.83 L601.15,739.83 L601.4,739.83 L601.65,739.83 L601.9,739.83 L602.15,739.83 L602.4,739.83 L602.65,739.83 L602.9,739.83 L603.15,739.83 L603.4,739.83 L603.65,739.83 L603.9,731.18 L604.15,731.23 L604.4,731.28 L604.65,731.34 L604.9,731.39 L605.15,731.45 L605.4,731.5 L605.65,731.55 L605.9,731.61 L606.15,731.66 L606.4,734.29 L606.65,734.29 L606.9,734.29 L607.15,734.29 L607.4,734.29 L607.65,734.29 L607.9,734.29 L608.15,734.29 L608.4,734.29 L608.65,734.29 L608.9,734.29 L609.15,734.29 L609.4,734.29 L609.65,734.29 L609.9,734.29 L610.15,734.29 L610.4,734.29 L610.65,734.29 L610.9,734.29 L611.15,732.71 L611.4,732.77 L611.65,732.82 L611.9,732.87 L612.15,732.92 L612.4,732.97 L612.65,733.02 L612.9,733.07 L613.15,733.13 L613.4,733.18 L613.65,739.83 L613.9,739.83 L614.15,739.83 L614.4,739.83 L614.65,739.83 L614.9,739.83 L615.15,739.83 L615.4,739.83 L615.65,739.83 L615.9,734.29 L616.15,734.29 L616.4,734.29 L616.65,734.29 L616.9,734.29 L617.15,734.29 L617.4,734.29 L617.65,734.29 L617.9,734.29 L618.15,734.29 L618.4,734.18 L618.65,734.23 L618.9,734.28 L619.15,734.33 L619.4,734.37 L619.65,734.42 L619.9,734.47 L620.15,734.52 L620.4,734.57 L620.65,734.62 L620.9,734.67 L621.15,734.72 L621.4,734.77 L621.65,734.81 L621.9,734.86 L622.15,734.91 L622.4,734.96 L622.65,735.01 L622.9,735.06 L623.15,735.11 L623.4,735.16 L623.65,735.2 L623.9,735.25 L624.15,735.3 L624.4,735.35 L624.65,735.4 L624.9,735.45 L625.15,735.5 L625.4,735.54 L625.65,735.59 L625.9,735.64 L626.15,735.69 L626.4,735.74 L626.65,735.79 L626.9,735.83 L627.15,735.88 L627.4,735.93 L627.65,735.98 L627.9,736.03 L628.15,736.08 L628.4,736.13 L628.65,736.17 L628.9,736.22 L629.15,736.27 L629.4,736.32 L629.65,736.37 L629.9,736.42 L630.15,736.47 L630.4,736.52 L630.65,736.56 L630.9,736.61 L631.15,736.66 L631.4,736.71 L631.65,736.76 L631.9,736.81 L632.15,736.86 L632.4,736.91 L632.65,736.96 L632.9,737.01 L633.15,737.06 L633.4,737.1 L633.65,737.15 L633.9,737.2 L634.15,737.25 L634.4,737.3 L634.65,737.35 L634.9,737.4 L635.15,737.45 L635.4,737.5 L635.65,737.55 L635.9,737.6 L636.15,737.65 L636.4,737.7 L636.65,737.75 L636.9,737.8 L637.15,737.85 L637.4,737.9 L637.65,737.95 L637.9,738.01 L638.15,738.06 L638.4,738.11 L638.65,738.16 L638.9,738.21 L639.15,738.26 L639.4,738.31 L639.65,738.36 L639.9,738.41 L640.15,749.3 L640.4,749.3 L640.65,749.3 L640.9,749.3 L641.15,749.3 L641.4,749.3 L641.65,749.3 L641.9,749.3 L642.15,749.3 L642.4,749.3 L642.65,749.3 L642.9,749.3 L643.15,749.3 L643.4,749.3 L643.65,749.3 L643.9,749.3 L644.15,749.3 L644.4,749.3 L644.65,749.3 L644.9,749.3 L645.15,749.3 L645.4,749.3 L645.65,749.3 L645.9,749.3 L646.15,749.3 L646.4,749.3 L646.65,749.3 L646.9,749.3 L647.15,749.3 L647.4,749.3 L647.65,749.3 L647.9,749.3 L648.15,749.3 L648.4,749.3 L648.65,749.3 L648.9,749.3 L649.15,749.3 L649.4,749.3 L649.65,749.3 L649.9,813.3 L650.15,813.3 L650.4,813.3 L650.65,813.3 L650.9,813.3 L651.15,813.3 L651.4,813.3 L651.65,813.3 L651.9,813.3 L652.15,813.3 L652.4,741.11 L652.65,741.16 L652.9,741.22 L653.15,741.27 L653.4,741.33 L653.65,741.39 L653.9,741.44 L654.15,741.5 L654.4,741.55 L654.65,741.61 L654.9,741.67 L655.15,741.72 L655.4,741.78 L655.65,741.84 L655.9,741.89 L656.15,741.95 L656.4,742 L656.65,742.06 L656.9,742.12 L657.15,742.17 L657.4,742.23 L657.65,742.29 L657.9,742.35 L658.15,742.4 L658.4,742.46 L658.65,742.52 L658.9,742.57 L659.15,742.63 L659.4,742.69 L659.65,742.75 L659.9,742.8 L660.15,742.86 L660.4,742.92 L660.65,742.98 L660.9,743.03 L661.15,743.09 L661.4,743.15 L661.65,743.21 L661.9,743.26 L662.15,743.32 L662.4,743.38 L662.65,743.44 L662.9,743.49 L663.15,743.55 L663.4,743.61 L663.65,743.67 L663.9,743.73 L664.15,743.79 L664.4,743.84 L664.65,743.9 L664.9,743.96 L665.15,744.02 L665.4,744.08 L665.65,744.14 L665.9,744.19 L666.15,744.25 L666.4,744.31 L666.65,744.37 L666.9,744.43 L667.15,744.49 L667.15,811.3 Z" fill="#cdcdcd" stroke="none"/>
<path d="M61.3,814.3 L61.3,749.3 L63.72,749.3 L63.72,814.3 L66.14,814.3 L66.14,814.3 L68.56,814.3 L68.56,814.3 L70.99,814.3 L70.99,814.3 L73.41,814.3 L73.41,749.3 L75.83,749.3 L75.83,749.3 L78.25,749.3 L78.25,814.3 L80.67,814.3 L80.67,749.3 L83.09,749.3 L83.09,734.29 L85.52,734.29 L85.52,749.3 L87.94,749.3 L87.94,814.3 L90.36,814.3 L90.36,749.3 L92.78,749.3 L92.78,814.3 L95.2,814.3 L95.2,749.3 L97.62,749.3 L97.62,814.3 L100.05,814.3 L100.05,739.83 L102.47,739.83 L102.47,749.3 L104.89,749.3 L104.89,749.3 L107.31,749.3 L107.31,734.29 L109.73,734.29 L109.73,734.29 L112.15,734.29 L112.15,730.37 L114.58,730.37 L114.58,727.32 L117,727.32 L117,814.3 L119.42,814.3 L119.42,734.29 L121.84,734.29 L121.84,749.3 L124.26,749.3 L124.26,814.3 L126.68,814.3 L126.68,749.3 L129.1,749.3 L129.1,749.3 L131.53,749.3 L131.53,749.3 L133.95,749.3 L133.95,749.3 L136.37,749.3 L136.37,814.3 L138.79,814.3 L138.79,814.3 L141.21,814.3 L141.21,749.3 L143.63,749.3 L143.63,739.83 L146.06,739.83 L146.06,749.3 L148.48,749.3 L148.48,814.3 L150.9,814.3 L150.9,814.3 L153.32,814.3 L153.32,814.3 L155.74,814.3 L155.74,749.3 L158.16,749.3 L158.16,749.3 L160.59,749.3 L160.59,749.3 L163.01,749.3 L163.01,814.3 L165.43,814.3 L165.43,814.3 L167.85,814.3 L167.85,814.3 L170.27,814.3 L170.27,739.83 L172.69,739.83 L172.69,749.3 L175.12,749.3 L175.12,749.3 L177.54,749.3 L177.54,814.3 L179.96,814.3 L179.96,749.3 L182.38,749.3 L182.38,814.3 L184.8,814.3 L184.8,814.3 L187.22,814.3 L187.22,814.3 L189.64,814.3 L189.64,749.3 L192.07,749.3 L192.07,814.3 L194.49,814.3 L194.49,814.3 L196.91,814.3 L196.91,814.3 L199.33,814.3 L199.33,749.3 L201.75,749.3 L201.75,749.3 L204.17,749.3 L204.17,814.3 L206.6,814.3 L206.6,749.3 L209.02,749.3 L209.02,749.3 L211.44,749.3 L211.44,814.3 L213.86,814.3 L213.86,749.3 L216.28,749.3 L216.28,749.3 L218.7,749.3 L218.7,814.3 L221.13,814.3 L221.13,749.3 L223.55,749.3 L223.55,739.83 L225.97,739.83 L225.97,749.3 L228.39,749.3 L228.39,749.3 L230.81,749.3 L230.81,734.29 L233.23,734.29 L233.23,749.3 L235.66,749.3 L235.66,749.3 L238.08,749.3 L238.08,814.3 L240.5,814.3 L240.5,749.3 L242.92,749.3 L242.92,749.3 L245.34,749.3 L245.34,734.29 L247.76,734.29 L247.76,814.3 L250.18,814.3 L250.18,814.3 L252.61,814.3 L252.61,739.83 L255.03,739.83 L255.03,814.3 L257.45,814.3 L257.45,814.3 L259.87,814.3 L259.87,739.83 L262.29,739.83 L262.29,814.3 L264.71,814.3 L264.71,814.3 L267.14,814.3 L267.14,814.3 L269.56,814.3 L269.56,749.3 L271.98,749.3 L271.98,749.3 L274.4,749.3 L274.4,749.3 L276.82,749.3 L276.82,749.3 L279.24,749.3 L279.24,739.83 L281.67,739.83 L281.67,739.83 L284.09,739.83 L284.09,749.3 L286.51,749.3 L286.51,739.83 L288.93,739.83 L288.93,749.3 L291.35,749.3 L291.35,814.3 L293.77,814.3 L293.77,739.83 L296.2,739.83 L296.2,734.29 L298.62,734.29 L298.62,814.3 L301.04,814.3 L301.04,749.3 L303.46,749.3 L303.46,749.3 L305.88,749.3 L305.88,814.3 L308.3,814.3 L308.3,730.37 L310.72,730.37 L310.72,730.37 L313.15,730.37 L313.15,734.29 L315.57,734.29 L315.57,730.37 L317.99,730.37 L317.99,727.32 L320.41,727.32 L320.41,730.37 L322.83,730.37 L322.83,720.9 L325.25,720.9 L325.25,727.32 L327.68,727.32 L327.68,715.36 L330.1,715.36 L330.1,719.29 L332.52,719.29 L332.52,722.72 L334.94,722.72 L334.94,712.31 L337.36,712.31 L337.36,711.43 L339.78,711.43 L339.78,709.08 L342.21,709.08 L342.21,704.28 L344.63,704.28 L344.63,708.38 L347.05,708.38 L347.05,702.84 L349.47,702.84 L349.47,699.62 L351.89,699.62 L351.89,698.58 L354.31,698.58 L354.31,692.71 L356.74,692.71 L356.74,690.89 L359.16,690.89 L359.16,685.48 L361.58,685.48 L361.58,681.42 L364,681.42 L364,677.92 L366.42,677.92 L366.42,671.04 L368.84,671.04 L368.84,663.67 L371.26,663.67 L371.26,658.38 L373.69,658.38 L373.69,655.09 L376.11,655.09 L376.11,653.62 L378.53,653.62 L378.53,651.96 L380.95,651.96 L380.95,654.23 L383.37,654.23 L383.37,656.22 L385.79,656.22 L385.79,658.63 L388.22,658.63 L388.22,661.79 L390.64,661.79 L390.64,665.09 L393.06,665.09 L393.06,668.24 L395.48,668.24 L395.48,669.97 L397.9,669.97 L397.9,673.88 L400.32,673.88 L400.32,676.8 L402.75,676.8 L402.75,679.23 L405.17,679.23 L405.17,681.23 L407.59,681.23 L407.59,681.32 L410.01,681.32 L410.01,684.37 L412.43,684.37 L412.43,686.96 L414.85,686.96 L414.85,685.35 L417.28,685.35 L417.28,690.33 L419.7,690.33 L419.7,686.82 L422.12,686.82 L422.12,696.71 L424.54,696.71 L424.54,689.45 L426.96,689.45 L426.96,690.89 L429.38,690.89 L429.38,691.87 L431.8,691.87 L431.8,692.93 L434.23,692.93 L434.23,697.61 L436.65,697.61 L436.65,693.84 L439.07,693.84 L439.07,694.32 L441.49,694.32 L441.49,697.61 L443.91,697.61 L443.91,703.79 L446.33,703.79 L446.33,699.26 L448.76,699.26 L448.76,699.26 L451.18,699.26 L451.18,701.13 L453.6,701.13 L453.6,701.96 L456.02,701.96 L456.02,702.84 L458.44,702.84 L458.44,700.35 L460.86,700.35 L460.86,701.54 L463.29,701.54 L463.29,708.38 L465.71,708.38 L465.71,699.62 L468.13,699.62 L468.13,708.38 L470.55,708.38 L470.55,707.72 L472.97,707.72 L472.97,705.89 L475.39,705.89 L475.39,706.47 L477.82,706.47 L477.82,707.08 L480.24,707.08 L480.24,708.38 L482.66,708.38 L482.66,708.38 L485.08,708.38 L485.08,708.38 L487.5,708.38 L487.5,709.08 L489.92,709.08 L489.92,709.08 L492.34,709.08 L492.34,709.08 L494.77,709.08 L494.77,714.27 L497.19,714.27 L497.19,710.6 L499.61,710.6 L499.61,717.85 L502.03,717.85 L502.03,715.36 L504.45,715.36 L504.45,715.36 L506.87,715.36 L506.87,717.85 L509.3,717.85 L509.3,719.29 L511.72,719.29 L511.72,722.72 L514.14,722.72 L514.14,716.55 L516.56,716.55 L516.56,722.72 L518.98,722.72 L518.98,722.72 L521.4,722.72 L521.4,722.72 L523.83,722.72 L523.83,719.29 L526.25,719.29 L526.25,739.83 L528.67,739.83 L528.67,719.29 L531.09,719.29 L531.09,719.29 L533.51,719.29 L533.51,722.72 L535.93,722.72 L535.93,716.55 L538.36,716.55 L538.36,722.72 L540.78,722.72 L540.78,722.72 L543.2,722.72 L543.2,730.37 L545.62,730.37 L545.62,724.83 L548.04,724.83 L548.04,722.72 L550.46,722.72 L550.46,724.83 L552.88,724.83 L552.88,716.55 L555.31,716.55 L555.31,724.83 L557.73,724.83 L557.73,720.9 L560.15,720.9 L560.15,717.85 L562.57,717.85 L562.57,739.83 L564.99,739.83 L564.99,719.29 L567.41,719.29 L567.41,719.29 L569.84,719.29 L569.84,722.72 L572.26,722.72 L572.26,722.72 L574.68,722.72 L574.68,734.29 L577.1,734.29 L577.1,722.72 L579.52,722.72 L579.52,720.9 L581.94,720.9 L581.94,730.37 L584.37,730.37 L584.37,727.32 L586.79,727.32 L586.79,722.72 L589.21,722.72 L589.21,719.29 L591.63,719.29 L591.63,727.32 L594.05,727.32 L594.05,727.32 L596.47,727.32 L596.47,749.3 L598.9,749.3 L598.9,739.83 L601.32,739.83 L601.32,739.83 L603.74,739.83 L603.74,724.83 L606.16,724.83 L606.16,734.29 L608.58,734.29 L608.58,734.29 L611,734.29 L611,724.83 L613.42,724.83 L613.42,739.83 L615.85,739.83 L615.85,734.29 L618.27,734.29 L618.27,730.37 L620.69,730.37 L620.69,734.29 L623.11,734.29 L623.11,734.29 L625.53,734.29 L625.53,734.29 L627.95,734.29 L627.95,727.32 L630.38,727.32 L630.38,730.37 L632.8,730.37 L632.8,730.37 L635.22,730.37 L635.22,734.29 L637.64,734.29 L637.64,734.29 L640.06,734.29 L640.06,749.3 L642.48,749.3 L642.48,749.3 L644.91,749.3 L644.91,749.3 L647.33,749.3 L647.33,749.3 L649.75,749.3 L649.75,814.3 L652.17,814.3 L652.17,734.29 L654.59,734.29 L654.59,734.29 L657.01,734.29 L657.01,730.37 L659.44,730.37 L659.44,727.32 L661.86,727.32 L661.86,724.83 L664.28,724.83 L664.28,724.83 L666.7,724.83 L666.7,724.83 L669.12,724.83 L669.12,749.3 L671.54,749.3 L671.54,814.3" fill="none" stroke="#000" stroke-opacity="0.75" stroke-width="2.5" stroke-linejoin="miter"/>
<path d="M253.9,801 L254.9,799.82 L255.9,798.65 L256.9,797.48 L257.9,796.31 L258.9,795.14 L259.9,793.97 L260.9,792.81 L261.9,791.65 L262.9,790.49 L263.9,789.33 L264.9,788.17 L265.9,787.02 L266.9,785.87 L267.9,784.72 L268.9,783.58 L269.9,782.43 L270.9,781.29 L271.9,780.15 L272.9,779.01 L273.9,777.88 L274.9,776.74 L275.9,775.61 L276.9,774.48 L277.9,773.36 L278.9,772.23 L279.9,771.11 L280.9,769.99 L281.9,768.88 L282.9,767.76 L283.9,766.65 L284.9,765.53 L285.9,764.43 L286.9,763.32 L287.9,762.21 L288.9,761.11 L289.9,760.01 L290.9,758.91 L291.9,757.81 L292.9,756.72 L293.9,755.62 L294.9,754.53 L295.9,753.44 L296.9,752.36 L297.9,751.27 L298.9,750.19 L299.9,749.11 L300.9,748.03 L301.9,746.96 L302.9,745.88 L303.9,744.81 L304.9,743.74 L305.9,742.68 L306.9,741.61 L307.9,740.55 L308.9,739.49 L309.9,738.42 L310.9,737.36 L311.9,736.3 L312.9,735.23 L313.9,734.17 L314.9,733.11 L315.9,732.05 L316.9,730.99 L317.9,729.93 L318.9,728.88 L319.9,727.82 L320.9,726.77 L321.9,725.72 L322.9,724.68 L323.9,723.63 L324.9,722.59 L325.9,721.55 L326.9,720.52 L327.9,719.49 L328.9,718.46 L329.9,717.44 L330.9,716.42 L331.9,715.41 L332.9,714.4 L333.9,713.4 L334.9,712.4 L335.9,711.41 L336.9,710.42 L337.9,709.44 L338.9,708.47 L339.9,707.5 L340.9,706.55 L341.9,705.63 L342.9,704.73 L343.9,703.85 L344.9,702.98 L345.9,702.11 L346.9,701.22 L347.9,700.32 L348.9,699.39 L349.9,698.43 L350.9,697.42 L351.9,696.37 L352.9,695.32 L353.9,694.28 L354.9,693.21 L355.9,692.12 L356.9,690.98 L357.9,689.79 L358.9,688.53 L359.9,687.19 L360.9,685.75 L361.9,684.2 L362.9,682.52 L363.9,680.48 L364.9,678.03 L365.9,675.34 L366.9,672.59 L367.9,669.96 L368.9,667.55 L369.9,665 L370.9,662.41 L371.9,659.97 L372.9,657.9 L373.9,656.4 L374.9,655.49 L375.9,654.67 L376.9,653.96 L377.9,653.4 L378.9,653.03 L379.9,652.9 L380.9,653.12 L381.9,653.7 L382.9,654.53 L383.9,655.51 L384.9,656.52 L385.9,657.48 L386.9,658.55 L387.9,659.74 L388.9,661.01 L389.9,662.35 L390.9,663.7 L391.9,665.05 L392.9,666.35 L393.9,667.62 L394.9,668.95 L395.9,670.3 L396.9,671.65 L397.9,672.95 L398.9,674.18 L399.9,675.3 L400.9,676.29 L401.9,677.17 L402.9,678 L403.9,678.77 L404.9,679.5 L405.9,680.2 L406.9,680.87 L407.9,681.54 L408.9,682.19 L409.9,682.84 L410.9,683.47 L411.9,684.08 L412.9,684.68 L413.9,685.27 L414.9,685.84 L415.9,686.4 L416.9,686.95 L417.9,687.48 L418.9,688 L419.9,688.5 L420.9,688.99 L421.9,689.48 L422.9,689.96 L423.9,690.44 L424.9,690.9 L425.9,691.36 L426.9,691.8 L427.9,692.24 L428.9,692.67 L429.9,693.08 L430.9,693.49 L431.9,693.88 L432.9,694.27 L433.9,694.64 L434.9,695 L435.9,695.35 L436.9,695.69 L437.9,696.03 L438.9,696.35 L439.9,696.67 L440.9,696.98 L441.9,697.29 L442.9,697.58 L443.9,697.87 L444.9,698.16 L445.9,698.43 L446.9,698.7 L447.9,698.97 L448.9,699.22 L449.9,699.48 L450.9,699.72 L451.9,699.96 L452.9,700.19 L453.9,700.42 L454.9,700.65 L455.9,700.87 L456.9,701.08 L457.9,701.29 L458.9,701.5 L459.9,701.71 L460.9,701.91 L461.9,702.11 L462.9,702.31 L463.9,702.5 L464.9,702.7 L465.9,702.89 L466.9,703.08 L467.9,703.27 L468.9,703.45 L469.9,703.64 L470.9,703.83 L471.9,704.02 L472.9,704.21 L473.9,704.39 L474.9,704.58 L475.9,704.77 L476.9,704.97 L477.9,705.16 L478.9,705.36 L479.9,705.55 L480.9,705.76 L481.9,705.96 L482.9,706.16 L483.9,706.37 L484.9,706.58 L485.9,706.79 L486.9,707 L487.9,707.21 L488.9,707.42 L489.9,707.63 L490.9,707.84 L491.9,708.05 L492.9,708.26 L493.9,708.47 L494.9,708.69 L495.9,708.9 L496.9,709.11 L497.9,709.32 L498.9,709.54 L499.9,709.75 L500.9,709.96 L501.9,710.17 L502.9,710.38 L503.9,710.59 L504.9,710.8 L505.9,711.01 L506.9,711.21 L507.9,711.42 L508.9,711.63 L509.9,711.83 L510.9,712.04 L511.9,712.24 L512.9,712.44 L513.9,712.64 L514.9,712.84 L515.9,713.04 L516.9,713.23 L517.9,713.43 L518.9,713.62 L519.9,713.81 L520.9,714 L521.9,714.19 L522.9,714.38 L523.9,714.56 L524.9,714.75 L525.9,714.94 L526.9,715.12 L527.9,715.31 L528.9,715.5 L529.9,715.68 L530.9,715.87 L531.9,716.05 L532.9,716.24 L533.9,716.42 L534.9,716.61 L535.9,716.8 L536.9,716.98 L537.9,717.17 L538.9,717.36 L539.9,717.55 L540.9,717.74 L541.9,717.94 L542.9,718.13 L543.9,718.32 L544.9,718.52 L545.9,718.72 L546.9,718.92 L547.9,719.12 L548.9,719.32 L549.9,719.53 L550.9,719.73 L551.9,719.94 L552.9,720.14 L553.9,720.35 L554.9,720.56 L555.9,720.77 L556.9,720.98 L557.9,721.19 L558.9,721.4 L559.9,721.61 L560.9,721.82 L561.9,722.04 L562.9,722.25 L563.9,722.46 L564.9,722.68 L565.9,722.89 L566.9,723.1 L567.9,723.32 L568.9,723.53 L569.9,723.75 L570.9,723.96 L571.9,724.18 L572.9,724.4 L573.9,724.61 L574.9,724.83 L575.9,725.04 L576.9,725.26 L577.9,725.47 L578.9,725.69 L579.9,725.9 L580.9,726.12 L581.9,726.34 L582.9,726.55 L583.9,726.77 L584.9,726.99 L585.9,727.21 L586.9,727.43 L587.9,727.65 L588.9,727.87 L589.9,728.09 L590.9,728.32 L591.9,728.54 L592.9,728.76 L593.9,728.98 L594.9,729.2 L595.9,729.42 L596.9,729.64 L597.9,729.87 L598.9,730.09 L599.9,730.3 L600.9,730.52 L601.9,730.74 L602.9,730.96 L603.9,731.18 L604.9,731.39 L605.9,731.61 L606.9,731.82 L607.9,732.03 L608.9,732.24 L609.9,732.45 L610.9,732.66 L611.9,732.87 L612.9,733.07 L613.9,733.28 L614.9,733.48 L615.9,733.68 L616.9,733.88 L617.9,734.08 L618.9,734.28 L619.9,734.47 L620.9,734.67 L621.9,734.86 L622.9,735.06 L623.9,735.25 L624.9,735.45 L625.9,735.64 L626.9,735.83 L627.9,736.03 L628.9,736.22 L629.9,736.42 L630.9,736.61 L631.9,736.81 L632.9,737.01 L633.9,737.2 L634.9,737.4 L635.9,737.6 L636.9,737.8 L637.9,738.01 L638.9,738.21 L639.9,738.41 L640.9,738.62 L641.9,738.83 L642.9,739.04 L643.9,739.25 L644.9,739.47 L645.9,739.68 L646.9,739.9 L647.9,740.12 L648.9,740.34 L649.9,740.55 L650.9,740.77 L651.9,741 L652.9,741.22 L653.9,741.44 L654.9,741.67 L655.9,741.89 L656.9,742.12 L657.9,742.35 L658.9,742.57 L659.9,742.8 L660.9,743.03 L661.9,743.26 L662.9,743.49 L663.9,743.73 L664.9,743.96 L665.9,744.19 L666.9,744.43" fill="none" stroke="rgb(205,10,10)" stroke-opacity="0.68" stroke-width="2.4" stroke-linejoin="round"/>
<line x1="379.9" y1="808.3" x2="379.9" y2="635.6" stroke="#d43f5c" stroke-width="2.4" stroke-dasharray="15.8 4 2.4 4"/>
<line x1="364.0" y1="808.3" x2="364.0" y2="635.6" stroke="#1a64d6" stroke-width="2.4" stroke-dasharray="8.8 4.3"/>
</g>
<rect x="61.5" y="635.6" width="605.7" height="172.7" fill="none" stroke="#1a1a1a" stroke-width="1.3"/>
<line x1="143.0" y1="808.3" x2="143.0" y2="812.8" stroke="#1a1a1a" stroke-width="1.3"/>
<text x="143.0" y="829.6" text-anchor="middle" font-size="17.2" textLength="85" lengthAdjust="spacingAndGlyphs">78228000</text>
<line x1="264.08" y1="808.3" x2="264.08" y2="812.8" stroke="#1a1a1a" stroke-width="1.3"/>
<text x="264.08" y="829.6" text-anchor="middle" font-size="17.2" textLength="85" lengthAdjust="spacingAndGlyphs">78228800</text>
<line x1="385.15999999999997" y1="808.3" x2="385.15999999999997" y2="812.8" stroke="#1a1a1a" stroke-width="1.3"/>
<text x="385.15999999999997" y="829.6" text-anchor="middle" font-size="17.2" textLength="85" lengthAdjust="spacingAndGlyphs">78229600</text>
<line x1="506.24" y1="808.3" x2="506.24" y2="812.8" stroke="#1a1a1a" stroke-width="1.3"/>
<text x="506.24" y="829.6" text-anchor="middle" font-size="17.2" textLength="85" lengthAdjust="spacingAndGlyphs">78230400</text>
<line x1="627.3199999999999" y1="808.3" x2="627.3199999999999" y2="812.8" stroke="#1a1a1a" stroke-width="1.3"/>
<text x="627.3199999999999" y="829.6" text-anchor="middle" font-size="17.2" textLength="85" lengthAdjust="spacingAndGlyphs">78231200</text>
<line x1="57.1" y1="686.4" x2="61.5" y2="686.4" stroke="#1a1a1a" stroke-width="1.3"/>
<text x="25.0" y="692.8" font-size="17.2" textLength="20.2" lengthAdjust="spacingAndGlyphs">10</text>
<text x="46.6" y="686.5" font-size="12.4" textLength="5.6" lengthAdjust="spacingAndGlyphs">2</text>
<line x1="57.1" y1="749.3" x2="61.5" y2="749.3" stroke="#1a1a1a" stroke-width="1.3"/>
<text x="25.0" y="755.7" font-size="17.2" textLength="20.2" lengthAdjust="spacingAndGlyphs">10</text>
<text x="46.6" y="749.4" font-size="12.4" textLength="5.6" lengthAdjust="spacingAndGlyphs">0</text>
<g opacity="0.999">
<text transform="translate(70.84,24.00) scale(1.1360,1)" font-size="20.3" fill="#000" stroke-width="0.16">A/q=263</text>
<text transform="translate(70.84,236.30) scale(1.1360,1)" font-size="20.3" fill="#000" stroke-width="0.16">A/q=226</text>
<text transform="translate(70.84,447.90) scale(1.1353,1)" font-size="20.3" fill="#000" stroke-width="0.16">A/q=245</text>
<text transform="translate(70.84,659.40) scale(1.1315,1)" font-size="20.3" fill="#000" stroke-width="0.16">A/q=264</text>
<text transform="translate(643.14,24.40) scale(0.8507,1)" font-size="21.0" fill="#000" stroke-width="0.17">a</text>
<text transform="translate(642.21,236.10) scale(1.0899,1)" font-size="21.0" fill="#000" stroke-width="0.17">b</text>
<text transform="translate(644.21,447.60) scale(0.9967,1)" font-size="21.0" fill="#000" stroke-width="0.17">c</text>
<text transform="translate(642.48,659.30) scale(1.0265,1)" font-size="21.0" fill="#000" stroke-width="0.17">d</text>
<text transform="translate(266.83,26.80) scale(1.0616,1)" font-size="12.6" fill="#cf3d5a" stroke-width="0.10">225</text>
<text transform="translate(291.06,33.60) scale(0.9048,1)" font-size="18.6" fill="#cf3d5a" stroke-width="0.15">AcF</text>
<text transform="translate(322.26,38.40) scale(1.0117,1)" font-size="12.6" fill="#cf3d5a" stroke-width="0.10">2</text>
<path d="M325.80,22.95H333.40M329.60,19.10V26.80" stroke="#cf3d5a" stroke-width="1.15" fill="none"/>
<text transform="translate(224.56,55.00) scale(1.0711,1)" font-size="18.5" fill="#cf3d5a" stroke-width="0.15">at 2000 revs</text>
<text transform="translate(454.83,26.50) scale(1.0616,1)" font-size="12.6" fill="#1a66d6" stroke-width="0.10">225</text>
<text transform="translate(479.10,33.30) scale(0.9138,1)" font-size="18.6" fill="#1a66d6" stroke-width="0.15">RaF</text>
<text transform="translate(511.57,38.10) scale(0.9942,1)" font-size="12.6" fill="#1a66d6" stroke-width="0.10">2</text>
<path d="M515.20,23.15H522.80M519.00,19.30V27.00" stroke="#1a66d6" stroke-width="1.15" fill="none"/>
<text transform="translate(454.66,54.80) scale(1.0721,1)" font-size="18.5" fill="#1a66d6" stroke-width="0.15">at 2000 revs</text>
<text transform="translate(275.40,236.10) scale(1.1086,1)" font-size="12.6" fill="#1a66d6" stroke-width="0.10">226</text>
<text transform="translate(299.33,242.90) scale(0.8934,1)" font-size="18.6" fill="#1a66d6" stroke-width="0.15">Ra</text>
<path d="M325.70,232.80H333.40M329.55,229.00V236.60" stroke="#1a66d6" stroke-width="1.15" fill="none"/>
<text transform="translate(224.46,262.50) scale(1.0721,1)" font-size="18.5" fill="#1a66d6" stroke-width="0.15">at 2000 revs</text>
<text transform="translate(424.52,236.10) scale(1.0733,1)" font-size="12.6" fill="#cf3d5a" stroke-width="0.10">226</text>
<text transform="translate(448.75,242.90) scale(0.9689,1)" font-size="18.6" fill="#cf3d5a" stroke-width="0.15">Ac</text>
<path d="M473.90,232.80H481.60M477.75,229.00V236.60" stroke="#cf3d5a" stroke-width="1.15" fill="none"/>
<text transform="translate(424.06,262.50) scale(1.0731,1)" font-size="18.5" fill="#cf3d5a" stroke-width="0.15">at 2000 revs</text>
<text transform="translate(265.60,447.50) scale(1.1086,1)" font-size="12.6" fill="#1a66d6" stroke-width="0.10">226</text>
<text transform="translate(289.40,454.30) scale(0.9138,1)" font-size="18.6" fill="#1a66d6" stroke-width="0.15">RaF</text>
<path d="M325.70,444.20H333.20M329.45,440.40V448.00" stroke="#1a66d6" stroke-width="1.15" fill="none"/>
<text transform="translate(224.46,474.40) scale(1.0721,1)" font-size="18.5" fill="#1a66d6" stroke-width="0.15">at 2000 revs</text>
<text transform="translate(424.21,447.50) scale(1.0935,1)" font-size="12.6" fill="#cf3d5a" stroke-width="0.10">226</text>
<text transform="translate(449.36,454.30) scale(0.9048,1)" font-size="18.6" fill="#cf3d5a" stroke-width="0.15">AcF</text>
<path d="M483.60,444.20H491.10M487.35,440.40V448.00" stroke="#cf3d5a" stroke-width="1.15" fill="none"/>
<text transform="translate(424.06,474.40) scale(1.0731,1)" font-size="18.5" fill="#cf3d5a" stroke-width="0.15">at 2000 revs</text>
<text transform="translate(265.60,661.80) scale(1.1086,1)" font-size="12.6" fill="#1a66d6" stroke-width="0.10">226</text>
<text transform="translate(289.40,668.60) scale(0.9138,1)" font-size="18.6" fill="#1a66d6" stroke-width="0.15">RaF</text>
<text transform="translate(321.87,673.40) scale(0.9942,1)" font-size="12.6" fill="#1a66d6" stroke-width="0.10">2</text>
<path d="M325.50,658.15H333.10M329.30,654.30V662.00" stroke="#1a66d6" stroke-width="1.15" fill="none"/>
<text transform="translate(224.46,689.90) scale(1.0721,1)" font-size="18.5" fill="#1a66d6" stroke-width="0.15">at 2000 revs</text>
<text transform="translate(455.01,661.80) scale(1.0935,1)" font-size="12.6" fill="#cf3d5a" stroke-width="0.10">226</text>
<text transform="translate(480.16,668.60) scale(0.9048,1)" font-size="18.6" fill="#cf3d5a" stroke-width="0.15">AcF</text>
<text transform="translate(511.36,673.40) scale(1.0117,1)" font-size="12.6" fill="#cf3d5a" stroke-width="0.10">2</text>
<path d="M515.00,658.15H522.60M518.80,654.30V662.00" stroke="#cf3d5a" stroke-width="1.15" fill="none"/>
<text transform="translate(454.66,689.90) scale(1.0721,1)" font-size="18.5" fill="#cf3d5a" stroke-width="0.15">at 2000 revs</text>
<text transform="translate(92.28,195.00) scale(1.0827,1)" font-size="17.9" fill="#000" stroke-width="0.14">78079200</text>
<text transform="translate(213.36,195.00) scale(1.0827,1)" font-size="17.9" fill="#000" stroke-width="0.14">78080000</text>
<text transform="translate(334.44,195.00) scale(1.0827,1)" font-size="17.9" fill="#000" stroke-width="0.14">78080800</text>
<text transform="translate(455.52,195.00) scale(1.0827,1)" font-size="17.9" fill="#000" stroke-width="0.14">78081600</text>
<text transform="translate(576.60,195.00) scale(1.0827,1)" font-size="17.9" fill="#000" stroke-width="0.14">78082400</text>
<text transform="translate(24.12,53.10) scale(1.1285,1)" font-size="17.5" fill="#000" stroke-width="0.14">10</text>
<text transform="translate(46.32,46.70) scale(0.9100,1)" font-size="12.8" fill="#000" stroke-width="0.10">2</text>
<text transform="translate(24.12,130.80) scale(1.1285,1)" font-size="17.5" fill="#000" stroke-width="0.14">10</text>
<text transform="translate(46.46,124.40) scale(0.8671,1)" font-size="12.8" fill="#000" stroke-width="0.10">0</text>
<text transform="translate(51.58,406.70) scale(1.0827,1)" font-size="17.9" fill="#000" stroke-width="0.14">72380000</text>
<text transform="translate(172.66,406.70) scale(1.0827,1)" font-size="17.9" fill="#000" stroke-width="0.14">72380800</text>
<text transform="translate(293.74,406.70) scale(1.0827,1)" font-size="17.9" fill="#000" stroke-width="0.14">72381600</text>
<text transform="translate(414.82,406.70) scale(1.0827,1)" font-size="17.9" fill="#000" stroke-width="0.14">72382400</text>
<text transform="translate(535.90,406.70) scale(1.0827,1)" font-size="17.9" fill="#000" stroke-width="0.14">72383200</text>
<text transform="translate(24.12,248.28) scale(1.1285,1)" font-size="17.5" fill="#000" stroke-width="0.14">10</text>
<text transform="translate(46.48,241.88) scale(0.8717,1)" font-size="12.8" fill="#000" stroke-width="0.10">3</text>
<text transform="translate(24.12,321.03) scale(1.1285,1)" font-size="17.5" fill="#000" stroke-width="0.14">10</text>
<text transform="translate(46.45,314.62) scale(0.8851,1)" font-size="12.8" fill="#000" stroke-width="0.10">1</text>
<text transform="translate(114.78,618.60) scale(1.0827,1)" font-size="17.9" fill="#000" stroke-width="0.14">75360800</text>
<text transform="translate(235.86,618.60) scale(1.0827,1)" font-size="17.9" fill="#000" stroke-width="0.14">75361600</text>
<text transform="translate(356.94,618.60) scale(1.0827,1)" font-size="17.9" fill="#000" stroke-width="0.14">75362400</text>
<text transform="translate(478.02,618.60) scale(1.0827,1)" font-size="17.9" fill="#000" stroke-width="0.14">75363200</text>
<text transform="translate(599.10,618.60) scale(1.0827,1)" font-size="17.9" fill="#000" stroke-width="0.14">75364000</text>
<text transform="translate(24.12,453.50) scale(1.1285,1)" font-size="17.5" fill="#000" stroke-width="0.14">10</text>
<text transform="translate(46.48,447.10) scale(0.8717,1)" font-size="12.8" fill="#000" stroke-width="0.10">3</text>
<text transform="translate(24.12,512.30) scale(1.1285,1)" font-size="17.5" fill="#000" stroke-width="0.14">10</text>
<text transform="translate(46.45,505.90) scale(0.8851,1)" font-size="12.8" fill="#000" stroke-width="0.10">1</text>
<text transform="translate(13.41,571.10) scale(1.1343,1)" font-size="17.5" fill="#000" stroke-width="0.14">10</text>
<text transform="translate(35.44,564.70) scale(1.1915,1)" font-size="12.8" fill="#000" stroke-width="0.10">−1</text>
<text transform="translate(99.78,830.30) scale(1.0827,1)" font-size="17.9" fill="#000" stroke-width="0.14">78228000</text>
<text transform="translate(220.86,830.30) scale(1.0827,1)" font-size="17.9" fill="#000" stroke-width="0.14">78228800</text>
<text transform="translate(341.94,830.30) scale(1.0827,1)" font-size="17.9" fill="#000" stroke-width="0.14">78229600</text>
<text transform="translate(463.02,830.30) scale(1.0827,1)" font-size="17.9" fill="#000" stroke-width="0.14">78230400</text>
<text transform="translate(584.10,830.30) scale(1.0827,1)" font-size="17.9" fill="#000" stroke-width="0.14">78231200</text>
<text transform="translate(24.12,692.70) scale(1.1285,1)" font-size="17.5" fill="#000" stroke-width="0.14">10</text>
<text transform="translate(46.32,686.30) scale(0.9100,1)" font-size="12.8" fill="#000" stroke-width="0.10">2</text>
<text transform="translate(24.12,755.60) scale(1.1285,1)" font-size="17.5" fill="#000" stroke-width="0.14">10</text>
<text transform="translate(46.46,749.20) scale(0.8671,1)" font-size="12.8" fill="#000" stroke-width="0.10">0</text>
<text transform="translate(250.27,857.30) scale(1.0494,1)" font-size="26.5" fill="#000" stroke-width="0.21">Time-of-Flight (ns)</text>
<text transform="translate(19.0,501.99) rotate(-90) scale(1.0824,1)" font-size="25.6" fill="#000" stroke-width="0.20">Counts per 16.0 ns</text>
</g>
</svg>
</body></html>
